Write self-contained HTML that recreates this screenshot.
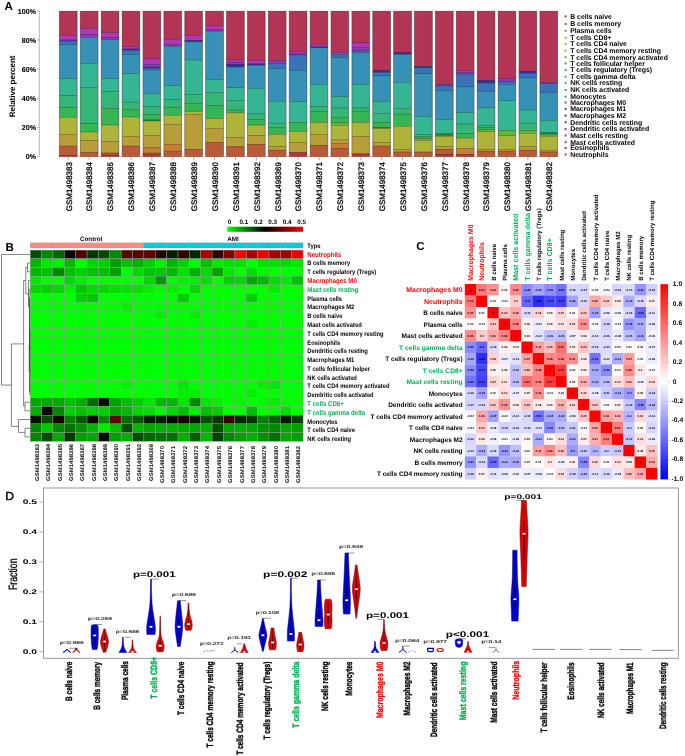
<!DOCTYPE html>
<html><head><meta charset="utf-8"><title>Figure</title><style>html,body{margin:0;padding:0;background:#fff}svg{display:block;will-change:transform}text{font-family:"Liberation Sans",sans-serif;text-rendering:geometricPrecision}</style></head><body>
<svg width="685" height="756" viewBox="0 0 685 756">
<rect width="685" height="756" fill="#fff"/>
<g id="panelA">
<text transform="translate(4.50,9.80)" font-size="11.6" font-weight="bold" fill="#000" text-anchor="start" >A</text>
<path d="M39.3 10.9V156.4" stroke="#777" stroke-width="0.55" fill="none"/>
<path d="M37 156.40H39.3" stroke="#777" stroke-width="0.55"/>
<text transform="translate(36.00,159.10)" font-size="7.1" font-weight="bold" fill="#000" text-anchor="end" stroke="#000" stroke-width="0.12">0%</text>
<path d="M37 127.30H39.3" stroke="#777" stroke-width="0.55"/>
<text transform="translate(36.00,130.00)" font-size="7.1" font-weight="bold" fill="#000" text-anchor="end" stroke="#000" stroke-width="0.12">20%</text>
<path d="M37 98.20H39.3" stroke="#777" stroke-width="0.55"/>
<text transform="translate(36.00,100.90)" font-size="7.1" font-weight="bold" fill="#000" text-anchor="end" stroke="#000" stroke-width="0.12">40%</text>
<path d="M37 69.10H39.3" stroke="#777" stroke-width="0.55"/>
<text transform="translate(36.00,71.80)" font-size="7.1" font-weight="bold" fill="#000" text-anchor="end" stroke="#000" stroke-width="0.12">60%</text>
<path d="M37 40.00H39.3" stroke="#777" stroke-width="0.55"/>
<text transform="translate(36.00,42.70)" font-size="7.1" font-weight="bold" fill="#000" text-anchor="end" stroke="#000" stroke-width="0.12">80%</text>
<path d="M37 10.90H39.3" stroke="#777" stroke-width="0.55"/>
<text transform="translate(36.00,13.60)" font-size="7.1" font-weight="bold" fill="#000" text-anchor="end" stroke="#000" stroke-width="0.12">100%</text>
<text transform="translate(15.00,86.40) rotate(-90)" font-size="8.0" font-weight="bold" fill="#000" text-anchor="middle" >Relative percent</text>
<path d="M59.1 156.70H557.97" stroke="#9a9a9a" stroke-width="0.7"/>
<rect x="58.90" y="10.70" width="18.80" height="146.10" fill="#b9b9b9"/>
<rect x="59.60" y="11.30" width="17.40" height="24.09" fill="#B23556" stroke="#6A1F33" stroke-width="0.45"/>
<rect x="59.60" y="35.39" width="17.40" height="4.64" fill="#B038B5" stroke="#69216C" stroke-width="0.45"/>
<rect x="59.60" y="40.03" width="17.40" height="1.31" fill="#6038B5" stroke="#39216C" stroke-width="0.45"/>
<rect x="59.60" y="41.34" width="17.40" height="3.34" fill="#3873B8" stroke="#21456E" stroke-width="0.45"/>
<rect x="59.60" y="44.67" width="17.40" height="33.95" fill="#3790B5" stroke="#21566C" stroke-width="0.45"/>
<rect x="59.60" y="78.63" width="17.40" height="17.12" fill="#35B593" stroke="#1F6C58" stroke-width="0.45"/>
<rect x="59.60" y="95.75" width="17.40" height="11.61" fill="#35B577" stroke="#1F6C47" stroke-width="0.45"/>
<rect x="59.60" y="107.36" width="17.40" height="9.87" fill="#35B553" stroke="#1F6C31" stroke-width="0.45"/>
<rect x="59.60" y="117.22" width="17.40" height="17.12" fill="#AEB33A" stroke="#686B22" stroke-width="0.45"/>
<rect x="59.60" y="134.34" width="17.40" height="11.75" fill="#B89E38" stroke="#6E5E21" stroke-width="0.45"/>
<rect x="59.60" y="146.10" width="17.40" height="9.43" fill="#B95A38" stroke="#6F3621" stroke-width="0.45"/>
<rect x="59.60" y="155.53" width="17.40" height="0.87" fill="#B4363A" stroke="#6C2022" stroke-width="0.45"/>
<path d="M68.30 156.90V160.20" stroke="#8a8a8a" stroke-width="0.7"/>
<text transform="translate(71.60,162.20) rotate(-90)" font-size="7.95" font-weight="normal" fill="#000" text-anchor="end" stroke="#000" stroke-width="0.3">GSM1498383</text>
<rect x="79.79" y="10.70" width="18.80" height="146.10" fill="#b9b9b9"/>
<rect x="80.49" y="11.30" width="17.40" height="17.27" fill="#B23556" stroke="#6A1F33" stroke-width="0.45"/>
<rect x="80.49" y="28.57" width="17.40" height="5.95" fill="#B038B5" stroke="#69216C" stroke-width="0.45"/>
<rect x="80.49" y="34.52" width="17.40" height="2.76" fill="#8A38B5" stroke="#52216C" stroke-width="0.45"/>
<rect x="80.49" y="37.27" width="17.40" height="26.12" fill="#3790B5" stroke="#21566C" stroke-width="0.45"/>
<rect x="80.49" y="63.39" width="17.40" height="24.09" fill="#35B593" stroke="#1F6C58" stroke-width="0.45"/>
<rect x="80.49" y="87.48" width="17.40" height="36.13" fill="#35B577" stroke="#1F6C47" stroke-width="0.45"/>
<rect x="80.49" y="123.61" width="17.40" height="8.42" fill="#35B553" stroke="#1F6C31" stroke-width="0.45"/>
<rect x="80.49" y="132.02" width="17.40" height="8.56" fill="#AEB33A" stroke="#686B22" stroke-width="0.45"/>
<rect x="80.49" y="140.58" width="17.40" height="12.04" fill="#B89E38" stroke="#6E5E21" stroke-width="0.45"/>
<rect x="80.49" y="152.63" width="17.40" height="3.77" fill="#B95A38" stroke="#6F3621" stroke-width="0.45"/>
<path d="M89.19 156.90V160.20" stroke="#8a8a8a" stroke-width="0.7"/>
<text transform="translate(92.49,162.20) rotate(-90)" font-size="7.95" font-weight="normal" fill="#000" text-anchor="end" stroke="#000" stroke-width="0.3">GSM1498384</text>
<rect x="100.68" y="10.70" width="18.80" height="146.10" fill="#b9b9b9"/>
<rect x="101.38" y="11.30" width="17.40" height="21.33" fill="#B23556" stroke="#6A1F33" stroke-width="0.45"/>
<rect x="101.38" y="32.63" width="17.40" height="4.79" fill="#B038B5" stroke="#69216C" stroke-width="0.45"/>
<rect x="101.38" y="37.42" width="17.40" height="2.32" fill="#8A38B5" stroke="#52216C" stroke-width="0.45"/>
<rect x="101.38" y="39.74" width="17.40" height="38.89" fill="#3790B5" stroke="#21566C" stroke-width="0.45"/>
<rect x="101.38" y="78.63" width="17.40" height="12.91" fill="#35B593" stroke="#1F6C58" stroke-width="0.45"/>
<rect x="101.38" y="91.54" width="17.40" height="16.98" fill="#35B577" stroke="#1F6C47" stroke-width="0.45"/>
<rect x="101.38" y="108.52" width="17.40" height="16.54" fill="#35B553" stroke="#1F6C31" stroke-width="0.45"/>
<rect x="101.38" y="125.06" width="17.40" height="16.40" fill="#AEB33A" stroke="#686B22" stroke-width="0.45"/>
<rect x="101.38" y="141.45" width="17.40" height="11.61" fill="#B89E38" stroke="#6E5E21" stroke-width="0.45"/>
<rect x="101.38" y="153.06" width="17.40" height="2.03" fill="#B95A38" stroke="#6F3621" stroke-width="0.45"/>
<rect x="101.38" y="155.09" width="17.40" height="1.31" fill="#B4363A" stroke="#6C2022" stroke-width="0.45"/>
<path d="M110.08 156.90V160.20" stroke="#8a8a8a" stroke-width="0.7"/>
<text transform="translate(113.38,162.20) rotate(-90)" font-size="7.95" font-weight="normal" fill="#000" text-anchor="end" stroke="#000" stroke-width="0.3">GSM1498385</text>
<rect x="121.57" y="10.70" width="18.80" height="146.10" fill="#b9b9b9"/>
<rect x="122.27" y="11.30" width="17.40" height="35.26" fill="#B23556" stroke="#6A1F33" stroke-width="0.45"/>
<rect x="122.27" y="46.56" width="17.40" height="2.47" fill="#B038B5" stroke="#69216C" stroke-width="0.45"/>
<rect x="122.27" y="49.03" width="17.40" height="1.16" fill="#3B2F9E" stroke="#231C5E" stroke-width="0.45"/>
<rect x="122.27" y="50.19" width="17.40" height="4.35" fill="#3873B8" stroke="#21456E" stroke-width="0.45"/>
<rect x="122.27" y="54.54" width="17.40" height="19.15" fill="#3790B5" stroke="#21566C" stroke-width="0.45"/>
<rect x="122.27" y="73.69" width="17.40" height="28.44" fill="#35B593" stroke="#1F6C58" stroke-width="0.45"/>
<rect x="122.27" y="102.13" width="17.40" height="7.11" fill="#35B577" stroke="#1F6C47" stroke-width="0.45"/>
<rect x="122.27" y="109.24" width="17.40" height="7.84" fill="#35B553" stroke="#1F6C31" stroke-width="0.45"/>
<rect x="122.27" y="117.08" width="17.40" height="19.30" fill="#AEB33A" stroke="#686B22" stroke-width="0.45"/>
<rect x="122.27" y="136.38" width="17.40" height="9.72" fill="#B89E38" stroke="#6E5E21" stroke-width="0.45"/>
<rect x="122.27" y="146.10" width="17.40" height="10.30" fill="#B95A38" stroke="#6F3621" stroke-width="0.45"/>
<path d="M130.97 156.90V160.20" stroke="#8a8a8a" stroke-width="0.7"/>
<text transform="translate(134.27,162.20) rotate(-90)" font-size="7.95" font-weight="normal" fill="#000" text-anchor="end" stroke="#000" stroke-width="0.3">GSM1498386</text>
<rect x="142.46" y="10.70" width="18.80" height="146.10" fill="#b9b9b9"/>
<rect x="143.16" y="11.30" width="17.40" height="47.45" fill="#B23556" stroke="#6A1F33" stroke-width="0.45"/>
<rect x="143.16" y="58.75" width="17.40" height="5.51" fill="#B038B5" stroke="#69216C" stroke-width="0.45"/>
<rect x="143.16" y="64.26" width="17.40" height="2.90" fill="#8A38B5" stroke="#52216C" stroke-width="0.45"/>
<rect x="143.16" y="67.16" width="17.40" height="1.02" fill="#3B2F9E" stroke="#231C5E" stroke-width="0.45"/>
<rect x="143.16" y="68.18" width="17.40" height="1.74" fill="#3873B8" stroke="#21456E" stroke-width="0.45"/>
<rect x="143.16" y="69.92" width="17.40" height="23.51" fill="#3790B5" stroke="#21566C" stroke-width="0.45"/>
<rect x="143.16" y="93.43" width="17.40" height="13.06" fill="#35B593" stroke="#1F6C58" stroke-width="0.45"/>
<rect x="143.16" y="106.49" width="17.40" height="7.98" fill="#35B577" stroke="#1F6C47" stroke-width="0.45"/>
<rect x="143.16" y="114.47" width="17.40" height="5.51" fill="#35B553" stroke="#1F6C31" stroke-width="0.45"/>
<rect x="143.16" y="119.98" width="17.40" height="1.02" fill="#2E8A35" stroke="#1B521F" stroke-width="0.45"/>
<rect x="143.16" y="121.00" width="17.40" height="14.51" fill="#AEB33A" stroke="#686B22" stroke-width="0.45"/>
<rect x="143.16" y="135.51" width="17.40" height="12.33" fill="#B89E38" stroke="#6E5E21" stroke-width="0.45"/>
<rect x="143.16" y="147.84" width="17.40" height="5.22" fill="#C47F35" stroke="#754C1F" stroke-width="0.45"/>
<rect x="143.16" y="153.06" width="17.40" height="1.60" fill="#B95A38" stroke="#6F3621" stroke-width="0.45"/>
<rect x="143.16" y="154.66" width="17.40" height="1.74" fill="#B4363A" stroke="#6C2022" stroke-width="0.45"/>
<path d="M151.86 156.90V160.20" stroke="#8a8a8a" stroke-width="0.7"/>
<text transform="translate(155.16,162.20) rotate(-90)" font-size="7.95" font-weight="normal" fill="#000" text-anchor="end" stroke="#000" stroke-width="0.3">GSM1498387</text>
<rect x="163.35" y="10.70" width="18.80" height="146.10" fill="#b9b9b9"/>
<rect x="164.05" y="11.30" width="17.40" height="28.29" fill="#B23556" stroke="#6A1F33" stroke-width="0.45"/>
<rect x="164.05" y="39.59" width="17.40" height="4.79" fill="#B038B5" stroke="#69216C" stroke-width="0.45"/>
<rect x="164.05" y="44.38" width="17.40" height="2.18" fill="#8A38B5" stroke="#52216C" stroke-width="0.45"/>
<rect x="164.05" y="46.56" width="17.40" height="39.03" fill="#3790B5" stroke="#21566C" stroke-width="0.45"/>
<rect x="164.05" y="85.59" width="17.40" height="13.93" fill="#35B593" stroke="#1F6C58" stroke-width="0.45"/>
<rect x="164.05" y="99.52" width="17.40" height="7.84" fill="#35B577" stroke="#1F6C47" stroke-width="0.45"/>
<rect x="164.05" y="107.36" width="17.40" height="7.98" fill="#35B553" stroke="#1F6C31" stroke-width="0.45"/>
<rect x="164.05" y="115.34" width="17.40" height="9.14" fill="#AEB33A" stroke="#686B22" stroke-width="0.45"/>
<rect x="164.05" y="124.48" width="17.40" height="19.73" fill="#B89E38" stroke="#6E5E21" stroke-width="0.45"/>
<rect x="164.05" y="144.21" width="17.40" height="6.96" fill="#C47F35" stroke="#754C1F" stroke-width="0.45"/>
<rect x="164.05" y="151.18" width="17.40" height="5.22" fill="#B95A38" stroke="#6F3621" stroke-width="0.45"/>
<path d="M172.75 156.90V160.20" stroke="#8a8a8a" stroke-width="0.7"/>
<text transform="translate(176.05,162.20) rotate(-90)" font-size="7.95" font-weight="normal" fill="#000" text-anchor="end" stroke="#000" stroke-width="0.3">GSM1498388</text>
<rect x="184.24" y="10.70" width="18.80" height="146.10" fill="#b9b9b9"/>
<rect x="184.94" y="11.30" width="17.40" height="24.09" fill="#B23556" stroke="#6A1F33" stroke-width="0.45"/>
<rect x="184.94" y="35.39" width="17.40" height="5.08" fill="#B038B5" stroke="#69216C" stroke-width="0.45"/>
<rect x="184.94" y="40.47" width="17.40" height="1.45" fill="#3B2F9E" stroke="#231C5E" stroke-width="0.45"/>
<rect x="184.94" y="41.92" width="17.40" height="18.14" fill="#3790B5" stroke="#21566C" stroke-width="0.45"/>
<rect x="184.94" y="60.05" width="17.40" height="34.24" fill="#35B593" stroke="#1F6C58" stroke-width="0.45"/>
<rect x="184.94" y="94.30" width="17.40" height="9.00" fill="#35B577" stroke="#1F6C47" stroke-width="0.45"/>
<rect x="184.94" y="103.29" width="17.40" height="8.27" fill="#35B553" stroke="#1F6C31" stroke-width="0.45"/>
<rect x="184.94" y="111.56" width="17.40" height="2.90" fill="#AEB33A" stroke="#686B22" stroke-width="0.45"/>
<rect x="184.94" y="114.47" width="17.40" height="35.11" fill="#B89E38" stroke="#6E5E21" stroke-width="0.45"/>
<rect x="184.94" y="149.58" width="17.40" height="6.82" fill="#B95A38" stroke="#6F3621" stroke-width="0.45"/>
<path d="M193.64 156.90V160.20" stroke="#8a8a8a" stroke-width="0.7"/>
<text transform="translate(196.94,162.20) rotate(-90)" font-size="7.95" font-weight="normal" fill="#000" text-anchor="end" stroke="#000" stroke-width="0.3">GSM1498389</text>
<rect x="205.13" y="10.70" width="18.80" height="146.10" fill="#b9b9b9"/>
<rect x="205.83" y="11.30" width="17.40" height="14.51" fill="#B23556" stroke="#6A1F33" stroke-width="0.45"/>
<rect x="205.83" y="25.81" width="17.40" height="4.06" fill="#B038B5" stroke="#69216C" stroke-width="0.45"/>
<rect x="205.83" y="29.87" width="17.40" height="1.31" fill="#8A38B5" stroke="#52216C" stroke-width="0.45"/>
<rect x="205.83" y="31.18" width="17.40" height="48.46" fill="#3790B5" stroke="#21566C" stroke-width="0.45"/>
<rect x="205.83" y="79.64" width="17.40" height="12.77" fill="#35B593" stroke="#1F6C58" stroke-width="0.45"/>
<rect x="205.83" y="92.41" width="17.40" height="13.06" fill="#35B577" stroke="#1F6C47" stroke-width="0.45"/>
<rect x="205.83" y="105.47" width="17.40" height="13.06" fill="#35B553" stroke="#1F6C31" stroke-width="0.45"/>
<rect x="205.83" y="118.53" width="17.40" height="9.72" fill="#AEB33A" stroke="#686B22" stroke-width="0.45"/>
<rect x="205.83" y="128.25" width="17.40" height="14.51" fill="#B89E38" stroke="#6E5E21" stroke-width="0.45"/>
<rect x="205.83" y="142.76" width="17.40" height="13.64" fill="#B95A38" stroke="#6F3621" stroke-width="0.45"/>
<path d="M214.53 156.90V160.20" stroke="#8a8a8a" stroke-width="0.7"/>
<text transform="translate(217.83,162.20) rotate(-90)" font-size="7.95" font-weight="normal" fill="#000" text-anchor="end" stroke="#000" stroke-width="0.3">GSM1498390</text>
<rect x="226.02" y="10.70" width="18.80" height="146.10" fill="#b9b9b9"/>
<rect x="226.72" y="11.30" width="17.40" height="48.75" fill="#B23556" stroke="#6A1F33" stroke-width="0.45"/>
<rect x="226.72" y="60.05" width="17.40" height="2.47" fill="#B038B5" stroke="#69216C" stroke-width="0.45"/>
<rect x="226.72" y="62.52" width="17.40" height="1.74" fill="#8A38B5" stroke="#52216C" stroke-width="0.45"/>
<rect x="226.72" y="64.26" width="17.40" height="2.90" fill="#3B2F9E" stroke="#231C5E" stroke-width="0.45"/>
<rect x="226.72" y="67.16" width="17.40" height="20.60" fill="#3790B5" stroke="#21566C" stroke-width="0.45"/>
<rect x="226.72" y="87.77" width="17.40" height="12.48" fill="#35B593" stroke="#1F6C58" stroke-width="0.45"/>
<rect x="226.72" y="100.25" width="17.40" height="9.87" fill="#35B577" stroke="#1F6C47" stroke-width="0.45"/>
<rect x="226.72" y="110.11" width="17.40" height="2.76" fill="#35B553" stroke="#1F6C31" stroke-width="0.45"/>
<rect x="226.72" y="112.87" width="17.40" height="24.67" fill="#AEB33A" stroke="#686B22" stroke-width="0.45"/>
<rect x="226.72" y="137.54" width="17.40" height="9.29" fill="#B89E38" stroke="#6E5E21" stroke-width="0.45"/>
<rect x="226.72" y="146.82" width="17.40" height="9.58" fill="#B95A38" stroke="#6F3621" stroke-width="0.45"/>
<path d="M235.42 156.90V160.20" stroke="#8a8a8a" stroke-width="0.7"/>
<text transform="translate(238.72,162.20) rotate(-90)" font-size="7.95" font-weight="normal" fill="#000" text-anchor="end" stroke="#000" stroke-width="0.3">GSM1498391</text>
<rect x="246.91" y="10.70" width="18.80" height="146.10" fill="#b9b9b9"/>
<rect x="247.61" y="11.30" width="17.40" height="49.33" fill="#B23556" stroke="#6A1F33" stroke-width="0.45"/>
<rect x="247.61" y="60.63" width="17.40" height="3.34" fill="#B038B5" stroke="#69216C" stroke-width="0.45"/>
<rect x="247.61" y="63.97" width="17.40" height="1.31" fill="#3B2F9E" stroke="#231C5E" stroke-width="0.45"/>
<rect x="247.61" y="65.28" width="17.40" height="23.07" fill="#3790B5" stroke="#21566C" stroke-width="0.45"/>
<rect x="247.61" y="88.35" width="17.40" height="25.54" fill="#35B593" stroke="#1F6C58" stroke-width="0.45"/>
<rect x="247.61" y="113.89" width="17.40" height="5.66" fill="#35B577" stroke="#1F6C47" stroke-width="0.45"/>
<rect x="247.61" y="119.54" width="17.40" height="5.51" fill="#35B553" stroke="#1F6C31" stroke-width="0.45"/>
<rect x="247.61" y="125.06" width="17.40" height="10.59" fill="#AEB33A" stroke="#686B22" stroke-width="0.45"/>
<rect x="247.61" y="135.65" width="17.40" height="8.56" fill="#B89E38" stroke="#6E5E21" stroke-width="0.45"/>
<rect x="247.61" y="144.21" width="17.40" height="12.19" fill="#B95A38" stroke="#6F3621" stroke-width="0.45"/>
<path d="M256.31 156.90V160.20" stroke="#8a8a8a" stroke-width="0.7"/>
<text transform="translate(259.61,162.20) rotate(-90)" font-size="7.95" font-weight="normal" fill="#000" text-anchor="end" stroke="#000" stroke-width="0.3">GSM1498392</text>
<rect x="267.80" y="10.70" width="18.80" height="146.10" fill="#b9b9b9"/>
<rect x="268.50" y="11.30" width="17.40" height="49.33" fill="#B23556" stroke="#6A1F33" stroke-width="0.45"/>
<rect x="268.50" y="60.63" width="17.40" height="2.76" fill="#8A38B5" stroke="#52216C" stroke-width="0.45"/>
<rect x="268.50" y="63.39" width="17.40" height="5.22" fill="#3873B8" stroke="#21456E" stroke-width="0.45"/>
<rect x="268.50" y="68.61" width="17.40" height="32.65" fill="#3790B5" stroke="#21566C" stroke-width="0.45"/>
<rect x="268.50" y="101.26" width="17.40" height="21.91" fill="#35B593" stroke="#1F6C58" stroke-width="0.45"/>
<rect x="268.50" y="123.17" width="17.40" height="4.06" fill="#35B577" stroke="#1F6C47" stroke-width="0.45"/>
<rect x="268.50" y="127.23" width="17.40" height="7.11" fill="#35B553" stroke="#1F6C31" stroke-width="0.45"/>
<rect x="268.50" y="134.34" width="17.40" height="12.19" fill="#AEB33A" stroke="#686B22" stroke-width="0.45"/>
<rect x="268.50" y="146.53" width="17.40" height="3.63" fill="#B89E38" stroke="#6E5E21" stroke-width="0.45"/>
<rect x="268.50" y="150.16" width="17.40" height="6.24" fill="#B95A38" stroke="#6F3621" stroke-width="0.45"/>
<path d="M277.20 156.90V160.20" stroke="#8a8a8a" stroke-width="0.7"/>
<text transform="translate(280.50,162.20) rotate(-90)" font-size="7.95" font-weight="normal" fill="#000" text-anchor="end" stroke="#000" stroke-width="0.3">GSM1498369</text>
<rect x="288.69" y="10.70" width="18.80" height="146.10" fill="#b9b9b9"/>
<rect x="289.39" y="11.30" width="17.40" height="40.34" fill="#B23556" stroke="#6A1F33" stroke-width="0.45"/>
<rect x="289.39" y="51.64" width="17.40" height="1.74" fill="#B038B5" stroke="#69216C" stroke-width="0.45"/>
<rect x="289.39" y="53.38" width="17.40" height="1.60" fill="#8A38B5" stroke="#52216C" stroke-width="0.45"/>
<rect x="289.39" y="54.98" width="17.40" height="15.53" fill="#3873B8" stroke="#21456E" stroke-width="0.45"/>
<rect x="289.39" y="70.50" width="17.40" height="31.20" fill="#3790B5" stroke="#21566C" stroke-width="0.45"/>
<rect x="289.39" y="101.70" width="17.40" height="20.89" fill="#35B593" stroke="#1F6C58" stroke-width="0.45"/>
<rect x="289.39" y="122.59" width="17.40" height="9.00" fill="#35B553" stroke="#1F6C31" stroke-width="0.45"/>
<rect x="289.39" y="131.59" width="17.40" height="10.88" fill="#AEB33A" stroke="#686B22" stroke-width="0.45"/>
<rect x="289.39" y="142.47" width="17.40" height="10.01" fill="#B89E38" stroke="#6E5E21" stroke-width="0.45"/>
<rect x="289.39" y="152.48" width="17.40" height="3.92" fill="#B4363A" stroke="#6C2022" stroke-width="0.45"/>
<path d="M298.09 156.90V160.20" stroke="#8a8a8a" stroke-width="0.7"/>
<text transform="translate(301.39,162.20) rotate(-90)" font-size="7.95" font-weight="normal" fill="#000" text-anchor="end" stroke="#000" stroke-width="0.3">GSM1498370</text>
<rect x="309.58" y="10.70" width="18.80" height="146.10" fill="#b9b9b9"/>
<rect x="310.28" y="11.30" width="17.40" height="33.08" fill="#B23556" stroke="#6A1F33" stroke-width="0.45"/>
<rect x="310.28" y="44.38" width="17.40" height="2.61" fill="#B038B5" stroke="#69216C" stroke-width="0.45"/>
<rect x="310.28" y="46.99" width="17.40" height="0.87" fill="#3B2F9E" stroke="#231C5E" stroke-width="0.45"/>
<rect x="310.28" y="47.87" width="17.40" height="36.57" fill="#3790B5" stroke="#21566C" stroke-width="0.45"/>
<rect x="310.28" y="84.43" width="17.40" height="22.06" fill="#35B593" stroke="#1F6C58" stroke-width="0.45"/>
<rect x="310.28" y="106.49" width="17.40" height="4.93" fill="#35B577" stroke="#1F6C47" stroke-width="0.45"/>
<rect x="310.28" y="111.42" width="17.40" height="11.17" fill="#35B553" stroke="#1F6C31" stroke-width="0.45"/>
<rect x="310.28" y="122.59" width="17.40" height="11.75" fill="#AEB33A" stroke="#686B22" stroke-width="0.45"/>
<rect x="310.28" y="134.34" width="17.40" height="10.88" fill="#B89E38" stroke="#6E5E21" stroke-width="0.45"/>
<rect x="310.28" y="145.23" width="17.40" height="11.17" fill="#B95A38" stroke="#6F3621" stroke-width="0.45"/>
<path d="M318.98 156.90V160.20" stroke="#8a8a8a" stroke-width="0.7"/>
<text transform="translate(322.28,162.20) rotate(-90)" font-size="7.95" font-weight="normal" fill="#000" text-anchor="end" stroke="#000" stroke-width="0.3">GSM1498371</text>
<rect x="330.47" y="10.70" width="18.80" height="146.10" fill="#b9b9b9"/>
<rect x="331.17" y="11.30" width="17.40" height="41.21" fill="#B23556" stroke="#6A1F33" stroke-width="0.45"/>
<rect x="331.17" y="52.51" width="17.40" height="2.03" fill="#B038B5" stroke="#69216C" stroke-width="0.45"/>
<rect x="331.17" y="54.54" width="17.40" height="3.19" fill="#3873B8" stroke="#21456E" stroke-width="0.45"/>
<rect x="331.17" y="57.73" width="17.40" height="38.89" fill="#3790B5" stroke="#21566C" stroke-width="0.45"/>
<rect x="331.17" y="96.62" width="17.40" height="11.32" fill="#35B593" stroke="#1F6C58" stroke-width="0.45"/>
<rect x="331.17" y="107.94" width="17.40" height="9.29" fill="#35B577" stroke="#1F6C47" stroke-width="0.45"/>
<rect x="331.17" y="117.22" width="17.40" height="5.51" fill="#35B553" stroke="#1F6C31" stroke-width="0.45"/>
<rect x="331.17" y="122.74" width="17.40" height="2.61" fill="#5DB53A" stroke="#376C22" stroke-width="0.45"/>
<rect x="331.17" y="125.35" width="17.40" height="14.66" fill="#AEB33A" stroke="#686B22" stroke-width="0.45"/>
<rect x="331.17" y="140.00" width="17.40" height="3.34" fill="#B89E38" stroke="#6E5E21" stroke-width="0.45"/>
<rect x="331.17" y="143.34" width="17.40" height="4.93" fill="#C47F35" stroke="#754C1F" stroke-width="0.45"/>
<rect x="331.17" y="148.27" width="17.40" height="8.13" fill="#B95A38" stroke="#6F3621" stroke-width="0.45"/>
<path d="M339.87 156.90V160.20" stroke="#8a8a8a" stroke-width="0.7"/>
<text transform="translate(343.17,162.20) rotate(-90)" font-size="7.95" font-weight="normal" fill="#000" text-anchor="end" stroke="#000" stroke-width="0.3">GSM1498372</text>
<rect x="351.36" y="10.70" width="18.80" height="146.10" fill="#b9b9b9"/>
<rect x="352.06" y="11.30" width="17.40" height="31.63" fill="#B23556" stroke="#6A1F33" stroke-width="0.45"/>
<rect x="352.06" y="42.93" width="17.40" height="4.64" fill="#B038B5" stroke="#69216C" stroke-width="0.45"/>
<rect x="352.06" y="47.58" width="17.40" height="3.34" fill="#8A38B5" stroke="#52216C" stroke-width="0.45"/>
<rect x="352.06" y="50.91" width="17.40" height="1.89" fill="#3873B8" stroke="#21456E" stroke-width="0.45"/>
<rect x="352.06" y="52.80" width="17.40" height="31.78" fill="#3790B5" stroke="#21566C" stroke-width="0.45"/>
<rect x="352.06" y="84.58" width="17.40" height="23.36" fill="#35B593" stroke="#1F6C58" stroke-width="0.45"/>
<rect x="352.06" y="107.94" width="17.40" height="3.19" fill="#35B577" stroke="#1F6C47" stroke-width="0.45"/>
<rect x="352.06" y="111.13" width="17.40" height="11.46" fill="#35B553" stroke="#1F6C31" stroke-width="0.45"/>
<rect x="352.06" y="122.59" width="17.40" height="13.93" fill="#AEB33A" stroke="#686B22" stroke-width="0.45"/>
<rect x="352.06" y="136.52" width="17.40" height="17.41" fill="#B89E38" stroke="#6E5E21" stroke-width="0.45"/>
<rect x="352.06" y="153.93" width="17.40" height="2.47" fill="#B4363A" stroke="#6C2022" stroke-width="0.45"/>
<path d="M360.76 156.90V160.20" stroke="#8a8a8a" stroke-width="0.7"/>
<text transform="translate(364.06,162.20) rotate(-90)" font-size="7.95" font-weight="normal" fill="#000" text-anchor="end" stroke="#000" stroke-width="0.3">GSM1498373</text>
<rect x="372.25" y="10.70" width="18.80" height="146.10" fill="#b9b9b9"/>
<rect x="372.95" y="11.30" width="17.40" height="59.49" fill="#B23556" stroke="#6A1F33" stroke-width="0.45"/>
<rect x="372.95" y="70.79" width="17.40" height="1.60" fill="#3B2F9E" stroke="#231C5E" stroke-width="0.45"/>
<rect x="372.95" y="72.39" width="17.40" height="3.48" fill="#3873B8" stroke="#21456E" stroke-width="0.45"/>
<rect x="372.95" y="75.87" width="17.40" height="25.54" fill="#3790B5" stroke="#21566C" stroke-width="0.45"/>
<rect x="372.95" y="101.41" width="17.40" height="11.90" fill="#35B593" stroke="#1F6C58" stroke-width="0.45"/>
<rect x="372.95" y="113.31" width="17.40" height="9.00" fill="#35B577" stroke="#1F6C47" stroke-width="0.45"/>
<rect x="372.95" y="122.30" width="17.40" height="5.22" fill="#35B553" stroke="#1F6C31" stroke-width="0.45"/>
<rect x="372.95" y="127.53" width="17.40" height="1.02" fill="#2E8A35" stroke="#1B521F" stroke-width="0.45"/>
<rect x="372.95" y="128.54" width="17.40" height="13.93" fill="#AEB33A" stroke="#686B22" stroke-width="0.45"/>
<rect x="372.95" y="142.47" width="17.40" height="3.63" fill="#B89E38" stroke="#6E5E21" stroke-width="0.45"/>
<rect x="372.95" y="146.10" width="17.40" height="10.30" fill="#B95A38" stroke="#6F3621" stroke-width="0.45"/>
<path d="M381.65 156.90V160.20" stroke="#8a8a8a" stroke-width="0.7"/>
<text transform="translate(384.95,162.20) rotate(-90)" font-size="7.95" font-weight="normal" fill="#000" text-anchor="end" stroke="#000" stroke-width="0.3">GSM1498374</text>
<rect x="393.14" y="10.70" width="18.80" height="146.10" fill="#b9b9b9"/>
<rect x="393.84" y="11.30" width="17.40" height="41.50" fill="#B23556" stroke="#6A1F33" stroke-width="0.45"/>
<rect x="393.84" y="52.80" width="17.40" height="1.74" fill="#3B2F9E" stroke="#231C5E" stroke-width="0.45"/>
<rect x="393.84" y="54.54" width="17.40" height="27.71" fill="#3790B5" stroke="#21566C" stroke-width="0.45"/>
<rect x="393.84" y="82.25" width="17.40" height="26.12" fill="#35B593" stroke="#1F6C58" stroke-width="0.45"/>
<rect x="393.84" y="108.37" width="17.40" height="5.80" fill="#35B577" stroke="#1F6C47" stroke-width="0.45"/>
<rect x="393.84" y="114.18" width="17.40" height="12.19" fill="#35B553" stroke="#1F6C31" stroke-width="0.45"/>
<rect x="393.84" y="126.36" width="17.40" height="23.22" fill="#AEB33A" stroke="#686B22" stroke-width="0.45"/>
<rect x="393.84" y="149.58" width="17.40" height="2.47" fill="#B89E38" stroke="#6E5E21" stroke-width="0.45"/>
<rect x="393.84" y="152.05" width="17.40" height="4.35" fill="#B95A38" stroke="#6F3621" stroke-width="0.45"/>
<path d="M402.54 156.90V160.20" stroke="#8a8a8a" stroke-width="0.7"/>
<text transform="translate(405.84,162.20) rotate(-90)" font-size="7.95" font-weight="normal" fill="#000" text-anchor="end" stroke="#000" stroke-width="0.3">GSM1498375</text>
<rect x="414.03" y="10.70" width="18.80" height="146.10" fill="#b9b9b9"/>
<rect x="414.73" y="11.30" width="17.40" height="55.28" fill="#B23556" stroke="#6A1F33" stroke-width="0.45"/>
<rect x="414.73" y="66.58" width="17.40" height="1.31" fill="#3B2F9E" stroke="#231C5E" stroke-width="0.45"/>
<rect x="414.73" y="67.89" width="17.40" height="5.80" fill="#3873B8" stroke="#21456E" stroke-width="0.45"/>
<rect x="414.73" y="73.69" width="17.40" height="42.66" fill="#3790B5" stroke="#21566C" stroke-width="0.45"/>
<rect x="414.73" y="116.35" width="17.40" height="17.99" fill="#35B593" stroke="#1F6C58" stroke-width="0.45"/>
<rect x="414.73" y="134.34" width="17.40" height="1.89" fill="#35B577" stroke="#1F6C47" stroke-width="0.45"/>
<rect x="414.73" y="136.23" width="17.40" height="2.47" fill="#35B553" stroke="#1F6C31" stroke-width="0.45"/>
<rect x="414.73" y="138.70" width="17.40" height="1.60" fill="#5DB53A" stroke="#376C22" stroke-width="0.45"/>
<rect x="414.73" y="140.29" width="17.40" height="11.75" fill="#AEB33A" stroke="#686B22" stroke-width="0.45"/>
<rect x="414.73" y="152.05" width="17.40" height="4.35" fill="#B95A38" stroke="#6F3621" stroke-width="0.45"/>
<path d="M423.43 156.90V160.20" stroke="#8a8a8a" stroke-width="0.7"/>
<text transform="translate(426.73,162.20) rotate(-90)" font-size="7.95" font-weight="normal" fill="#000" text-anchor="end" stroke="#000" stroke-width="0.3">GSM1498376</text>
<rect x="434.92" y="10.70" width="18.80" height="146.10" fill="#b9b9b9"/>
<rect x="435.62" y="11.30" width="17.40" height="73.13" fill="#B23556" stroke="#6A1F33" stroke-width="0.45"/>
<rect x="435.62" y="84.43" width="17.40" height="1.45" fill="#8A38B5" stroke="#52216C" stroke-width="0.45"/>
<rect x="435.62" y="85.88" width="17.40" height="4.64" fill="#3873B8" stroke="#21456E" stroke-width="0.45"/>
<rect x="435.62" y="90.52" width="17.40" height="29.02" fill="#3790B5" stroke="#21566C" stroke-width="0.45"/>
<rect x="435.62" y="119.54" width="17.40" height="14.36" fill="#35B593" stroke="#1F6C58" stroke-width="0.45"/>
<rect x="435.62" y="133.91" width="17.40" height="2.32" fill="#2E8A35" stroke="#1B521F" stroke-width="0.45"/>
<rect x="435.62" y="136.23" width="17.40" height="10.30" fill="#AEB33A" stroke="#686B22" stroke-width="0.45"/>
<rect x="435.62" y="146.53" width="17.40" height="2.76" fill="#B89E38" stroke="#6E5E21" stroke-width="0.45"/>
<rect x="435.62" y="149.29" width="17.40" height="5.22" fill="#B95A38" stroke="#6F3621" stroke-width="0.45"/>
<rect x="435.62" y="154.51" width="17.40" height="1.89" fill="#B4363A" stroke="#6C2022" stroke-width="0.45"/>
<path d="M444.32 156.90V160.20" stroke="#8a8a8a" stroke-width="0.7"/>
<text transform="translate(447.62,162.20) rotate(-90)" font-size="7.95" font-weight="normal" fill="#000" text-anchor="end" stroke="#000" stroke-width="0.3">GSM1498377</text>
<rect x="455.81" y="10.70" width="18.80" height="146.10" fill="#b9b9b9"/>
<rect x="456.51" y="11.30" width="17.40" height="59.20" fill="#B23556" stroke="#6A1F33" stroke-width="0.45"/>
<rect x="456.51" y="70.50" width="17.40" height="2.03" fill="#B038B5" stroke="#69216C" stroke-width="0.45"/>
<rect x="456.51" y="72.53" width="17.40" height="2.03" fill="#8A38B5" stroke="#52216C" stroke-width="0.45"/>
<rect x="456.51" y="74.56" width="17.40" height="12.33" fill="#3873B8" stroke="#21456E" stroke-width="0.45"/>
<rect x="456.51" y="86.90" width="17.40" height="25.68" fill="#3790B5" stroke="#21566C" stroke-width="0.45"/>
<rect x="456.51" y="112.58" width="17.40" height="11.46" fill="#35B593" stroke="#1F6C58" stroke-width="0.45"/>
<rect x="456.51" y="124.04" width="17.40" height="9.43" fill="#35B577" stroke="#1F6C47" stroke-width="0.45"/>
<rect x="456.51" y="133.47" width="17.40" height="4.64" fill="#35B553" stroke="#1F6C31" stroke-width="0.45"/>
<rect x="456.51" y="138.12" width="17.40" height="10.16" fill="#AEB33A" stroke="#686B22" stroke-width="0.45"/>
<rect x="456.51" y="148.27" width="17.40" height="6.24" fill="#C47F35" stroke="#754C1F" stroke-width="0.45"/>
<rect x="456.51" y="154.51" width="17.40" height="1.89" fill="#B4363A" stroke="#6C2022" stroke-width="0.45"/>
<path d="M465.21 156.90V160.20" stroke="#8a8a8a" stroke-width="0.7"/>
<text transform="translate(468.51,162.20) rotate(-90)" font-size="7.95" font-weight="normal" fill="#000" text-anchor="end" stroke="#000" stroke-width="0.3">GSM1498378</text>
<rect x="476.70" y="10.70" width="18.80" height="146.10" fill="#b9b9b9"/>
<rect x="477.40" y="11.30" width="17.40" height="69.36" fill="#B23556" stroke="#6A1F33" stroke-width="0.45"/>
<rect x="477.40" y="80.66" width="17.40" height="2.32" fill="#3B2F9E" stroke="#231C5E" stroke-width="0.45"/>
<rect x="477.40" y="82.98" width="17.40" height="8.56" fill="#3873B8" stroke="#21456E" stroke-width="0.45"/>
<rect x="477.40" y="91.54" width="17.40" height="16.40" fill="#3790B5" stroke="#21566C" stroke-width="0.45"/>
<rect x="477.40" y="107.94" width="17.40" height="17.41" fill="#35B593" stroke="#1F6C58" stroke-width="0.45"/>
<rect x="477.40" y="125.35" width="17.40" height="2.32" fill="#35B577" stroke="#1F6C47" stroke-width="0.45"/>
<rect x="477.40" y="127.67" width="17.40" height="2.03" fill="#35B553" stroke="#1F6C31" stroke-width="0.45"/>
<rect x="477.40" y="129.70" width="17.40" height="1.89" fill="#5DB53A" stroke="#376C22" stroke-width="0.45"/>
<rect x="477.40" y="131.59" width="17.40" height="17.70" fill="#AEB33A" stroke="#686B22" stroke-width="0.45"/>
<rect x="477.40" y="149.29" width="17.40" height="1.89" fill="#B89E38" stroke="#6E5E21" stroke-width="0.45"/>
<rect x="477.40" y="151.18" width="17.40" height="5.22" fill="#B95A38" stroke="#6F3621" stroke-width="0.45"/>
<path d="M486.10 156.90V160.20" stroke="#8a8a8a" stroke-width="0.7"/>
<text transform="translate(489.40,162.20) rotate(-90)" font-size="7.95" font-weight="normal" fill="#000" text-anchor="end" stroke="#000" stroke-width="0.3">GSM1498379</text>
<rect x="497.59" y="10.70" width="18.80" height="146.10" fill="#b9b9b9"/>
<rect x="498.29" y="11.30" width="17.40" height="67.33" fill="#B23556" stroke="#6A1F33" stroke-width="0.45"/>
<rect x="498.29" y="78.63" width="17.40" height="3.34" fill="#8A38B5" stroke="#52216C" stroke-width="0.45"/>
<rect x="498.29" y="81.96" width="17.40" height="2.47" fill="#3873B8" stroke="#21456E" stroke-width="0.45"/>
<rect x="498.29" y="84.43" width="17.40" height="16.40" fill="#3790B5" stroke="#21566C" stroke-width="0.45"/>
<rect x="498.29" y="100.83" width="17.40" height="29.46" fill="#35B593" stroke="#1F6C58" stroke-width="0.45"/>
<rect x="498.29" y="130.28" width="17.40" height="5.51" fill="#5DB53A" stroke="#376C22" stroke-width="0.45"/>
<rect x="498.29" y="135.80" width="17.40" height="13.49" fill="#AEB33A" stroke="#686B22" stroke-width="0.45"/>
<rect x="498.29" y="149.29" width="17.40" height="1.89" fill="#B89E38" stroke="#6E5E21" stroke-width="0.45"/>
<rect x="498.29" y="151.18" width="17.40" height="5.22" fill="#B95A38" stroke="#6F3621" stroke-width="0.45"/>
<path d="M506.99 156.90V160.20" stroke="#8a8a8a" stroke-width="0.7"/>
<text transform="translate(510.29,162.20) rotate(-90)" font-size="7.95" font-weight="normal" fill="#000" text-anchor="end" stroke="#000" stroke-width="0.3">GSM1498380</text>
<rect x="518.48" y="10.70" width="18.80" height="146.10" fill="#b9b9b9"/>
<rect x="519.18" y="11.30" width="17.40" height="59.93" fill="#B23556" stroke="#6A1F33" stroke-width="0.45"/>
<rect x="519.18" y="71.23" width="17.40" height="2.03" fill="#3B2F9E" stroke="#231C5E" stroke-width="0.45"/>
<rect x="519.18" y="73.26" width="17.40" height="4.50" fill="#3873B8" stroke="#21456E" stroke-width="0.45"/>
<rect x="519.18" y="77.76" width="17.40" height="32.36" fill="#3790B5" stroke="#21566C" stroke-width="0.45"/>
<rect x="519.18" y="110.11" width="17.40" height="13.06" fill="#35B593" stroke="#1F6C58" stroke-width="0.45"/>
<rect x="519.18" y="123.17" width="17.40" height="7.11" fill="#35B577" stroke="#1F6C47" stroke-width="0.45"/>
<rect x="519.18" y="130.28" width="17.40" height="3.19" fill="#5DB53A" stroke="#376C22" stroke-width="0.45"/>
<rect x="519.18" y="133.47" width="17.40" height="13.06" fill="#AEB33A" stroke="#686B22" stroke-width="0.45"/>
<rect x="519.18" y="146.53" width="17.40" height="3.63" fill="#B89E38" stroke="#6E5E21" stroke-width="0.45"/>
<rect x="519.18" y="150.16" width="17.40" height="6.24" fill="#B95A38" stroke="#6F3621" stroke-width="0.45"/>
<path d="M527.88 156.90V160.20" stroke="#8a8a8a" stroke-width="0.7"/>
<text transform="translate(531.18,162.20) rotate(-90)" font-size="7.95" font-weight="normal" fill="#000" text-anchor="end" stroke="#000" stroke-width="0.3">GSM1498381</text>
<rect x="539.37" y="10.70" width="18.80" height="146.10" fill="#b9b9b9"/>
<rect x="540.07" y="11.30" width="17.40" height="71.24" fill="#B23556" stroke="#6A1F33" stroke-width="0.45"/>
<rect x="540.07" y="82.54" width="17.40" height="1.16" fill="#8A38B5" stroke="#52216C" stroke-width="0.45"/>
<rect x="540.07" y="83.70" width="17.40" height="8.71" fill="#3873B8" stroke="#21456E" stroke-width="0.45"/>
<rect x="540.07" y="92.41" width="17.40" height="28.00" fill="#3790B5" stroke="#21566C" stroke-width="0.45"/>
<rect x="540.07" y="120.42" width="17.40" height="12.48" fill="#35B593" stroke="#1F6C58" stroke-width="0.45"/>
<rect x="540.07" y="132.89" width="17.40" height="1.16" fill="#2E8A35" stroke="#1B521F" stroke-width="0.45"/>
<rect x="540.07" y="134.05" width="17.40" height="2.18" fill="#35B553" stroke="#1F6C31" stroke-width="0.45"/>
<rect x="540.07" y="136.23" width="17.40" height="13.93" fill="#AEB33A" stroke="#686B22" stroke-width="0.45"/>
<rect x="540.07" y="150.16" width="17.40" height="1.89" fill="#B89E38" stroke="#6E5E21" stroke-width="0.45"/>
<rect x="540.07" y="152.05" width="17.40" height="4.35" fill="#B95A38" stroke="#6F3621" stroke-width="0.45"/>
<path d="M548.77 156.90V160.20" stroke="#8a8a8a" stroke-width="0.7"/>
<text transform="translate(552.07,162.20) rotate(-90)" font-size="7.95" font-weight="normal" fill="#000" text-anchor="end" stroke="#000" stroke-width="0.3">GSM1498382</text>
<rect x="564.6" y="15.40" width="2.0" height="2.0" fill="#B4363A"/>
<text transform="translate(570.20,18.70)" font-size="6.9" font-weight="bold" fill="#000" text-anchor="start" >B cells naive</text>
<rect x="564.6" y="23.00" width="2.0" height="2.0" fill="#B95A38"/>
<text transform="translate(570.20,26.30)" font-size="6.9" font-weight="bold" fill="#000" text-anchor="start" >B cells memory</text>
<rect x="564.6" y="29.80" width="2.0" height="2.0" fill="#C47F35"/>
<text transform="translate(570.20,33.10)" font-size="6.9" font-weight="bold" fill="#000" text-anchor="start" >Plasma cells</text>
<rect x="564.6" y="36.80" width="2.0" height="2.0" fill="#B89E38"/>
<text transform="translate(570.20,40.10)" font-size="6.9" font-weight="bold" fill="#000" text-anchor="start" >T cells CD8+</text>
<rect x="564.6" y="43.10" width="2.0" height="2.0" fill="#AEB33A"/>
<text transform="translate(570.20,46.40)" font-size="6.9" font-weight="bold" fill="#000" text-anchor="start" >T cells CD4 naive</text>
<rect x="564.6" y="49.70" width="2.0" height="2.0" fill="#85B53A"/>
<text transform="translate(570.20,53.00)" font-size="6.9" font-weight="bold" fill="#000" text-anchor="start" >T cells CD4 memory resting</text>
<rect x="564.6" y="56.20" width="2.0" height="2.0" fill="#5DB53A"/>
<text transform="translate(570.20,59.50)" font-size="6.9" font-weight="bold" fill="#000" text-anchor="start" >T cells CD4 memory activated</text>
<rect x="564.6" y="62.40" width="2.0" height="2.0" fill="#3CB535"/>
<text transform="translate(570.20,65.70)" font-size="6.9" font-weight="bold" fill="#000" text-anchor="start" >T cells follicular helper</text>
<rect x="564.6" y="69.10" width="2.0" height="2.0" fill="#35B553"/>
<text transform="translate(570.20,72.40)" font-size="6.9" font-weight="bold" fill="#000" text-anchor="start" >T cells regulatory (Tregs)</text>
<rect x="564.6" y="75.70" width="2.0" height="2.0" fill="#35B577"/>
<text transform="translate(570.20,79.00)" font-size="6.9" font-weight="bold" fill="#000" text-anchor="start" >T cells gamma delta</text>
<rect x="564.6" y="81.90" width="2.0" height="2.0" fill="#35B593"/>
<text transform="translate(570.20,85.20)" font-size="6.9" font-weight="bold" fill="#000" text-anchor="start" >NK cells resting</text>
<rect x="564.6" y="89.00" width="2.0" height="2.0" fill="#35ADB5"/>
<text transform="translate(570.20,92.30)" font-size="6.9" font-weight="bold" fill="#000" text-anchor="start" >NK cells activated</text>
<rect x="564.6" y="95.60" width="2.0" height="2.0" fill="#3790B5"/>
<text transform="translate(570.20,98.90)" font-size="6.9" font-weight="bold" fill="#000" text-anchor="start" >Monocytes</text>
<rect x="564.6" y="101.50" width="2.0" height="2.0" fill="#3873B8"/>
<text transform="translate(570.20,104.80)" font-size="6.9" font-weight="bold" fill="#000" text-anchor="start" >Macrophages M0</text>
<rect x="564.6" y="107.90" width="2.0" height="2.0" fill="#3855B5"/>
<text transform="translate(570.20,111.20)" font-size="6.9" font-weight="bold" fill="#000" text-anchor="start" >Macrophages M1</text>
<rect x="564.6" y="114.60" width="2.0" height="2.0" fill="#3B2F9E"/>
<text transform="translate(570.20,117.90)" font-size="6.9" font-weight="bold" fill="#000" text-anchor="start" >Macrophages M2</text>
<rect x="564.6" y="121.20" width="2.0" height="2.0" fill="#6038B5"/>
<text transform="translate(570.20,124.50)" font-size="6.9" font-weight="bold" fill="#000" text-anchor="start" >Dendritic cells resting</text>
<rect x="564.6" y="128.10" width="2.0" height="2.0" fill="#8A38B5"/>
<text transform="translate(570.20,131.40)" font-size="6.9" font-weight="bold" fill="#000" text-anchor="start" >Dendritic cells activated</text>
<rect x="564.6" y="134.50" width="2.0" height="2.0" fill="#B038B5"/>
<text transform="translate(570.20,137.80)" font-size="6.9" font-weight="bold" fill="#000" text-anchor="start" >Mast cells resting</text>
<rect x="564.6" y="141.20" width="2.0" height="2.0" fill="#B5389C"/>
<text transform="translate(570.20,144.50)" font-size="6.9" font-weight="bold" fill="#000" text-anchor="start" >Mast cells activated</text>
<rect x="564.6" y="147.00" width="2.0" height="2.0" fill="#B5387A"/>
<text transform="translate(570.20,150.30)" font-size="6.9" font-weight="bold" fill="#000" text-anchor="start" >Eosinophils</text>
<rect x="564.6" y="153.50" width="2.0" height="2.0" fill="#B23556"/>
<text transform="translate(570.20,156.80)" font-size="6.9" font-weight="bold" fill="#000" text-anchor="start" >Neutrophils</text>
</g>
<g id="panelB">
<text transform="translate(5.50,250.50)" font-size="11.6" font-weight="bold" fill="#000" text-anchor="start" >B</text>
<defs><linearGradient id="gk" x1="0" x2="1" y1="0" y2="0"><stop offset="0" stop-color="#00FF00"/><stop offset="0.5" stop-color="#000"/><stop offset="1" stop-color="#FF0000"/></linearGradient></defs>
<rect x="227.3" y="226.7" width="75.8" height="5.1" fill="url(#gk)"/>
<text transform="translate(229.50,223.90)" font-size="6.3" font-weight="bold" fill="#000" text-anchor="middle" >0</text>
<text transform="translate(243.90,223.90)" font-size="6.3" font-weight="bold" fill="#000" text-anchor="middle" >0.1</text>
<text transform="translate(258.30,223.90)" font-size="6.3" font-weight="bold" fill="#000" text-anchor="middle" >0.2</text>
<text transform="translate(272.70,223.90)" font-size="6.3" font-weight="bold" fill="#000" text-anchor="middle" >0.3</text>
<text transform="translate(287.10,223.90)" font-size="6.3" font-weight="bold" fill="#000" text-anchor="middle" >0.4</text>
<text transform="translate(301.50,223.90)" font-size="6.3" font-weight="bold" fill="#000" text-anchor="middle" >0.5</text>
<text transform="translate(79.90,240.70)" font-size="6.3" font-weight="bold" fill="#000" text-anchor="start" >Control</text>
<text transform="translate(227.30,240.70)" font-size="6.3" font-weight="bold" fill="#000" text-anchor="start" >AMI</text>
<rect x="30.20" y="242.8" width="11.37" height="5.2" fill="#FA8C84" stroke="#777" stroke-opacity="0.45" stroke-width="0.4"/>
<rect x="41.57" y="242.8" width="11.37" height="5.2" fill="#FA8C84" stroke="#777" stroke-opacity="0.45" stroke-width="0.4"/>
<rect x="52.94" y="242.8" width="11.37" height="5.2" fill="#FA8C84" stroke="#777" stroke-opacity="0.45" stroke-width="0.4"/>
<rect x="64.31" y="242.8" width="11.37" height="5.2" fill="#FA8C84" stroke="#777" stroke-opacity="0.45" stroke-width="0.4"/>
<rect x="75.68" y="242.8" width="11.37" height="5.2" fill="#FA8C84" stroke="#777" stroke-opacity="0.45" stroke-width="0.4"/>
<rect x="87.05" y="242.8" width="11.37" height="5.2" fill="#FA8C84" stroke="#777" stroke-opacity="0.45" stroke-width="0.4"/>
<rect x="98.43" y="242.8" width="11.37" height="5.2" fill="#FA8C84" stroke="#777" stroke-opacity="0.45" stroke-width="0.4"/>
<rect x="109.80" y="242.8" width="11.37" height="5.2" fill="#FA8C84" stroke="#777" stroke-opacity="0.45" stroke-width="0.4"/>
<rect x="121.17" y="242.8" width="11.37" height="5.2" fill="#FA8C84" stroke="#777" stroke-opacity="0.45" stroke-width="0.4"/>
<rect x="132.54" y="242.8" width="11.37" height="5.2" fill="#FA8C84" stroke="#777" stroke-opacity="0.45" stroke-width="0.4"/>
<rect x="143.91" y="242.8" width="11.37" height="5.2" fill="#00CED8" stroke="#777" stroke-opacity="0.45" stroke-width="0.4"/>
<rect x="155.28" y="242.8" width="11.37" height="5.2" fill="#00CED8" stroke="#777" stroke-opacity="0.45" stroke-width="0.4"/>
<rect x="166.65" y="242.8" width="11.37" height="5.2" fill="#00CED8" stroke="#777" stroke-opacity="0.45" stroke-width="0.4"/>
<rect x="178.02" y="242.8" width="11.37" height="5.2" fill="#00CED8" stroke="#777" stroke-opacity="0.45" stroke-width="0.4"/>
<rect x="189.39" y="242.8" width="11.37" height="5.2" fill="#00CED8" stroke="#777" stroke-opacity="0.45" stroke-width="0.4"/>
<rect x="200.76" y="242.8" width="11.37" height="5.2" fill="#00CED8" stroke="#777" stroke-opacity="0.45" stroke-width="0.4"/>
<rect x="212.13" y="242.8" width="11.37" height="5.2" fill="#00CED8" stroke="#777" stroke-opacity="0.45" stroke-width="0.4"/>
<rect x="223.50" y="242.8" width="11.37" height="5.2" fill="#00CED8" stroke="#777" stroke-opacity="0.45" stroke-width="0.4"/>
<rect x="234.88" y="242.8" width="11.37" height="5.2" fill="#00CED8" stroke="#777" stroke-opacity="0.45" stroke-width="0.4"/>
<rect x="246.25" y="242.8" width="11.37" height="5.2" fill="#00CED8" stroke="#777" stroke-opacity="0.45" stroke-width="0.4"/>
<rect x="257.62" y="242.8" width="11.37" height="5.2" fill="#00CED8" stroke="#777" stroke-opacity="0.45" stroke-width="0.4"/>
<rect x="268.99" y="242.8" width="11.37" height="5.2" fill="#00CED8" stroke="#777" stroke-opacity="0.45" stroke-width="0.4"/>
<rect x="280.36" y="242.8" width="11.37" height="5.2" fill="#00CED8" stroke="#777" stroke-opacity="0.45" stroke-width="0.4"/>
<rect x="291.73" y="242.8" width="11.37" height="5.2" fill="#00CED8" stroke="#777" stroke-opacity="0.45" stroke-width="0.4"/>
<text transform="translate(307.30,247.70) scale(0.885,1.000)" font-size="6.55" font-weight="bold" fill="#000" text-anchor="start" >Type</text>
<rect x="30.20" y="250.10" width="11.37" height="8.69" fill="#005000" stroke="#8c988c" stroke-width="0.42"/>
<rect x="41.57" y="250.10" width="11.37" height="8.69" fill="#008800" stroke="#8c988c" stroke-width="0.42"/>
<rect x="52.94" y="250.10" width="11.37" height="8.69" fill="#006800" stroke="#8c988c" stroke-width="0.42"/>
<rect x="64.31" y="250.10" width="11.37" height="8.69" fill="#000800" stroke="#8c988c" stroke-width="0.42"/>
<rect x="75.68" y="250.10" width="11.37" height="8.69" fill="#500000" stroke="#8c988c" stroke-width="0.42"/>
<rect x="87.05" y="250.10" width="11.37" height="8.69" fill="#003800" stroke="#8c988c" stroke-width="0.42"/>
<rect x="98.43" y="250.10" width="11.37" height="8.69" fill="#004800" stroke="#8c988c" stroke-width="0.42"/>
<rect x="109.80" y="250.10" width="11.37" height="8.69" fill="#008800" stroke="#8c988c" stroke-width="0.42"/>
<rect x="121.17" y="250.10" width="11.37" height="8.69" fill="#580000" stroke="#8c988c" stroke-width="0.42"/>
<rect x="132.54" y="250.10" width="11.37" height="8.69" fill="#580000" stroke="#8c988c" stroke-width="0.42"/>
<rect x="143.91" y="250.10" width="11.37" height="8.69" fill="#600000" stroke="#8c988c" stroke-width="0.42"/>
<rect x="155.28" y="250.10" width="11.37" height="8.69" fill="#200000" stroke="#8c988c" stroke-width="0.42"/>
<rect x="166.65" y="250.10" width="11.37" height="8.69" fill="#002000" stroke="#8c988c" stroke-width="0.42"/>
<rect x="178.02" y="250.10" width="11.37" height="8.69" fill="#300000" stroke="#8c988c" stroke-width="0.42"/>
<rect x="189.39" y="250.10" width="11.37" height="8.69" fill="#002800" stroke="#8c988c" stroke-width="0.42"/>
<rect x="200.76" y="250.10" width="11.37" height="8.69" fill="#A80000" stroke="#8c988c" stroke-width="0.42"/>
<rect x="212.13" y="250.10" width="11.37" height="8.69" fill="#300000" stroke="#8c988c" stroke-width="0.42"/>
<rect x="223.50" y="250.10" width="11.37" height="8.69" fill="#800000" stroke="#8c988c" stroke-width="0.42"/>
<rect x="234.88" y="250.10" width="11.37" height="8.69" fill="#FF0000" stroke="#8c988c" stroke-width="0.42"/>
<rect x="246.25" y="250.10" width="11.37" height="8.69" fill="#A80000" stroke="#8c988c" stroke-width="0.42"/>
<rect x="257.62" y="250.10" width="11.37" height="8.69" fill="#F00000" stroke="#8c988c" stroke-width="0.42"/>
<rect x="268.99" y="250.10" width="11.37" height="8.69" fill="#A80000" stroke="#8c988c" stroke-width="0.42"/>
<rect x="280.36" y="250.10" width="11.37" height="8.69" fill="#A00000" stroke="#8c988c" stroke-width="0.42"/>
<rect x="291.73" y="250.10" width="11.37" height="8.69" fill="#F00000" stroke="#8c988c" stroke-width="0.42"/>
<rect x="30.20" y="258.79" width="11.37" height="8.69" fill="#00B800" stroke="#8c988c" stroke-width="0.42"/>
<rect x="41.57" y="258.79" width="11.37" height="8.69" fill="#00E800" stroke="#8c988c" stroke-width="0.42"/>
<rect x="52.94" y="258.79" width="11.37" height="8.69" fill="#00F000" stroke="#8c988c" stroke-width="0.42"/>
<rect x="64.31" y="258.79" width="11.37" height="8.69" fill="#00B800" stroke="#8c988c" stroke-width="0.42"/>
<rect x="75.68" y="258.79" width="11.37" height="8.69" fill="#00FF00" stroke="#8c988c" stroke-width="0.42"/>
<rect x="87.05" y="258.79" width="11.37" height="8.69" fill="#00D800" stroke="#8c988c" stroke-width="0.42"/>
<rect x="98.43" y="258.79" width="11.37" height="8.69" fill="#00D000" stroke="#8c988c" stroke-width="0.42"/>
<rect x="109.80" y="258.79" width="11.37" height="8.69" fill="#00A000" stroke="#8c988c" stroke-width="0.42"/>
<rect x="121.17" y="258.79" width="11.37" height="8.69" fill="#00C000" stroke="#8c988c" stroke-width="0.42"/>
<rect x="132.54" y="258.79" width="11.37" height="8.69" fill="#00B000" stroke="#8c988c" stroke-width="0.42"/>
<rect x="143.91" y="258.79" width="11.37" height="8.69" fill="#00D000" stroke="#8c988c" stroke-width="0.42"/>
<rect x="155.28" y="258.79" width="11.37" height="8.69" fill="#00F000" stroke="#8c988c" stroke-width="0.42"/>
<rect x="166.65" y="258.79" width="11.37" height="8.69" fill="#00B800" stroke="#8c988c" stroke-width="0.42"/>
<rect x="178.02" y="258.79" width="11.37" height="8.69" fill="#00D000" stroke="#8c988c" stroke-width="0.42"/>
<rect x="189.39" y="258.79" width="11.37" height="8.69" fill="#00FF00" stroke="#8c988c" stroke-width="0.42"/>
<rect x="200.76" y="258.79" width="11.37" height="8.69" fill="#00C000" stroke="#8c988c" stroke-width="0.42"/>
<rect x="212.13" y="258.79" width="11.37" height="8.69" fill="#00E800" stroke="#8c988c" stroke-width="0.42"/>
<rect x="223.50" y="258.79" width="11.37" height="8.69" fill="#00E000" stroke="#8c988c" stroke-width="0.42"/>
<rect x="234.88" y="258.79" width="11.37" height="8.69" fill="#00E000" stroke="#8c988c" stroke-width="0.42"/>
<rect x="246.25" y="258.79" width="11.37" height="8.69" fill="#00FF00" stroke="#8c988c" stroke-width="0.42"/>
<rect x="257.62" y="258.79" width="11.37" height="8.69" fill="#00E000" stroke="#8c988c" stroke-width="0.42"/>
<rect x="268.99" y="258.79" width="11.37" height="8.69" fill="#00E000" stroke="#8c988c" stroke-width="0.42"/>
<rect x="280.36" y="258.79" width="11.37" height="8.69" fill="#00D800" stroke="#8c988c" stroke-width="0.42"/>
<rect x="291.73" y="258.79" width="11.37" height="8.69" fill="#00E800" stroke="#8c988c" stroke-width="0.42"/>
<rect x="30.20" y="267.48" width="11.37" height="8.69" fill="#00B800" stroke="#8c988c" stroke-width="0.42"/>
<rect x="41.57" y="267.48" width="11.37" height="8.69" fill="#00C000" stroke="#8c988c" stroke-width="0.42"/>
<rect x="52.94" y="267.48" width="11.37" height="8.69" fill="#008800" stroke="#8c988c" stroke-width="0.42"/>
<rect x="64.31" y="267.48" width="11.37" height="8.69" fill="#00C000" stroke="#8c988c" stroke-width="0.42"/>
<rect x="75.68" y="267.48" width="11.37" height="8.69" fill="#00D000" stroke="#8c988c" stroke-width="0.42"/>
<rect x="87.05" y="267.48" width="11.37" height="8.69" fill="#00C000" stroke="#8c988c" stroke-width="0.42"/>
<rect x="98.43" y="267.48" width="11.37" height="8.69" fill="#00C000" stroke="#8c988c" stroke-width="0.42"/>
<rect x="109.80" y="267.48" width="11.37" height="8.69" fill="#00A000" stroke="#8c988c" stroke-width="0.42"/>
<rect x="121.17" y="267.48" width="11.37" height="8.69" fill="#00FF00" stroke="#8c988c" stroke-width="0.42"/>
<rect x="132.54" y="267.48" width="11.37" height="8.69" fill="#00D800" stroke="#8c988c" stroke-width="0.42"/>
<rect x="143.91" y="267.48" width="11.37" height="8.69" fill="#00C800" stroke="#8c988c" stroke-width="0.42"/>
<rect x="155.28" y="267.48" width="11.37" height="8.69" fill="#00C800" stroke="#8c988c" stroke-width="0.42"/>
<rect x="166.65" y="267.48" width="11.37" height="8.69" fill="#00B800" stroke="#8c988c" stroke-width="0.42"/>
<rect x="178.02" y="267.48" width="11.37" height="8.69" fill="#00E000" stroke="#8c988c" stroke-width="0.42"/>
<rect x="189.39" y="267.48" width="11.37" height="8.69" fill="#00B000" stroke="#8c988c" stroke-width="0.42"/>
<rect x="200.76" y="267.48" width="11.37" height="8.69" fill="#00D800" stroke="#8c988c" stroke-width="0.42"/>
<rect x="212.13" y="267.48" width="11.37" height="8.69" fill="#00A000" stroke="#8c988c" stroke-width="0.42"/>
<rect x="223.50" y="267.48" width="11.37" height="8.69" fill="#00E800" stroke="#8c988c" stroke-width="0.42"/>
<rect x="234.88" y="267.48" width="11.37" height="8.69" fill="#00FF00" stroke="#8c988c" stroke-width="0.42"/>
<rect x="246.25" y="267.48" width="11.37" height="8.69" fill="#00E000" stroke="#8c988c" stroke-width="0.42"/>
<rect x="257.62" y="267.48" width="11.37" height="8.69" fill="#00F800" stroke="#8c988c" stroke-width="0.42"/>
<rect x="268.99" y="267.48" width="11.37" height="8.69" fill="#00FF00" stroke="#8c988c" stroke-width="0.42"/>
<rect x="280.36" y="267.48" width="11.37" height="8.69" fill="#00FF00" stroke="#8c988c" stroke-width="0.42"/>
<rect x="291.73" y="267.48" width="11.37" height="8.69" fill="#00FF00" stroke="#8c988c" stroke-width="0.42"/>
<rect x="30.20" y="276.17" width="11.37" height="8.69" fill="#00E800" stroke="#8c988c" stroke-width="0.42"/>
<rect x="41.57" y="276.17" width="11.37" height="8.69" fill="#00FF00" stroke="#8c988c" stroke-width="0.42"/>
<rect x="52.94" y="276.17" width="11.37" height="8.69" fill="#00FF00" stroke="#8c988c" stroke-width="0.42"/>
<rect x="64.31" y="276.17" width="11.37" height="8.69" fill="#00D800" stroke="#8c988c" stroke-width="0.42"/>
<rect x="75.68" y="276.17" width="11.37" height="8.69" fill="#00F000" stroke="#8c988c" stroke-width="0.42"/>
<rect x="87.05" y="276.17" width="11.37" height="8.69" fill="#00FF00" stroke="#8c988c" stroke-width="0.42"/>
<rect x="98.43" y="276.17" width="11.37" height="8.69" fill="#00FF00" stroke="#8c988c" stroke-width="0.42"/>
<rect x="109.80" y="276.17" width="11.37" height="8.69" fill="#00FF00" stroke="#8c988c" stroke-width="0.42"/>
<rect x="121.17" y="276.17" width="11.37" height="8.69" fill="#00FF00" stroke="#8c988c" stroke-width="0.42"/>
<rect x="132.54" y="276.17" width="11.37" height="8.69" fill="#00FF00" stroke="#8c988c" stroke-width="0.42"/>
<rect x="143.91" y="276.17" width="11.37" height="8.69" fill="#00D800" stroke="#8c988c" stroke-width="0.42"/>
<rect x="155.28" y="276.17" width="11.37" height="8.69" fill="#009800" stroke="#8c988c" stroke-width="0.42"/>
<rect x="166.65" y="276.17" width="11.37" height="8.69" fill="#00FF00" stroke="#8c988c" stroke-width="0.42"/>
<rect x="178.02" y="276.17" width="11.37" height="8.69" fill="#00F000" stroke="#8c988c" stroke-width="0.42"/>
<rect x="189.39" y="276.17" width="11.37" height="8.69" fill="#00F000" stroke="#8c988c" stroke-width="0.42"/>
<rect x="200.76" y="276.17" width="11.37" height="8.69" fill="#00E000" stroke="#8c988c" stroke-width="0.42"/>
<rect x="212.13" y="276.17" width="11.37" height="8.69" fill="#00FF00" stroke="#8c988c" stroke-width="0.42"/>
<rect x="223.50" y="276.17" width="11.37" height="8.69" fill="#00D000" stroke="#8c988c" stroke-width="0.42"/>
<rect x="234.88" y="276.17" width="11.37" height="8.69" fill="#00D800" stroke="#8c988c" stroke-width="0.42"/>
<rect x="246.25" y="276.17" width="11.37" height="8.69" fill="#00A800" stroke="#8c988c" stroke-width="0.42"/>
<rect x="257.62" y="276.17" width="11.37" height="8.69" fill="#00B800" stroke="#8c988c" stroke-width="0.42"/>
<rect x="268.99" y="276.17" width="11.37" height="8.69" fill="#00E000" stroke="#8c988c" stroke-width="0.42"/>
<rect x="280.36" y="276.17" width="11.37" height="8.69" fill="#00E800" stroke="#8c988c" stroke-width="0.42"/>
<rect x="291.73" y="276.17" width="11.37" height="8.69" fill="#00C000" stroke="#8c988c" stroke-width="0.42"/>
<rect x="30.20" y="284.86" width="11.37" height="8.69" fill="#00D800" stroke="#8c988c" stroke-width="0.42"/>
<rect x="41.57" y="284.86" width="11.37" height="8.69" fill="#00D000" stroke="#8c988c" stroke-width="0.42"/>
<rect x="52.94" y="284.86" width="11.37" height="8.69" fill="#00D800" stroke="#8c988c" stroke-width="0.42"/>
<rect x="64.31" y="284.86" width="11.37" height="8.69" fill="#00F000" stroke="#8c988c" stroke-width="0.42"/>
<rect x="75.68" y="284.86" width="11.37" height="8.69" fill="#00C800" stroke="#8c988c" stroke-width="0.42"/>
<rect x="87.05" y="284.86" width="11.37" height="8.69" fill="#00D800" stroke="#8c988c" stroke-width="0.42"/>
<rect x="98.43" y="284.86" width="11.37" height="8.69" fill="#00D800" stroke="#8c988c" stroke-width="0.42"/>
<rect x="109.80" y="284.86" width="11.37" height="8.69" fill="#00E000" stroke="#8c988c" stroke-width="0.42"/>
<rect x="121.17" y="284.86" width="11.37" height="8.69" fill="#00E000" stroke="#8c988c" stroke-width="0.42"/>
<rect x="132.54" y="284.86" width="11.37" height="8.69" fill="#00E000" stroke="#8c988c" stroke-width="0.42"/>
<rect x="143.91" y="284.86" width="11.37" height="8.69" fill="#00F000" stroke="#8c988c" stroke-width="0.42"/>
<rect x="155.28" y="284.86" width="11.37" height="8.69" fill="#00F800" stroke="#8c988c" stroke-width="0.42"/>
<rect x="166.65" y="284.86" width="11.37" height="8.69" fill="#00F000" stroke="#8c988c" stroke-width="0.42"/>
<rect x="178.02" y="284.86" width="11.37" height="8.69" fill="#00FF00" stroke="#8c988c" stroke-width="0.42"/>
<rect x="189.39" y="284.86" width="11.37" height="8.69" fill="#00D800" stroke="#8c988c" stroke-width="0.42"/>
<rect x="200.76" y="284.86" width="11.37" height="8.69" fill="#00FF00" stroke="#8c988c" stroke-width="0.42"/>
<rect x="212.13" y="284.86" width="11.37" height="8.69" fill="#00FF00" stroke="#8c988c" stroke-width="0.42"/>
<rect x="223.50" y="284.86" width="11.37" height="8.69" fill="#00FF00" stroke="#8c988c" stroke-width="0.42"/>
<rect x="234.88" y="284.86" width="11.37" height="8.69" fill="#00FF00" stroke="#8c988c" stroke-width="0.42"/>
<rect x="246.25" y="284.86" width="11.37" height="8.69" fill="#00FF00" stroke="#8c988c" stroke-width="0.42"/>
<rect x="257.62" y="284.86" width="11.37" height="8.69" fill="#00FF00" stroke="#8c988c" stroke-width="0.42"/>
<rect x="268.99" y="284.86" width="11.37" height="8.69" fill="#00F000" stroke="#8c988c" stroke-width="0.42"/>
<rect x="280.36" y="284.86" width="11.37" height="8.69" fill="#00FF00" stroke="#8c988c" stroke-width="0.42"/>
<rect x="291.73" y="284.86" width="11.37" height="8.69" fill="#00FF00" stroke="#8c988c" stroke-width="0.42"/>
<rect x="30.20" y="293.55" width="11.37" height="8.69" fill="#00FF00" stroke="#8c988c" stroke-width="0.42"/>
<rect x="41.57" y="293.55" width="11.37" height="8.69" fill="#00FF00" stroke="#8c988c" stroke-width="0.42"/>
<rect x="52.94" y="293.55" width="11.37" height="8.69" fill="#00FF00" stroke="#8c988c" stroke-width="0.42"/>
<rect x="64.31" y="293.55" width="11.37" height="8.69" fill="#00FF00" stroke="#8c988c" stroke-width="0.42"/>
<rect x="75.68" y="293.55" width="11.37" height="8.69" fill="#00D000" stroke="#8c988c" stroke-width="0.42"/>
<rect x="87.05" y="293.55" width="11.37" height="8.69" fill="#00C800" stroke="#8c988c" stroke-width="0.42"/>
<rect x="98.43" y="293.55" width="11.37" height="8.69" fill="#00FF00" stroke="#8c988c" stroke-width="0.42"/>
<rect x="109.80" y="293.55" width="11.37" height="8.69" fill="#00FF00" stroke="#8c988c" stroke-width="0.42"/>
<rect x="121.17" y="293.55" width="11.37" height="8.69" fill="#00FF00" stroke="#8c988c" stroke-width="0.42"/>
<rect x="132.54" y="293.55" width="11.37" height="8.69" fill="#00FF00" stroke="#8c988c" stroke-width="0.42"/>
<rect x="143.91" y="293.55" width="11.37" height="8.69" fill="#00FF00" stroke="#8c988c" stroke-width="0.42"/>
<rect x="155.28" y="293.55" width="11.37" height="8.69" fill="#00FF00" stroke="#8c988c" stroke-width="0.42"/>
<rect x="166.65" y="293.55" width="11.37" height="8.69" fill="#00FF00" stroke="#8c988c" stroke-width="0.42"/>
<rect x="178.02" y="293.55" width="11.37" height="8.69" fill="#00D000" stroke="#8c988c" stroke-width="0.42"/>
<rect x="189.39" y="293.55" width="11.37" height="8.69" fill="#00FF00" stroke="#8c988c" stroke-width="0.42"/>
<rect x="200.76" y="293.55" width="11.37" height="8.69" fill="#00FF00" stroke="#8c988c" stroke-width="0.42"/>
<rect x="212.13" y="293.55" width="11.37" height="8.69" fill="#00FF00" stroke="#8c988c" stroke-width="0.42"/>
<rect x="223.50" y="293.55" width="11.37" height="8.69" fill="#00FF00" stroke="#8c988c" stroke-width="0.42"/>
<rect x="234.88" y="293.55" width="11.37" height="8.69" fill="#00FF00" stroke="#8c988c" stroke-width="0.42"/>
<rect x="246.25" y="293.55" width="11.37" height="8.69" fill="#00D000" stroke="#8c988c" stroke-width="0.42"/>
<rect x="257.62" y="293.55" width="11.37" height="8.69" fill="#00FF00" stroke="#8c988c" stroke-width="0.42"/>
<rect x="268.99" y="293.55" width="11.37" height="8.69" fill="#00FF00" stroke="#8c988c" stroke-width="0.42"/>
<rect x="280.36" y="293.55" width="11.37" height="8.69" fill="#00FF00" stroke="#8c988c" stroke-width="0.42"/>
<rect x="291.73" y="293.55" width="11.37" height="8.69" fill="#00FF00" stroke="#8c988c" stroke-width="0.42"/>
<rect x="30.20" y="302.24" width="11.37" height="8.69" fill="#00FF00" stroke="#8c988c" stroke-width="0.42"/>
<rect x="41.57" y="302.24" width="11.37" height="8.69" fill="#00FF00" stroke="#8c988c" stroke-width="0.42"/>
<rect x="52.94" y="302.24" width="11.37" height="8.69" fill="#00FF00" stroke="#8c988c" stroke-width="0.42"/>
<rect x="64.31" y="302.24" width="11.37" height="8.69" fill="#00FF00" stroke="#8c988c" stroke-width="0.42"/>
<rect x="75.68" y="302.24" width="11.37" height="8.69" fill="#00FF00" stroke="#8c988c" stroke-width="0.42"/>
<rect x="87.05" y="302.24" width="11.37" height="8.69" fill="#00FF00" stroke="#8c988c" stroke-width="0.42"/>
<rect x="98.43" y="302.24" width="11.37" height="8.69" fill="#00FF00" stroke="#8c988c" stroke-width="0.42"/>
<rect x="109.80" y="302.24" width="11.37" height="8.69" fill="#00FF00" stroke="#8c988c" stroke-width="0.42"/>
<rect x="121.17" y="302.24" width="11.37" height="8.69" fill="#00F000" stroke="#8c988c" stroke-width="0.42"/>
<rect x="132.54" y="302.24" width="11.37" height="8.69" fill="#00FF00" stroke="#8c988c" stroke-width="0.42"/>
<rect x="143.91" y="302.24" width="11.37" height="8.69" fill="#00FF00" stroke="#8c988c" stroke-width="0.42"/>
<rect x="155.28" y="302.24" width="11.37" height="8.69" fill="#00FF00" stroke="#8c988c" stroke-width="0.42"/>
<rect x="166.65" y="302.24" width="11.37" height="8.69" fill="#00FF00" stroke="#8c988c" stroke-width="0.42"/>
<rect x="178.02" y="302.24" width="11.37" height="8.69" fill="#00FF00" stroke="#8c988c" stroke-width="0.42"/>
<rect x="189.39" y="302.24" width="11.37" height="8.69" fill="#00FF00" stroke="#8c988c" stroke-width="0.42"/>
<rect x="200.76" y="302.24" width="11.37" height="8.69" fill="#00FF00" stroke="#8c988c" stroke-width="0.42"/>
<rect x="212.13" y="302.24" width="11.37" height="8.69" fill="#00FF00" stroke="#8c988c" stroke-width="0.42"/>
<rect x="223.50" y="302.24" width="11.37" height="8.69" fill="#00FF00" stroke="#8c988c" stroke-width="0.42"/>
<rect x="234.88" y="302.24" width="11.37" height="8.69" fill="#00FF00" stroke="#8c988c" stroke-width="0.42"/>
<rect x="246.25" y="302.24" width="11.37" height="8.69" fill="#00FF00" stroke="#8c988c" stroke-width="0.42"/>
<rect x="257.62" y="302.24" width="11.37" height="8.69" fill="#00FF00" stroke="#8c988c" stroke-width="0.42"/>
<rect x="268.99" y="302.24" width="11.37" height="8.69" fill="#00FF00" stroke="#8c988c" stroke-width="0.42"/>
<rect x="280.36" y="302.24" width="11.37" height="8.69" fill="#00FF00" stroke="#8c988c" stroke-width="0.42"/>
<rect x="291.73" y="302.24" width="11.37" height="8.69" fill="#00FF00" stroke="#8c988c" stroke-width="0.42"/>
<rect x="30.20" y="310.93" width="11.37" height="8.69" fill="#00FF00" stroke="#8c988c" stroke-width="0.42"/>
<rect x="41.57" y="310.93" width="11.37" height="8.69" fill="#00FF00" stroke="#8c988c" stroke-width="0.42"/>
<rect x="52.94" y="310.93" width="11.37" height="8.69" fill="#00FF00" stroke="#8c988c" stroke-width="0.42"/>
<rect x="64.31" y="310.93" width="11.37" height="8.69" fill="#00FF00" stroke="#8c988c" stroke-width="0.42"/>
<rect x="75.68" y="310.93" width="11.37" height="8.69" fill="#00FF00" stroke="#8c988c" stroke-width="0.42"/>
<rect x="87.05" y="310.93" width="11.37" height="8.69" fill="#00FF00" stroke="#8c988c" stroke-width="0.42"/>
<rect x="98.43" y="310.93" width="11.37" height="8.69" fill="#00FF00" stroke="#8c988c" stroke-width="0.42"/>
<rect x="109.80" y="310.93" width="11.37" height="8.69" fill="#00FF00" stroke="#8c988c" stroke-width="0.42"/>
<rect x="121.17" y="310.93" width="11.37" height="8.69" fill="#00FF00" stroke="#8c988c" stroke-width="0.42"/>
<rect x="132.54" y="310.93" width="11.37" height="8.69" fill="#00FF00" stroke="#8c988c" stroke-width="0.42"/>
<rect x="143.91" y="310.93" width="11.37" height="8.69" fill="#00FF00" stroke="#8c988c" stroke-width="0.42"/>
<rect x="155.28" y="310.93" width="11.37" height="8.69" fill="#00F000" stroke="#8c988c" stroke-width="0.42"/>
<rect x="166.65" y="310.93" width="11.37" height="8.69" fill="#00FF00" stroke="#8c988c" stroke-width="0.42"/>
<rect x="178.02" y="310.93" width="11.37" height="8.69" fill="#00FF00" stroke="#8c988c" stroke-width="0.42"/>
<rect x="189.39" y="310.93" width="11.37" height="8.69" fill="#00F000" stroke="#8c988c" stroke-width="0.42"/>
<rect x="200.76" y="310.93" width="11.37" height="8.69" fill="#00FF00" stroke="#8c988c" stroke-width="0.42"/>
<rect x="212.13" y="310.93" width="11.37" height="8.69" fill="#00FF00" stroke="#8c988c" stroke-width="0.42"/>
<rect x="223.50" y="310.93" width="11.37" height="8.69" fill="#00FF00" stroke="#8c988c" stroke-width="0.42"/>
<rect x="234.88" y="310.93" width="11.37" height="8.69" fill="#00FF00" stroke="#8c988c" stroke-width="0.42"/>
<rect x="246.25" y="310.93" width="11.37" height="8.69" fill="#00FF00" stroke="#8c988c" stroke-width="0.42"/>
<rect x="257.62" y="310.93" width="11.37" height="8.69" fill="#00FF00" stroke="#8c988c" stroke-width="0.42"/>
<rect x="268.99" y="310.93" width="11.37" height="8.69" fill="#00FF00" stroke="#8c988c" stroke-width="0.42"/>
<rect x="280.36" y="310.93" width="11.37" height="8.69" fill="#00FF00" stroke="#8c988c" stroke-width="0.42"/>
<rect x="291.73" y="310.93" width="11.37" height="8.69" fill="#00FF00" stroke="#8c988c" stroke-width="0.42"/>
<rect x="30.20" y="319.62" width="11.37" height="8.69" fill="#00FF00" stroke="#8c988c" stroke-width="0.42"/>
<rect x="41.57" y="319.62" width="11.37" height="8.69" fill="#00FF00" stroke="#8c988c" stroke-width="0.42"/>
<rect x="52.94" y="319.62" width="11.37" height="8.69" fill="#00FF00" stroke="#8c988c" stroke-width="0.42"/>
<rect x="64.31" y="319.62" width="11.37" height="8.69" fill="#00FF00" stroke="#8c988c" stroke-width="0.42"/>
<rect x="75.68" y="319.62" width="11.37" height="8.69" fill="#00FF00" stroke="#8c988c" stroke-width="0.42"/>
<rect x="87.05" y="319.62" width="11.37" height="8.69" fill="#00FF00" stroke="#8c988c" stroke-width="0.42"/>
<rect x="98.43" y="319.62" width="11.37" height="8.69" fill="#00FF00" stroke="#8c988c" stroke-width="0.42"/>
<rect x="109.80" y="319.62" width="11.37" height="8.69" fill="#00FF00" stroke="#8c988c" stroke-width="0.42"/>
<rect x="121.17" y="319.62" width="11.37" height="8.69" fill="#00FF00" stroke="#8c988c" stroke-width="0.42"/>
<rect x="132.54" y="319.62" width="11.37" height="8.69" fill="#00FF00" stroke="#8c988c" stroke-width="0.42"/>
<rect x="143.91" y="319.62" width="11.37" height="8.69" fill="#00FF00" stroke="#8c988c" stroke-width="0.42"/>
<rect x="155.28" y="319.62" width="11.37" height="8.69" fill="#00FF00" stroke="#8c988c" stroke-width="0.42"/>
<rect x="166.65" y="319.62" width="11.37" height="8.69" fill="#00FF00" stroke="#8c988c" stroke-width="0.42"/>
<rect x="178.02" y="319.62" width="11.37" height="8.69" fill="#00FF00" stroke="#8c988c" stroke-width="0.42"/>
<rect x="189.39" y="319.62" width="11.37" height="8.69" fill="#00FF00" stroke="#8c988c" stroke-width="0.42"/>
<rect x="200.76" y="319.62" width="11.37" height="8.69" fill="#00FF00" stroke="#8c988c" stroke-width="0.42"/>
<rect x="212.13" y="319.62" width="11.37" height="8.69" fill="#00FF00" stroke="#8c988c" stroke-width="0.42"/>
<rect x="223.50" y="319.62" width="11.37" height="8.69" fill="#00FF00" stroke="#8c988c" stroke-width="0.42"/>
<rect x="234.88" y="319.62" width="11.37" height="8.69" fill="#00FF00" stroke="#8c988c" stroke-width="0.42"/>
<rect x="246.25" y="319.62" width="11.37" height="8.69" fill="#00F000" stroke="#8c988c" stroke-width="0.42"/>
<rect x="257.62" y="319.62" width="11.37" height="8.69" fill="#00FF00" stroke="#8c988c" stroke-width="0.42"/>
<rect x="268.99" y="319.62" width="11.37" height="8.69" fill="#00FF00" stroke="#8c988c" stroke-width="0.42"/>
<rect x="280.36" y="319.62" width="11.37" height="8.69" fill="#00FF00" stroke="#8c988c" stroke-width="0.42"/>
<rect x="291.73" y="319.62" width="11.37" height="8.69" fill="#00FF00" stroke="#8c988c" stroke-width="0.42"/>
<rect x="30.20" y="328.31" width="11.37" height="8.69" fill="#00FF00" stroke="#8c988c" stroke-width="0.42"/>
<rect x="41.57" y="328.31" width="11.37" height="8.69" fill="#00FF00" stroke="#8c988c" stroke-width="0.42"/>
<rect x="52.94" y="328.31" width="11.37" height="8.69" fill="#00FF00" stroke="#8c988c" stroke-width="0.42"/>
<rect x="64.31" y="328.31" width="11.37" height="8.69" fill="#00FF00" stroke="#8c988c" stroke-width="0.42"/>
<rect x="75.68" y="328.31" width="11.37" height="8.69" fill="#00FF00" stroke="#8c988c" stroke-width="0.42"/>
<rect x="87.05" y="328.31" width="11.37" height="8.69" fill="#00FF00" stroke="#8c988c" stroke-width="0.42"/>
<rect x="98.43" y="328.31" width="11.37" height="8.69" fill="#00FF00" stroke="#8c988c" stroke-width="0.42"/>
<rect x="109.80" y="328.31" width="11.37" height="8.69" fill="#00FF00" stroke="#8c988c" stroke-width="0.42"/>
<rect x="121.17" y="328.31" width="11.37" height="8.69" fill="#00FF00" stroke="#8c988c" stroke-width="0.42"/>
<rect x="132.54" y="328.31" width="11.37" height="8.69" fill="#00FF00" stroke="#8c988c" stroke-width="0.42"/>
<rect x="143.91" y="328.31" width="11.37" height="8.69" fill="#00FF00" stroke="#8c988c" stroke-width="0.42"/>
<rect x="155.28" y="328.31" width="11.37" height="8.69" fill="#00FF00" stroke="#8c988c" stroke-width="0.42"/>
<rect x="166.65" y="328.31" width="11.37" height="8.69" fill="#00FF00" stroke="#8c988c" stroke-width="0.42"/>
<rect x="178.02" y="328.31" width="11.37" height="8.69" fill="#00FF00" stroke="#8c988c" stroke-width="0.42"/>
<rect x="189.39" y="328.31" width="11.37" height="8.69" fill="#00FF00" stroke="#8c988c" stroke-width="0.42"/>
<rect x="200.76" y="328.31" width="11.37" height="8.69" fill="#00FF00" stroke="#8c988c" stroke-width="0.42"/>
<rect x="212.13" y="328.31" width="11.37" height="8.69" fill="#00FF00" stroke="#8c988c" stroke-width="0.42"/>
<rect x="223.50" y="328.31" width="11.37" height="8.69" fill="#00FF00" stroke="#8c988c" stroke-width="0.42"/>
<rect x="234.88" y="328.31" width="11.37" height="8.69" fill="#00FF00" stroke="#8c988c" stroke-width="0.42"/>
<rect x="246.25" y="328.31" width="11.37" height="8.69" fill="#00FF00" stroke="#8c988c" stroke-width="0.42"/>
<rect x="257.62" y="328.31" width="11.37" height="8.69" fill="#00FF00" stroke="#8c988c" stroke-width="0.42"/>
<rect x="268.99" y="328.31" width="11.37" height="8.69" fill="#00FF00" stroke="#8c988c" stroke-width="0.42"/>
<rect x="280.36" y="328.31" width="11.37" height="8.69" fill="#00FF00" stroke="#8c988c" stroke-width="0.42"/>
<rect x="291.73" y="328.31" width="11.37" height="8.69" fill="#00FF00" stroke="#8c988c" stroke-width="0.42"/>
<rect x="30.20" y="337.00" width="11.37" height="8.69" fill="#00FF00" stroke="#8c988c" stroke-width="0.42"/>
<rect x="41.57" y="337.00" width="11.37" height="8.69" fill="#00FF00" stroke="#8c988c" stroke-width="0.42"/>
<rect x="52.94" y="337.00" width="11.37" height="8.69" fill="#00FF00" stroke="#8c988c" stroke-width="0.42"/>
<rect x="64.31" y="337.00" width="11.37" height="8.69" fill="#00FF00" stroke="#8c988c" stroke-width="0.42"/>
<rect x="75.68" y="337.00" width="11.37" height="8.69" fill="#00FF00" stroke="#8c988c" stroke-width="0.42"/>
<rect x="87.05" y="337.00" width="11.37" height="8.69" fill="#00FF00" stroke="#8c988c" stroke-width="0.42"/>
<rect x="98.43" y="337.00" width="11.37" height="8.69" fill="#00FF00" stroke="#8c988c" stroke-width="0.42"/>
<rect x="109.80" y="337.00" width="11.37" height="8.69" fill="#00FF00" stroke="#8c988c" stroke-width="0.42"/>
<rect x="121.17" y="337.00" width="11.37" height="8.69" fill="#00FF00" stroke="#8c988c" stroke-width="0.42"/>
<rect x="132.54" y="337.00" width="11.37" height="8.69" fill="#00FF00" stroke="#8c988c" stroke-width="0.42"/>
<rect x="143.91" y="337.00" width="11.37" height="8.69" fill="#00FF00" stroke="#8c988c" stroke-width="0.42"/>
<rect x="155.28" y="337.00" width="11.37" height="8.69" fill="#00FF00" stroke="#8c988c" stroke-width="0.42"/>
<rect x="166.65" y="337.00" width="11.37" height="8.69" fill="#00FF00" stroke="#8c988c" stroke-width="0.42"/>
<rect x="178.02" y="337.00" width="11.37" height="8.69" fill="#00FF00" stroke="#8c988c" stroke-width="0.42"/>
<rect x="189.39" y="337.00" width="11.37" height="8.69" fill="#00FF00" stroke="#8c988c" stroke-width="0.42"/>
<rect x="200.76" y="337.00" width="11.37" height="8.69" fill="#00FF00" stroke="#8c988c" stroke-width="0.42"/>
<rect x="212.13" y="337.00" width="11.37" height="8.69" fill="#00FF00" stroke="#8c988c" stroke-width="0.42"/>
<rect x="223.50" y="337.00" width="11.37" height="8.69" fill="#00FF00" stroke="#8c988c" stroke-width="0.42"/>
<rect x="234.88" y="337.00" width="11.37" height="8.69" fill="#00FF00" stroke="#8c988c" stroke-width="0.42"/>
<rect x="246.25" y="337.00" width="11.37" height="8.69" fill="#00FF00" stroke="#8c988c" stroke-width="0.42"/>
<rect x="257.62" y="337.00" width="11.37" height="8.69" fill="#00FF00" stroke="#8c988c" stroke-width="0.42"/>
<rect x="268.99" y="337.00" width="11.37" height="8.69" fill="#00FF00" stroke="#8c988c" stroke-width="0.42"/>
<rect x="280.36" y="337.00" width="11.37" height="8.69" fill="#00FF00" stroke="#8c988c" stroke-width="0.42"/>
<rect x="291.73" y="337.00" width="11.37" height="8.69" fill="#00FF00" stroke="#8c988c" stroke-width="0.42"/>
<rect x="30.20" y="345.69" width="11.37" height="8.69" fill="#00FF00" stroke="#8c988c" stroke-width="0.42"/>
<rect x="41.57" y="345.69" width="11.37" height="8.69" fill="#00FF00" stroke="#8c988c" stroke-width="0.42"/>
<rect x="52.94" y="345.69" width="11.37" height="8.69" fill="#00FF00" stroke="#8c988c" stroke-width="0.42"/>
<rect x="64.31" y="345.69" width="11.37" height="8.69" fill="#00FF00" stroke="#8c988c" stroke-width="0.42"/>
<rect x="75.68" y="345.69" width="11.37" height="8.69" fill="#00FF00" stroke="#8c988c" stroke-width="0.42"/>
<rect x="87.05" y="345.69" width="11.37" height="8.69" fill="#00FF00" stroke="#8c988c" stroke-width="0.42"/>
<rect x="98.43" y="345.69" width="11.37" height="8.69" fill="#00FF00" stroke="#8c988c" stroke-width="0.42"/>
<rect x="109.80" y="345.69" width="11.37" height="8.69" fill="#00FF00" stroke="#8c988c" stroke-width="0.42"/>
<rect x="121.17" y="345.69" width="11.37" height="8.69" fill="#00FF00" stroke="#8c988c" stroke-width="0.42"/>
<rect x="132.54" y="345.69" width="11.37" height="8.69" fill="#00FF00" stroke="#8c988c" stroke-width="0.42"/>
<rect x="143.91" y="345.69" width="11.37" height="8.69" fill="#00FF00" stroke="#8c988c" stroke-width="0.42"/>
<rect x="155.28" y="345.69" width="11.37" height="8.69" fill="#00FF00" stroke="#8c988c" stroke-width="0.42"/>
<rect x="166.65" y="345.69" width="11.37" height="8.69" fill="#00FF00" stroke="#8c988c" stroke-width="0.42"/>
<rect x="178.02" y="345.69" width="11.37" height="8.69" fill="#00FF00" stroke="#8c988c" stroke-width="0.42"/>
<rect x="189.39" y="345.69" width="11.37" height="8.69" fill="#00FF00" stroke="#8c988c" stroke-width="0.42"/>
<rect x="200.76" y="345.69" width="11.37" height="8.69" fill="#00FF00" stroke="#8c988c" stroke-width="0.42"/>
<rect x="212.13" y="345.69" width="11.37" height="8.69" fill="#00FF00" stroke="#8c988c" stroke-width="0.42"/>
<rect x="223.50" y="345.69" width="11.37" height="8.69" fill="#00FF00" stroke="#8c988c" stroke-width="0.42"/>
<rect x="234.88" y="345.69" width="11.37" height="8.69" fill="#00FF00" stroke="#8c988c" stroke-width="0.42"/>
<rect x="246.25" y="345.69" width="11.37" height="8.69" fill="#00FF00" stroke="#8c988c" stroke-width="0.42"/>
<rect x="257.62" y="345.69" width="11.37" height="8.69" fill="#00FF00" stroke="#8c988c" stroke-width="0.42"/>
<rect x="268.99" y="345.69" width="11.37" height="8.69" fill="#00FF00" stroke="#8c988c" stroke-width="0.42"/>
<rect x="280.36" y="345.69" width="11.37" height="8.69" fill="#00FF00" stroke="#8c988c" stroke-width="0.42"/>
<rect x="291.73" y="345.69" width="11.37" height="8.69" fill="#00FF00" stroke="#8c988c" stroke-width="0.42"/>
<rect x="30.20" y="354.38" width="11.37" height="8.69" fill="#00FF00" stroke="#8c988c" stroke-width="0.42"/>
<rect x="41.57" y="354.38" width="11.37" height="8.69" fill="#00FF00" stroke="#8c988c" stroke-width="0.42"/>
<rect x="52.94" y="354.38" width="11.37" height="8.69" fill="#00FF00" stroke="#8c988c" stroke-width="0.42"/>
<rect x="64.31" y="354.38" width="11.37" height="8.69" fill="#00FF00" stroke="#8c988c" stroke-width="0.42"/>
<rect x="75.68" y="354.38" width="11.37" height="8.69" fill="#00FF00" stroke="#8c988c" stroke-width="0.42"/>
<rect x="87.05" y="354.38" width="11.37" height="8.69" fill="#00FF00" stroke="#8c988c" stroke-width="0.42"/>
<rect x="98.43" y="354.38" width="11.37" height="8.69" fill="#00FF00" stroke="#8c988c" stroke-width="0.42"/>
<rect x="109.80" y="354.38" width="11.37" height="8.69" fill="#00FF00" stroke="#8c988c" stroke-width="0.42"/>
<rect x="121.17" y="354.38" width="11.37" height="8.69" fill="#00FF00" stroke="#8c988c" stroke-width="0.42"/>
<rect x="132.54" y="354.38" width="11.37" height="8.69" fill="#00FF00" stroke="#8c988c" stroke-width="0.42"/>
<rect x="143.91" y="354.38" width="11.37" height="8.69" fill="#00FF00" stroke="#8c988c" stroke-width="0.42"/>
<rect x="155.28" y="354.38" width="11.37" height="8.69" fill="#00FF00" stroke="#8c988c" stroke-width="0.42"/>
<rect x="166.65" y="354.38" width="11.37" height="8.69" fill="#00FF00" stroke="#8c988c" stroke-width="0.42"/>
<rect x="178.02" y="354.38" width="11.37" height="8.69" fill="#00FF00" stroke="#8c988c" stroke-width="0.42"/>
<rect x="189.39" y="354.38" width="11.37" height="8.69" fill="#00FF00" stroke="#8c988c" stroke-width="0.42"/>
<rect x="200.76" y="354.38" width="11.37" height="8.69" fill="#00FF00" stroke="#8c988c" stroke-width="0.42"/>
<rect x="212.13" y="354.38" width="11.37" height="8.69" fill="#00FF00" stroke="#8c988c" stroke-width="0.42"/>
<rect x="223.50" y="354.38" width="11.37" height="8.69" fill="#00FF00" stroke="#8c988c" stroke-width="0.42"/>
<rect x="234.88" y="354.38" width="11.37" height="8.69" fill="#00FF00" stroke="#8c988c" stroke-width="0.42"/>
<rect x="246.25" y="354.38" width="11.37" height="8.69" fill="#00FF00" stroke="#8c988c" stroke-width="0.42"/>
<rect x="257.62" y="354.38" width="11.37" height="8.69" fill="#00FF00" stroke="#8c988c" stroke-width="0.42"/>
<rect x="268.99" y="354.38" width="11.37" height="8.69" fill="#00FF00" stroke="#8c988c" stroke-width="0.42"/>
<rect x="280.36" y="354.38" width="11.37" height="8.69" fill="#00FF00" stroke="#8c988c" stroke-width="0.42"/>
<rect x="291.73" y="354.38" width="11.37" height="8.69" fill="#00FF00" stroke="#8c988c" stroke-width="0.42"/>
<rect x="30.20" y="363.07" width="11.37" height="8.69" fill="#00FF00" stroke="#8c988c" stroke-width="0.42"/>
<rect x="41.57" y="363.07" width="11.37" height="8.69" fill="#00FF00" stroke="#8c988c" stroke-width="0.42"/>
<rect x="52.94" y="363.07" width="11.37" height="8.69" fill="#00FF00" stroke="#8c988c" stroke-width="0.42"/>
<rect x="64.31" y="363.07" width="11.37" height="8.69" fill="#00FF00" stroke="#8c988c" stroke-width="0.42"/>
<rect x="75.68" y="363.07" width="11.37" height="8.69" fill="#00FF00" stroke="#8c988c" stroke-width="0.42"/>
<rect x="87.05" y="363.07" width="11.37" height="8.69" fill="#00FF00" stroke="#8c988c" stroke-width="0.42"/>
<rect x="98.43" y="363.07" width="11.37" height="8.69" fill="#00FF00" stroke="#8c988c" stroke-width="0.42"/>
<rect x="109.80" y="363.07" width="11.37" height="8.69" fill="#00FF00" stroke="#8c988c" stroke-width="0.42"/>
<rect x="121.17" y="363.07" width="11.37" height="8.69" fill="#00FF00" stroke="#8c988c" stroke-width="0.42"/>
<rect x="132.54" y="363.07" width="11.37" height="8.69" fill="#00FF00" stroke="#8c988c" stroke-width="0.42"/>
<rect x="143.91" y="363.07" width="11.37" height="8.69" fill="#00FF00" stroke="#8c988c" stroke-width="0.42"/>
<rect x="155.28" y="363.07" width="11.37" height="8.69" fill="#00FF00" stroke="#8c988c" stroke-width="0.42"/>
<rect x="166.65" y="363.07" width="11.37" height="8.69" fill="#00FF00" stroke="#8c988c" stroke-width="0.42"/>
<rect x="178.02" y="363.07" width="11.37" height="8.69" fill="#00FF00" stroke="#8c988c" stroke-width="0.42"/>
<rect x="189.39" y="363.07" width="11.37" height="8.69" fill="#00FF00" stroke="#8c988c" stroke-width="0.42"/>
<rect x="200.76" y="363.07" width="11.37" height="8.69" fill="#00FF00" stroke="#8c988c" stroke-width="0.42"/>
<rect x="212.13" y="363.07" width="11.37" height="8.69" fill="#00FF00" stroke="#8c988c" stroke-width="0.42"/>
<rect x="223.50" y="363.07" width="11.37" height="8.69" fill="#00FF00" stroke="#8c988c" stroke-width="0.42"/>
<rect x="234.88" y="363.07" width="11.37" height="8.69" fill="#00FF00" stroke="#8c988c" stroke-width="0.42"/>
<rect x="246.25" y="363.07" width="11.37" height="8.69" fill="#00FF00" stroke="#8c988c" stroke-width="0.42"/>
<rect x="257.62" y="363.07" width="11.37" height="8.69" fill="#00FF00" stroke="#8c988c" stroke-width="0.42"/>
<rect x="268.99" y="363.07" width="11.37" height="8.69" fill="#00FF00" stroke="#8c988c" stroke-width="0.42"/>
<rect x="280.36" y="363.07" width="11.37" height="8.69" fill="#00FF00" stroke="#8c988c" stroke-width="0.42"/>
<rect x="291.73" y="363.07" width="11.37" height="8.69" fill="#00FF00" stroke="#8c988c" stroke-width="0.42"/>
<rect x="30.20" y="371.76" width="11.37" height="8.69" fill="#00FF00" stroke="#8c988c" stroke-width="0.42"/>
<rect x="41.57" y="371.76" width="11.37" height="8.69" fill="#00FF00" stroke="#8c988c" stroke-width="0.42"/>
<rect x="52.94" y="371.76" width="11.37" height="8.69" fill="#00FF00" stroke="#8c988c" stroke-width="0.42"/>
<rect x="64.31" y="371.76" width="11.37" height="8.69" fill="#00FF00" stroke="#8c988c" stroke-width="0.42"/>
<rect x="75.68" y="371.76" width="11.37" height="8.69" fill="#00FF00" stroke="#8c988c" stroke-width="0.42"/>
<rect x="87.05" y="371.76" width="11.37" height="8.69" fill="#00FF00" stroke="#8c988c" stroke-width="0.42"/>
<rect x="98.43" y="371.76" width="11.37" height="8.69" fill="#00FF00" stroke="#8c988c" stroke-width="0.42"/>
<rect x="109.80" y="371.76" width="11.37" height="8.69" fill="#00FF00" stroke="#8c988c" stroke-width="0.42"/>
<rect x="121.17" y="371.76" width="11.37" height="8.69" fill="#00FF00" stroke="#8c988c" stroke-width="0.42"/>
<rect x="132.54" y="371.76" width="11.37" height="8.69" fill="#00FF00" stroke="#8c988c" stroke-width="0.42"/>
<rect x="143.91" y="371.76" width="11.37" height="8.69" fill="#00FF00" stroke="#8c988c" stroke-width="0.42"/>
<rect x="155.28" y="371.76" width="11.37" height="8.69" fill="#00FF00" stroke="#8c988c" stroke-width="0.42"/>
<rect x="166.65" y="371.76" width="11.37" height="8.69" fill="#00FF00" stroke="#8c988c" stroke-width="0.42"/>
<rect x="178.02" y="371.76" width="11.37" height="8.69" fill="#00FF00" stroke="#8c988c" stroke-width="0.42"/>
<rect x="189.39" y="371.76" width="11.37" height="8.69" fill="#00FF00" stroke="#8c988c" stroke-width="0.42"/>
<rect x="200.76" y="371.76" width="11.37" height="8.69" fill="#00FF00" stroke="#8c988c" stroke-width="0.42"/>
<rect x="212.13" y="371.76" width="11.37" height="8.69" fill="#00FF00" stroke="#8c988c" stroke-width="0.42"/>
<rect x="223.50" y="371.76" width="11.37" height="8.69" fill="#00FF00" stroke="#8c988c" stroke-width="0.42"/>
<rect x="234.88" y="371.76" width="11.37" height="8.69" fill="#00FF00" stroke="#8c988c" stroke-width="0.42"/>
<rect x="246.25" y="371.76" width="11.37" height="8.69" fill="#00FF00" stroke="#8c988c" stroke-width="0.42"/>
<rect x="257.62" y="371.76" width="11.37" height="8.69" fill="#00FF00" stroke="#8c988c" stroke-width="0.42"/>
<rect x="268.99" y="371.76" width="11.37" height="8.69" fill="#00FF00" stroke="#8c988c" stroke-width="0.42"/>
<rect x="280.36" y="371.76" width="11.37" height="8.69" fill="#00FF00" stroke="#8c988c" stroke-width="0.42"/>
<rect x="291.73" y="371.76" width="11.37" height="8.69" fill="#00FF00" stroke="#8c988c" stroke-width="0.42"/>
<rect x="30.20" y="380.45" width="11.37" height="8.69" fill="#00FF00" stroke="#8c988c" stroke-width="0.42"/>
<rect x="41.57" y="380.45" width="11.37" height="8.69" fill="#00FF00" stroke="#8c988c" stroke-width="0.42"/>
<rect x="52.94" y="380.45" width="11.37" height="8.69" fill="#00FF00" stroke="#8c988c" stroke-width="0.42"/>
<rect x="64.31" y="380.45" width="11.37" height="8.69" fill="#00FF00" stroke="#8c988c" stroke-width="0.42"/>
<rect x="75.68" y="380.45" width="11.37" height="8.69" fill="#00FF00" stroke="#8c988c" stroke-width="0.42"/>
<rect x="87.05" y="380.45" width="11.37" height="8.69" fill="#00FF00" stroke="#8c988c" stroke-width="0.42"/>
<rect x="98.43" y="380.45" width="11.37" height="8.69" fill="#00FF00" stroke="#8c988c" stroke-width="0.42"/>
<rect x="109.80" y="380.45" width="11.37" height="8.69" fill="#00FF00" stroke="#8c988c" stroke-width="0.42"/>
<rect x="121.17" y="380.45" width="11.37" height="8.69" fill="#00F400" stroke="#8c988c" stroke-width="0.42"/>
<rect x="132.54" y="380.45" width="11.37" height="8.69" fill="#00FF00" stroke="#8c988c" stroke-width="0.42"/>
<rect x="143.91" y="380.45" width="11.37" height="8.69" fill="#00FF00" stroke="#8c988c" stroke-width="0.42"/>
<rect x="155.28" y="380.45" width="11.37" height="8.69" fill="#00FF00" stroke="#8c988c" stroke-width="0.42"/>
<rect x="166.65" y="380.45" width="11.37" height="8.69" fill="#00FF00" stroke="#8c988c" stroke-width="0.42"/>
<rect x="178.02" y="380.45" width="11.37" height="8.69" fill="#00E800" stroke="#8c988c" stroke-width="0.42"/>
<rect x="189.39" y="380.45" width="11.37" height="8.69" fill="#00FF00" stroke="#8c988c" stroke-width="0.42"/>
<rect x="200.76" y="380.45" width="11.37" height="8.69" fill="#00FF00" stroke="#8c988c" stroke-width="0.42"/>
<rect x="212.13" y="380.45" width="11.37" height="8.69" fill="#00FF00" stroke="#8c988c" stroke-width="0.42"/>
<rect x="223.50" y="380.45" width="11.37" height="8.69" fill="#00FF00" stroke="#8c988c" stroke-width="0.42"/>
<rect x="234.88" y="380.45" width="11.37" height="8.69" fill="#00FF00" stroke="#8c988c" stroke-width="0.42"/>
<rect x="246.25" y="380.45" width="11.37" height="8.69" fill="#00FF00" stroke="#8c988c" stroke-width="0.42"/>
<rect x="257.62" y="380.45" width="11.37" height="8.69" fill="#00F000" stroke="#8c988c" stroke-width="0.42"/>
<rect x="268.99" y="380.45" width="11.37" height="8.69" fill="#00E800" stroke="#8c988c" stroke-width="0.42"/>
<rect x="280.36" y="380.45" width="11.37" height="8.69" fill="#00FF00" stroke="#8c988c" stroke-width="0.42"/>
<rect x="291.73" y="380.45" width="11.37" height="8.69" fill="#00FF00" stroke="#8c988c" stroke-width="0.42"/>
<rect x="30.20" y="389.14" width="11.37" height="8.69" fill="#00FF00" stroke="#8c988c" stroke-width="0.42"/>
<rect x="41.57" y="389.14" width="11.37" height="8.69" fill="#00FF00" stroke="#8c988c" stroke-width="0.42"/>
<rect x="52.94" y="389.14" width="11.37" height="8.69" fill="#00FF00" stroke="#8c988c" stroke-width="0.42"/>
<rect x="64.31" y="389.14" width="11.37" height="8.69" fill="#00FF00" stroke="#8c988c" stroke-width="0.42"/>
<rect x="75.68" y="389.14" width="11.37" height="8.69" fill="#00FF00" stroke="#8c988c" stroke-width="0.42"/>
<rect x="87.05" y="389.14" width="11.37" height="8.69" fill="#00FF00" stroke="#8c988c" stroke-width="0.42"/>
<rect x="98.43" y="389.14" width="11.37" height="8.69" fill="#00FF00" stroke="#8c988c" stroke-width="0.42"/>
<rect x="109.80" y="389.14" width="11.37" height="8.69" fill="#00FF00" stroke="#8c988c" stroke-width="0.42"/>
<rect x="121.17" y="389.14" width="11.37" height="8.69" fill="#00FF00" stroke="#8c988c" stroke-width="0.42"/>
<rect x="132.54" y="389.14" width="11.37" height="8.69" fill="#00FF00" stroke="#8c988c" stroke-width="0.42"/>
<rect x="143.91" y="389.14" width="11.37" height="8.69" fill="#00FF00" stroke="#8c988c" stroke-width="0.42"/>
<rect x="155.28" y="389.14" width="11.37" height="8.69" fill="#00FF00" stroke="#8c988c" stroke-width="0.42"/>
<rect x="166.65" y="389.14" width="11.37" height="8.69" fill="#00FF00" stroke="#8c988c" stroke-width="0.42"/>
<rect x="178.02" y="389.14" width="11.37" height="8.69" fill="#00F000" stroke="#8c988c" stroke-width="0.42"/>
<rect x="189.39" y="389.14" width="11.37" height="8.69" fill="#00F000" stroke="#8c988c" stroke-width="0.42"/>
<rect x="200.76" y="389.14" width="11.37" height="8.69" fill="#00FF00" stroke="#8c988c" stroke-width="0.42"/>
<rect x="212.13" y="389.14" width="11.37" height="8.69" fill="#00FF00" stroke="#8c988c" stroke-width="0.42"/>
<rect x="223.50" y="389.14" width="11.37" height="8.69" fill="#00FF00" stroke="#8c988c" stroke-width="0.42"/>
<rect x="234.88" y="389.14" width="11.37" height="8.69" fill="#00FF00" stroke="#8c988c" stroke-width="0.42"/>
<rect x="246.25" y="389.14" width="11.37" height="8.69" fill="#00F000" stroke="#8c988c" stroke-width="0.42"/>
<rect x="257.62" y="389.14" width="11.37" height="8.69" fill="#00FF00" stroke="#8c988c" stroke-width="0.42"/>
<rect x="268.99" y="389.14" width="11.37" height="8.69" fill="#00FF00" stroke="#8c988c" stroke-width="0.42"/>
<rect x="280.36" y="389.14" width="11.37" height="8.69" fill="#00FF00" stroke="#8c988c" stroke-width="0.42"/>
<rect x="291.73" y="389.14" width="11.37" height="8.69" fill="#00FF00" stroke="#8c988c" stroke-width="0.42"/>
<rect x="30.20" y="397.83" width="11.37" height="8.69" fill="#00A800" stroke="#8c988c" stroke-width="0.42"/>
<rect x="41.57" y="397.83" width="11.37" height="8.69" fill="#00A800" stroke="#8c988c" stroke-width="0.42"/>
<rect x="52.94" y="397.83" width="11.37" height="8.69" fill="#00A800" stroke="#8c988c" stroke-width="0.42"/>
<rect x="64.31" y="397.83" width="11.37" height="8.69" fill="#00C000" stroke="#8c988c" stroke-width="0.42"/>
<rect x="75.68" y="397.83" width="11.37" height="8.69" fill="#00B000" stroke="#8c988c" stroke-width="0.42"/>
<rect x="87.05" y="397.83" width="11.37" height="8.69" fill="#006800" stroke="#8c988c" stroke-width="0.42"/>
<rect x="98.43" y="397.83" width="11.37" height="8.69" fill="#001000" stroke="#8c988c" stroke-width="0.42"/>
<rect x="109.80" y="397.83" width="11.37" height="8.69" fill="#00A000" stroke="#8c988c" stroke-width="0.42"/>
<rect x="121.17" y="397.83" width="11.37" height="8.69" fill="#00C000" stroke="#8c988c" stroke-width="0.42"/>
<rect x="132.54" y="397.83" width="11.37" height="8.69" fill="#00D000" stroke="#8c988c" stroke-width="0.42"/>
<rect x="143.91" y="397.83" width="11.37" height="8.69" fill="#00E800" stroke="#8c988c" stroke-width="0.42"/>
<rect x="155.28" y="397.83" width="11.37" height="8.69" fill="#00B800" stroke="#8c988c" stroke-width="0.42"/>
<rect x="166.65" y="397.83" width="11.37" height="8.69" fill="#00B800" stroke="#8c988c" stroke-width="0.42"/>
<rect x="178.02" y="397.83" width="11.37" height="8.69" fill="#00E800" stroke="#8c988c" stroke-width="0.42"/>
<rect x="189.39" y="397.83" width="11.37" height="8.69" fill="#008800" stroke="#8c988c" stroke-width="0.42"/>
<rect x="200.76" y="397.83" width="11.37" height="8.69" fill="#00E800" stroke="#8c988c" stroke-width="0.42"/>
<rect x="212.13" y="397.83" width="11.37" height="8.69" fill="#00F000" stroke="#8c988c" stroke-width="0.42"/>
<rect x="223.50" y="397.83" width="11.37" height="8.69" fill="#00FF00" stroke="#8c988c" stroke-width="0.42"/>
<rect x="234.88" y="397.83" width="11.37" height="8.69" fill="#00F800" stroke="#8c988c" stroke-width="0.42"/>
<rect x="246.25" y="397.83" width="11.37" height="8.69" fill="#00FF00" stroke="#8c988c" stroke-width="0.42"/>
<rect x="257.62" y="397.83" width="11.37" height="8.69" fill="#00F800" stroke="#8c988c" stroke-width="0.42"/>
<rect x="268.99" y="397.83" width="11.37" height="8.69" fill="#00F000" stroke="#8c988c" stroke-width="0.42"/>
<rect x="280.36" y="397.83" width="11.37" height="8.69" fill="#00F800" stroke="#8c988c" stroke-width="0.42"/>
<rect x="291.73" y="397.83" width="11.37" height="8.69" fill="#00FF00" stroke="#8c988c" stroke-width="0.42"/>
<rect x="30.20" y="406.52" width="11.37" height="8.69" fill="#00B000" stroke="#8c988c" stroke-width="0.42"/>
<rect x="41.57" y="406.52" width="11.37" height="8.69" fill="#000800" stroke="#8c988c" stroke-width="0.42"/>
<rect x="52.94" y="406.52" width="11.37" height="8.69" fill="#008800" stroke="#8c988c" stroke-width="0.42"/>
<rect x="64.31" y="406.52" width="11.37" height="8.69" fill="#00D000" stroke="#8c988c" stroke-width="0.42"/>
<rect x="75.68" y="406.52" width="11.37" height="8.69" fill="#00C000" stroke="#8c988c" stroke-width="0.42"/>
<rect x="87.05" y="406.52" width="11.37" height="8.69" fill="#00D000" stroke="#8c988c" stroke-width="0.42"/>
<rect x="98.43" y="406.52" width="11.37" height="8.69" fill="#00D000" stroke="#8c988c" stroke-width="0.42"/>
<rect x="109.80" y="406.52" width="11.37" height="8.69" fill="#00A800" stroke="#8c988c" stroke-width="0.42"/>
<rect x="121.17" y="406.52" width="11.37" height="8.69" fill="#00B800" stroke="#8c988c" stroke-width="0.42"/>
<rect x="132.54" y="406.52" width="11.37" height="8.69" fill="#00D800" stroke="#8c988c" stroke-width="0.42"/>
<rect x="143.91" y="406.52" width="11.37" height="8.69" fill="#00E000" stroke="#8c988c" stroke-width="0.42"/>
<rect x="155.28" y="406.52" width="11.37" height="8.69" fill="#00F800" stroke="#8c988c" stroke-width="0.42"/>
<rect x="166.65" y="406.52" width="11.37" height="8.69" fill="#00D800" stroke="#8c988c" stroke-width="0.42"/>
<rect x="178.02" y="406.52" width="11.37" height="8.69" fill="#00C000" stroke="#8c988c" stroke-width="0.42"/>
<rect x="189.39" y="406.52" width="11.37" height="8.69" fill="#00F000" stroke="#8c988c" stroke-width="0.42"/>
<rect x="200.76" y="406.52" width="11.37" height="8.69" fill="#00C000" stroke="#8c988c" stroke-width="0.42"/>
<rect x="212.13" y="406.52" width="11.37" height="8.69" fill="#00D000" stroke="#8c988c" stroke-width="0.42"/>
<rect x="223.50" y="406.52" width="11.37" height="8.69" fill="#00FF00" stroke="#8c988c" stroke-width="0.42"/>
<rect x="234.88" y="406.52" width="11.37" height="8.69" fill="#00FF00" stroke="#8c988c" stroke-width="0.42"/>
<rect x="246.25" y="406.52" width="11.37" height="8.69" fill="#00C000" stroke="#8c988c" stroke-width="0.42"/>
<rect x="257.62" y="406.52" width="11.37" height="8.69" fill="#00FF00" stroke="#8c988c" stroke-width="0.42"/>
<rect x="268.99" y="406.52" width="11.37" height="8.69" fill="#00F800" stroke="#8c988c" stroke-width="0.42"/>
<rect x="280.36" y="406.52" width="11.37" height="8.69" fill="#00E000" stroke="#8c988c" stroke-width="0.42"/>
<rect x="291.73" y="406.52" width="11.37" height="8.69" fill="#00FF00" stroke="#8c988c" stroke-width="0.42"/>
<rect x="30.20" y="415.21" width="11.37" height="8.69" fill="#001000" stroke="#8c988c" stroke-width="0.42"/>
<rect x="41.57" y="415.21" width="11.37" height="8.69" fill="#005000" stroke="#8c988c" stroke-width="0.42"/>
<rect x="52.94" y="415.21" width="11.37" height="8.69" fill="#180000" stroke="#8c988c" stroke-width="0.42"/>
<rect x="64.31" y="415.21" width="11.37" height="8.69" fill="#008000" stroke="#8c988c" stroke-width="0.42"/>
<rect x="75.68" y="415.21" width="11.37" height="8.69" fill="#005800" stroke="#8c988c" stroke-width="0.42"/>
<rect x="87.05" y="415.21" width="11.37" height="8.69" fill="#180000" stroke="#8c988c" stroke-width="0.42"/>
<rect x="98.43" y="415.21" width="11.37" height="8.69" fill="#008800" stroke="#8c988c" stroke-width="0.42"/>
<rect x="109.80" y="415.21" width="11.37" height="8.69" fill="#600000" stroke="#8c988c" stroke-width="0.42"/>
<rect x="121.17" y="415.21" width="11.37" height="8.69" fill="#007000" stroke="#8c988c" stroke-width="0.42"/>
<rect x="132.54" y="415.21" width="11.37" height="8.69" fill="#005800" stroke="#8c988c" stroke-width="0.42"/>
<rect x="143.91" y="415.21" width="11.37" height="8.69" fill="#002000" stroke="#8c988c" stroke-width="0.42"/>
<rect x="155.28" y="415.21" width="11.37" height="8.69" fill="#002000" stroke="#8c988c" stroke-width="0.42"/>
<rect x="166.65" y="415.21" width="11.37" height="8.69" fill="#000800" stroke="#8c988c" stroke-width="0.42"/>
<rect x="178.02" y="415.21" width="11.37" height="8.69" fill="#180000" stroke="#8c988c" stroke-width="0.42"/>
<rect x="189.39" y="415.21" width="11.37" height="8.69" fill="#001800" stroke="#8c988c" stroke-width="0.42"/>
<rect x="200.76" y="415.21" width="11.37" height="8.69" fill="#005000" stroke="#8c988c" stroke-width="0.42"/>
<rect x="212.13" y="415.21" width="11.37" height="8.69" fill="#003800" stroke="#8c988c" stroke-width="0.42"/>
<rect x="223.50" y="415.21" width="11.37" height="8.69" fill="#380000" stroke="#8c988c" stroke-width="0.42"/>
<rect x="234.88" y="415.21" width="11.37" height="8.69" fill="#002800" stroke="#8c988c" stroke-width="0.42"/>
<rect x="246.25" y="415.21" width="11.37" height="8.69" fill="#003800" stroke="#8c988c" stroke-width="0.42"/>
<rect x="257.62" y="415.21" width="11.37" height="8.69" fill="#008000" stroke="#8c988c" stroke-width="0.42"/>
<rect x="268.99" y="415.21" width="11.37" height="8.69" fill="#006000" stroke="#8c988c" stroke-width="0.42"/>
<rect x="280.36" y="415.21" width="11.37" height="8.69" fill="#001800" stroke="#8c988c" stroke-width="0.42"/>
<rect x="291.73" y="415.21" width="11.37" height="8.69" fill="#004000" stroke="#8c988c" stroke-width="0.42"/>
<rect x="30.20" y="423.90" width="11.37" height="8.69" fill="#008800" stroke="#8c988c" stroke-width="0.42"/>
<rect x="41.57" y="423.90" width="11.37" height="8.69" fill="#00C800" stroke="#8c988c" stroke-width="0.42"/>
<rect x="52.94" y="423.90" width="11.37" height="8.69" fill="#008800" stroke="#8c988c" stroke-width="0.42"/>
<rect x="64.31" y="423.90" width="11.37" height="8.69" fill="#007000" stroke="#8c988c" stroke-width="0.42"/>
<rect x="75.68" y="423.90" width="11.37" height="8.69" fill="#009000" stroke="#8c988c" stroke-width="0.42"/>
<rect x="87.05" y="423.90" width="11.37" height="8.69" fill="#00B800" stroke="#8c988c" stroke-width="0.42"/>
<rect x="98.43" y="423.90" width="11.37" height="8.69" fill="#00F000" stroke="#8c988c" stroke-width="0.42"/>
<rect x="109.80" y="423.90" width="11.37" height="8.69" fill="#00C000" stroke="#8c988c" stroke-width="0.42"/>
<rect x="121.17" y="423.90" width="11.37" height="8.69" fill="#005000" stroke="#8c988c" stroke-width="0.42"/>
<rect x="132.54" y="423.90" width="11.37" height="8.69" fill="#00B800" stroke="#8c988c" stroke-width="0.42"/>
<rect x="143.91" y="423.90" width="11.37" height="8.69" fill="#00A800" stroke="#8c988c" stroke-width="0.42"/>
<rect x="155.28" y="423.90" width="11.37" height="8.69" fill="#00B000" stroke="#8c988c" stroke-width="0.42"/>
<rect x="166.65" y="423.90" width="11.37" height="8.69" fill="#00B000" stroke="#8c988c" stroke-width="0.42"/>
<rect x="178.02" y="423.90" width="11.37" height="8.69" fill="#00A800" stroke="#8c988c" stroke-width="0.42"/>
<rect x="189.39" y="423.90" width="11.37" height="8.69" fill="#00A800" stroke="#8c988c" stroke-width="0.42"/>
<rect x="200.76" y="423.90" width="11.37" height="8.69" fill="#00B000" stroke="#8c988c" stroke-width="0.42"/>
<rect x="212.13" y="423.90" width="11.37" height="8.69" fill="#005000" stroke="#8c988c" stroke-width="0.42"/>
<rect x="223.50" y="423.90" width="11.37" height="8.69" fill="#00A800" stroke="#8c988c" stroke-width="0.42"/>
<rect x="234.88" y="423.90" width="11.37" height="8.69" fill="#00B000" stroke="#8c988c" stroke-width="0.42"/>
<rect x="246.25" y="423.90" width="11.37" height="8.69" fill="#00A800" stroke="#8c988c" stroke-width="0.42"/>
<rect x="257.62" y="423.90" width="11.37" height="8.69" fill="#009000" stroke="#8c988c" stroke-width="0.42"/>
<rect x="268.99" y="423.90" width="11.37" height="8.69" fill="#008800" stroke="#8c988c" stroke-width="0.42"/>
<rect x="280.36" y="423.90" width="11.37" height="8.69" fill="#00A800" stroke="#8c988c" stroke-width="0.42"/>
<rect x="291.73" y="423.90" width="11.37" height="8.69" fill="#00A000" stroke="#8c988c" stroke-width="0.42"/>
<rect x="30.20" y="432.59" width="11.37" height="8.69" fill="#008800" stroke="#8c988c" stroke-width="0.42"/>
<rect x="41.57" y="432.59" width="11.37" height="8.69" fill="#005000" stroke="#8c988c" stroke-width="0.42"/>
<rect x="52.94" y="432.59" width="11.37" height="8.69" fill="#00A800" stroke="#8c988c" stroke-width="0.42"/>
<rect x="64.31" y="432.59" width="11.37" height="8.69" fill="#003800" stroke="#8c988c" stroke-width="0.42"/>
<rect x="75.68" y="432.59" width="11.37" height="8.69" fill="#00A000" stroke="#8c988c" stroke-width="0.42"/>
<rect x="87.05" y="432.59" width="11.37" height="8.69" fill="#00A800" stroke="#8c988c" stroke-width="0.42"/>
<rect x="98.43" y="432.59" width="11.37" height="8.69" fill="#001000" stroke="#8c988c" stroke-width="0.42"/>
<rect x="109.80" y="432.59" width="11.37" height="8.69" fill="#00A000" stroke="#8c988c" stroke-width="0.42"/>
<rect x="121.17" y="432.59" width="11.37" height="8.69" fill="#00B000" stroke="#8c988c" stroke-width="0.42"/>
<rect x="132.54" y="432.59" width="11.37" height="8.69" fill="#005000" stroke="#8c988c" stroke-width="0.42"/>
<rect x="143.91" y="432.59" width="11.37" height="8.69" fill="#006800" stroke="#8c988c" stroke-width="0.42"/>
<rect x="155.28" y="432.59" width="11.37" height="8.69" fill="#007000" stroke="#8c988c" stroke-width="0.42"/>
<rect x="166.65" y="432.59" width="11.37" height="8.69" fill="#007000" stroke="#8c988c" stroke-width="0.42"/>
<rect x="178.02" y="432.59" width="11.37" height="8.69" fill="#00B000" stroke="#8c988c" stroke-width="0.42"/>
<rect x="189.39" y="432.59" width="11.37" height="8.69" fill="#006000" stroke="#8c988c" stroke-width="0.42"/>
<rect x="200.76" y="432.59" width="11.37" height="8.69" fill="#00B800" stroke="#8c988c" stroke-width="0.42"/>
<rect x="212.13" y="432.59" width="11.37" height="8.69" fill="#004000" stroke="#8c988c" stroke-width="0.42"/>
<rect x="223.50" y="432.59" width="11.37" height="8.69" fill="#008800" stroke="#8c988c" stroke-width="0.42"/>
<rect x="234.88" y="432.59" width="11.37" height="8.69" fill="#00A000" stroke="#8c988c" stroke-width="0.42"/>
<rect x="246.25" y="432.59" width="11.37" height="8.69" fill="#00B000" stroke="#8c988c" stroke-width="0.42"/>
<rect x="257.62" y="432.59" width="11.37" height="8.69" fill="#009000" stroke="#8c988c" stroke-width="0.42"/>
<rect x="268.99" y="432.59" width="11.37" height="8.69" fill="#007000" stroke="#8c988c" stroke-width="0.42"/>
<rect x="280.36" y="432.59" width="11.37" height="8.69" fill="#00A800" stroke="#8c988c" stroke-width="0.42"/>
<rect x="291.73" y="432.59" width="11.37" height="8.69" fill="#00A000" stroke="#8c988c" stroke-width="0.42"/>
<text transform="translate(307.30,256.60) scale(0.885,1.000)" font-size="6.9" font-weight="bold" fill="#FF0000" text-anchor="start" >Neutrophils</text>
<text transform="translate(307.30,265.39) scale(0.885,1.000)" font-size="6.55" font-weight="bold" fill="#000" text-anchor="start" >B cells memory</text>
<text transform="translate(307.30,274.18) scale(0.885,1.000)" font-size="6.55" font-weight="bold" fill="#000" text-anchor="start" >T cells regulatory (Tregs)</text>
<text transform="translate(307.30,282.97) scale(0.885,1.000)" font-size="6.9" font-weight="bold" fill="#FF0000" text-anchor="start" >Macrophages M0</text>
<text transform="translate(307.30,291.76) scale(0.885,1.000)" font-size="6.9" font-weight="bold" fill="#00B050" text-anchor="start" >Mast cells resting</text>
<text transform="translate(307.30,300.55) scale(0.885,1.000)" font-size="6.55" font-weight="bold" fill="#000" text-anchor="start" >Plasma cells</text>
<text transform="translate(307.30,309.34) scale(0.885,1.000)" font-size="6.55" font-weight="bold" fill="#000" text-anchor="start" >Macrophages M2</text>
<text transform="translate(307.30,318.13) scale(0.885,1.000)" font-size="6.55" font-weight="bold" fill="#000" text-anchor="start" >B cells naive</text>
<text transform="translate(307.30,326.92) scale(0.885,1.000)" font-size="6.55" font-weight="bold" fill="#000" text-anchor="start" >Mast cells activated</text>
<text transform="translate(307.30,335.71) scale(0.885,1.000)" font-size="6.55" font-weight="bold" fill="#000" text-anchor="start" >T cells CD4 memory resting</text>
<text transform="translate(307.30,344.50) scale(0.885,1.000)" font-size="6.55" font-weight="bold" fill="#000" text-anchor="start" >Eosinophils</text>
<text transform="translate(307.30,353.29) scale(0.885,1.000)" font-size="6.55" font-weight="bold" fill="#000" text-anchor="start" >Dendritic cells resting</text>
<text transform="translate(307.30,362.08) scale(0.885,1.000)" font-size="6.55" font-weight="bold" fill="#000" text-anchor="start" >Macrophages M1</text>
<text transform="translate(307.30,370.87) scale(0.885,1.000)" font-size="6.55" font-weight="bold" fill="#000" text-anchor="start" >T cells follicular helper</text>
<text transform="translate(307.30,379.66) scale(0.885,1.000)" font-size="6.55" font-weight="bold" fill="#000" text-anchor="start" >NK cells activated</text>
<text transform="translate(307.30,388.45) scale(0.885,1.000)" font-size="6.55" font-weight="bold" fill="#000" text-anchor="start" >T cells CD4 memory activated</text>
<text transform="translate(307.30,397.24) scale(0.885,1.000)" font-size="6.55" font-weight="bold" fill="#000" text-anchor="start" >Dendritic cells activated</text>
<text transform="translate(307.30,406.03) scale(0.885,1.000)" font-size="6.9" font-weight="bold" fill="#00B050" text-anchor="start" >T cells CD8+</text>
<text transform="translate(307.30,414.82) scale(0.885,1.000)" font-size="6.9" font-weight="bold" fill="#00B050" text-anchor="start" >T cells gamma delta</text>
<text transform="translate(307.30,423.61) scale(0.885,1.000)" font-size="6.55" font-weight="bold" fill="#000" text-anchor="start" >Monocytes</text>
<text transform="translate(307.30,432.40) scale(0.885,1.000)" font-size="6.55" font-weight="bold" fill="#000" text-anchor="start" >T cells CD4 naive</text>
<text transform="translate(307.30,441.19) scale(0.885,1.000)" font-size="6.55" font-weight="bold" fill="#000" text-anchor="start" >NK cells resting</text>
<text transform="translate(38.89,443.90) rotate(-90)" font-size="5.4" font-weight="bold" fill="#000" text-anchor="end" textLength="37" lengthAdjust="spacingAndGlyphs">GSM1498383</text>
<text transform="translate(50.26,443.90) rotate(-90)" font-size="5.4" font-weight="bold" fill="#000" text-anchor="end" textLength="37" lengthAdjust="spacingAndGlyphs">GSM1498384</text>
<text transform="translate(61.63,443.90) rotate(-90)" font-size="5.4" font-weight="bold" fill="#000" text-anchor="end" textLength="37" lengthAdjust="spacingAndGlyphs">GSM1498385</text>
<text transform="translate(73.00,443.90) rotate(-90)" font-size="5.4" font-weight="bold" fill="#000" text-anchor="end" textLength="37" lengthAdjust="spacingAndGlyphs">GSM1498386</text>
<text transform="translate(84.37,443.90) rotate(-90)" font-size="5.4" font-weight="bold" fill="#000" text-anchor="end" textLength="37" lengthAdjust="spacingAndGlyphs">GSM1498387</text>
<text transform="translate(95.74,443.90) rotate(-90)" font-size="5.4" font-weight="bold" fill="#000" text-anchor="end" textLength="37" lengthAdjust="spacingAndGlyphs">GSM1498388</text>
<text transform="translate(107.11,443.90) rotate(-90)" font-size="5.4" font-weight="bold" fill="#000" text-anchor="end" textLength="37" lengthAdjust="spacingAndGlyphs">GSM1498389</text>
<text transform="translate(118.48,443.90) rotate(-90)" font-size="5.4" font-weight="bold" fill="#000" text-anchor="end" textLength="37" lengthAdjust="spacingAndGlyphs">GSM1498390</text>
<text transform="translate(129.85,443.90) rotate(-90)" font-size="5.4" font-weight="bold" fill="#000" text-anchor="end" textLength="37" lengthAdjust="spacingAndGlyphs">GSM1498391</text>
<text transform="translate(141.22,443.90) rotate(-90)" font-size="5.4" font-weight="bold" fill="#000" text-anchor="end" textLength="37" lengthAdjust="spacingAndGlyphs">GSM1498392</text>
<text transform="translate(152.59,443.90) rotate(-90)" font-size="5.4" font-weight="bold" fill="#000" text-anchor="end" textLength="37" lengthAdjust="spacingAndGlyphs">GSM1498369</text>
<text transform="translate(163.96,446.00) rotate(-90)" font-size="5.4" font-weight="bold" fill="#000" text-anchor="end" textLength="37" lengthAdjust="spacingAndGlyphs">GSM1498370</text>
<text transform="translate(175.34,446.00) rotate(-90)" font-size="5.4" font-weight="bold" fill="#000" text-anchor="end" textLength="37" lengthAdjust="spacingAndGlyphs">GSM1498371</text>
<text transform="translate(186.71,446.00) rotate(-90)" font-size="5.4" font-weight="bold" fill="#000" text-anchor="end" textLength="37" lengthAdjust="spacingAndGlyphs">GSM1498372</text>
<text transform="translate(198.08,446.00) rotate(-90)" font-size="5.4" font-weight="bold" fill="#000" text-anchor="end" textLength="37" lengthAdjust="spacingAndGlyphs">GSM1498373</text>
<text transform="translate(209.45,446.00) rotate(-90)" font-size="5.4" font-weight="bold" fill="#000" text-anchor="end" textLength="37" lengthAdjust="spacingAndGlyphs">GSM1498374</text>
<text transform="translate(220.82,446.00) rotate(-90)" font-size="5.4" font-weight="bold" fill="#000" text-anchor="end" textLength="37" lengthAdjust="spacingAndGlyphs">GSM1498375</text>
<text transform="translate(232.19,446.00) rotate(-90)" font-size="5.4" font-weight="bold" fill="#000" text-anchor="end" textLength="37" lengthAdjust="spacingAndGlyphs">GSM1498376</text>
<text transform="translate(243.56,446.00) rotate(-90)" font-size="5.4" font-weight="bold" fill="#000" text-anchor="end" textLength="37" lengthAdjust="spacingAndGlyphs">GSM1498377</text>
<text transform="translate(254.93,446.00) rotate(-90)" font-size="5.4" font-weight="bold" fill="#000" text-anchor="end" textLength="37" lengthAdjust="spacingAndGlyphs">GSM1498378</text>
<text transform="translate(266.30,446.00) rotate(-90)" font-size="5.4" font-weight="bold" fill="#000" text-anchor="end" textLength="37" lengthAdjust="spacingAndGlyphs">GSM1498379</text>
<text transform="translate(277.67,446.00) rotate(-90)" font-size="5.4" font-weight="bold" fill="#000" text-anchor="end" textLength="37" lengthAdjust="spacingAndGlyphs">GSM1498380</text>
<text transform="translate(289.04,446.00) rotate(-90)" font-size="5.4" font-weight="bold" fill="#000" text-anchor="end" textLength="37" lengthAdjust="spacingAndGlyphs">GSM1498381</text>
<text transform="translate(300.41,446.00) rotate(-90)" font-size="5.4" font-weight="bold" fill="#000" text-anchor="end" textLength="37" lengthAdjust="spacingAndGlyphs">GSM1498382</text>
<path d="M30 254.44H1.5V385.1H11.4 M23.6 343.9H11.4V426.4H18.5 M30 419.55H18.5V432.4H25 M30 428.25H25V436.93H30 M30 402.17H25V410.87H30 M25 406H23.6V280.5H25.8 M27.5 267.5H25.8V294H28.5 M30 263.13H27.5V271.82H30 M30 280.51H28.5V307H29.2 M30 289.20H29.2V305.89H29.6 M30 297.89H29.5V350 M29.8 330V395 M29.2 345V372 M30 306.58H29.6V392" stroke="#333" stroke-width="0.6" fill="none"/>
</g>
<g id="panelC">
<text transform="translate(416.30,250.00)" font-size="11.6" font-weight="bold" fill="#000" text-anchor="start" >C</text>
<rect x="464.80" y="284.00" width="11.47" height="11.64" fill="#FF0000"/>
<rect x="476.12" y="284.00" width="11.47" height="11.64" fill="#FF7878"/>
<rect x="487.45" y="284.00" width="11.47" height="11.64" fill="#FF9191"/>
<rect x="498.77" y="284.00" width="11.47" height="11.64" fill="#FFF7F7"/>
<rect x="510.09" y="284.00" width="11.47" height="11.64" fill="#FF8A8A"/>
<rect x="521.42" y="284.00" width="11.47" height="11.64" fill="#8C8CFF"/>
<rect x="532.74" y="284.00" width="11.47" height="11.64" fill="#A6A6FF"/>
<rect x="544.06" y="284.00" width="11.47" height="11.64" fill="#8C8CFF"/>
<rect x="555.39" y="284.00" width="11.47" height="11.64" fill="#7373FF"/>
<rect x="566.71" y="284.00" width="11.47" height="11.64" fill="#D6D6FF"/>
<rect x="578.04" y="284.00" width="11.47" height="11.64" fill="#D4D4FF"/>
<rect x="589.36" y="284.00" width="11.47" height="11.64" fill="#FAFAFF"/>
<rect x="600.68" y="284.00" width="11.47" height="11.64" fill="#F7F7FF"/>
<rect x="612.01" y="284.00" width="11.47" height="11.64" fill="#D6D6FF"/>
<rect x="623.33" y="284.00" width="11.47" height="11.64" fill="#DBDBFF"/>
<rect x="634.65" y="284.00" width="11.47" height="11.64" fill="#9494FF"/>
<rect x="645.98" y="284.00" width="11.47" height="11.64" fill="#D1D1FF"/>
<rect x="464.80" y="295.49" width="11.47" height="11.64" fill="#FF7878"/>
<rect x="476.12" y="295.49" width="11.47" height="11.64" fill="#FF0000"/>
<rect x="487.45" y="295.49" width="11.47" height="11.64" fill="#FFFCFC"/>
<rect x="498.77" y="295.49" width="11.47" height="11.64" fill="#FCFCFF"/>
<rect x="510.09" y="295.49" width="11.47" height="11.64" fill="#FFCCCC"/>
<rect x="521.42" y="295.49" width="11.47" height="11.64" fill="#6666FF"/>
<rect x="532.74" y="295.49" width="11.47" height="11.64" fill="#2E2EFF"/>
<rect x="544.06" y="295.49" width="11.47" height="11.64" fill="#4747FF"/>
<rect x="555.39" y="295.49" width="11.47" height="11.64" fill="#4040FF"/>
<rect x="566.71" y="295.49" width="11.47" height="11.64" fill="#A3A3FF"/>
<rect x="578.04" y="295.49" width="11.47" height="11.64" fill="#D6D6FF"/>
<rect x="589.36" y="295.49" width="11.47" height="11.64" fill="#FFA6A6"/>
<rect x="600.68" y="295.49" width="11.47" height="11.64" fill="#FFC7C7"/>
<rect x="612.01" y="295.49" width="11.47" height="11.64" fill="#FFE8E8"/>
<rect x="623.33" y="295.49" width="11.47" height="11.64" fill="#ABABFF"/>
<rect x="634.65" y="295.49" width="11.47" height="11.64" fill="#D6D6FF"/>
<rect x="645.98" y="295.49" width="11.47" height="11.64" fill="#FFEDED"/>
<rect x="464.80" y="306.99" width="11.47" height="11.64" fill="#FF9191"/>
<rect x="476.12" y="306.99" width="11.47" height="11.64" fill="#FFFCFC"/>
<rect x="487.45" y="306.99" width="11.47" height="11.64" fill="#FF0000"/>
<rect x="498.77" y="306.99" width="11.47" height="11.64" fill="#FFC4C4"/>
<rect x="510.09" y="306.99" width="11.47" height="11.64" fill="#FFA6A6"/>
<rect x="521.42" y="306.99" width="11.47" height="11.64" fill="#DBDBFF"/>
<rect x="532.74" y="306.99" width="11.47" height="11.64" fill="#FFD1D1"/>
<rect x="544.06" y="306.99" width="11.47" height="11.64" fill="#FFF2F2"/>
<rect x="555.39" y="306.99" width="11.47" height="11.64" fill="#FFD4D4"/>
<rect x="566.71" y="306.99" width="11.47" height="11.64" fill="#FFFAFA"/>
<rect x="578.04" y="306.99" width="11.47" height="11.64" fill="#FFC7C7"/>
<rect x="589.36" y="306.99" width="11.47" height="11.64" fill="#A1A1FF"/>
<rect x="600.68" y="306.99" width="11.47" height="11.64" fill="#EBEBFF"/>
<rect x="612.01" y="306.99" width="11.47" height="11.64" fill="#F2F2FF"/>
<rect x="623.33" y="306.99" width="11.47" height="11.64" fill="#D9D9FF"/>
<rect x="634.65" y="306.99" width="11.47" height="11.64" fill="#6969FF"/>
<rect x="645.98" y="306.99" width="11.47" height="11.64" fill="#E3E3FF"/>
<rect x="464.80" y="318.48" width="11.47" height="11.64" fill="#FFF7F7"/>
<rect x="476.12" y="318.48" width="11.47" height="11.64" fill="#FCFCFF"/>
<rect x="487.45" y="318.48" width="11.47" height="11.64" fill="#FFC4C4"/>
<rect x="498.77" y="318.48" width="11.47" height="11.64" fill="#FF0000"/>
<rect x="510.09" y="318.48" width="11.47" height="11.64" fill="#FF8585"/>
<rect x="521.42" y="318.48" width="11.47" height="11.64" fill="#FFF0F0"/>
<rect x="532.74" y="318.48" width="11.47" height="11.64" fill="#EDEDFF"/>
<rect x="544.06" y="318.48" width="11.47" height="11.64" fill="#FFF0F0"/>
<rect x="555.39" y="318.48" width="11.47" height="11.64" fill="#FFE3E3"/>
<rect x="566.71" y="318.48" width="11.47" height="11.64" fill="#FFDBDB"/>
<rect x="578.04" y="318.48" width="11.47" height="11.64" fill="#FF9191"/>
<rect x="589.36" y="318.48" width="11.47" height="11.64" fill="#FAFAFF"/>
<rect x="600.68" y="318.48" width="11.47" height="11.64" fill="#D1D1FF"/>
<rect x="612.01" y="318.48" width="11.47" height="11.64" fill="#FCFCFF"/>
<rect x="623.33" y="318.48" width="11.47" height="11.64" fill="#9696FF"/>
<rect x="634.65" y="318.48" width="11.47" height="11.64" fill="#ADADFF"/>
<rect x="645.98" y="318.48" width="11.47" height="11.64" fill="#E8E8FF"/>
<rect x="464.80" y="329.98" width="11.47" height="11.64" fill="#FF8A8A"/>
<rect x="476.12" y="329.98" width="11.47" height="11.64" fill="#FFCCCC"/>
<rect x="487.45" y="329.98" width="11.47" height="11.64" fill="#FFA6A6"/>
<rect x="498.77" y="329.98" width="11.47" height="11.64" fill="#FF8585"/>
<rect x="510.09" y="329.98" width="11.47" height="11.64" fill="#FF0000"/>
<rect x="521.42" y="329.98" width="11.47" height="11.64" fill="#FFF5F5"/>
<rect x="532.74" y="329.98" width="11.47" height="11.64" fill="#E0E0FF"/>
<rect x="544.06" y="329.98" width="11.47" height="11.64" fill="#BFBFFF"/>
<rect x="555.39" y="329.98" width="11.47" height="11.64" fill="#BDBDFF"/>
<rect x="566.71" y="329.98" width="11.47" height="11.64" fill="#EDEDFF"/>
<rect x="578.04" y="329.98" width="11.47" height="11.64" fill="#FFEBEB"/>
<rect x="589.36" y="329.98" width="11.47" height="11.64" fill="#E0E0FF"/>
<rect x="600.68" y="329.98" width="11.47" height="11.64" fill="#D9D9FF"/>
<rect x="612.01" y="329.98" width="11.47" height="11.64" fill="#EBEBFF"/>
<rect x="623.33" y="329.98" width="11.47" height="11.64" fill="#BFBFFF"/>
<rect x="634.65" y="329.98" width="11.47" height="11.64" fill="#A6A6FF"/>
<rect x="645.98" y="329.98" width="11.47" height="11.64" fill="#F2F2FF"/>
<rect x="464.80" y="341.47" width="11.47" height="11.64" fill="#8C8CFF"/>
<rect x="476.12" y="341.47" width="11.47" height="11.64" fill="#6666FF"/>
<rect x="487.45" y="341.47" width="11.47" height="11.64" fill="#DBDBFF"/>
<rect x="498.77" y="341.47" width="11.47" height="11.64" fill="#FFF0F0"/>
<rect x="510.09" y="341.47" width="11.47" height="11.64" fill="#FFF5F5"/>
<rect x="521.42" y="341.47" width="11.47" height="11.64" fill="#FF0000"/>
<rect x="532.74" y="341.47" width="11.47" height="11.64" fill="#FFA1A1"/>
<rect x="544.06" y="341.47" width="11.47" height="11.64" fill="#FFBDBD"/>
<rect x="555.39" y="341.47" width="11.47" height="11.64" fill="#FF6E6E"/>
<rect x="566.71" y="341.47" width="11.47" height="11.64" fill="#FFEDED"/>
<rect x="578.04" y="341.47" width="11.47" height="11.64" fill="#FFC2C2"/>
<rect x="589.36" y="341.47" width="11.47" height="11.64" fill="#D9D9FF"/>
<rect x="600.68" y="341.47" width="11.47" height="11.64" fill="#DBDBFF"/>
<rect x="612.01" y="341.47" width="11.47" height="11.64" fill="#FFF5F5"/>
<rect x="623.33" y="341.47" width="11.47" height="11.64" fill="#FFFAFA"/>
<rect x="634.65" y="341.47" width="11.47" height="11.64" fill="#FFF7F7"/>
<rect x="645.98" y="341.47" width="11.47" height="11.64" fill="#EDEDFF"/>
<rect x="464.80" y="352.96" width="11.47" height="11.64" fill="#A6A6FF"/>
<rect x="476.12" y="352.96" width="11.47" height="11.64" fill="#2E2EFF"/>
<rect x="487.45" y="352.96" width="11.47" height="11.64" fill="#FFD1D1"/>
<rect x="498.77" y="352.96" width="11.47" height="11.64" fill="#EDEDFF"/>
<rect x="510.09" y="352.96" width="11.47" height="11.64" fill="#E0E0FF"/>
<rect x="521.42" y="352.96" width="11.47" height="11.64" fill="#FFA1A1"/>
<rect x="532.74" y="352.96" width="11.47" height="11.64" fill="#FF0000"/>
<rect x="544.06" y="352.96" width="11.47" height="11.64" fill="#FF8585"/>
<rect x="555.39" y="352.96" width="11.47" height="11.64" fill="#FF8282"/>
<rect x="566.71" y="352.96" width="11.47" height="11.64" fill="#FF8F8F"/>
<rect x="578.04" y="352.96" width="11.47" height="11.64" fill="#FFEBEB"/>
<rect x="589.36" y="352.96" width="11.47" height="11.64" fill="#7373FF"/>
<rect x="600.68" y="352.96" width="11.47" height="11.64" fill="#E0E0FF"/>
<rect x="612.01" y="352.96" width="11.47" height="11.64" fill="#ABABFF"/>
<rect x="623.33" y="352.96" width="11.47" height="11.64" fill="#FFA1A1"/>
<rect x="634.65" y="352.96" width="11.47" height="11.64" fill="#FFFCFC"/>
<rect x="645.98" y="352.96" width="11.47" height="11.64" fill="#EBEBFF"/>
<rect x="464.80" y="364.46" width="11.47" height="11.64" fill="#8C8CFF"/>
<rect x="476.12" y="364.46" width="11.47" height="11.64" fill="#4747FF"/>
<rect x="487.45" y="364.46" width="11.47" height="11.64" fill="#FFF2F2"/>
<rect x="498.77" y="364.46" width="11.47" height="11.64" fill="#FFF0F0"/>
<rect x="510.09" y="364.46" width="11.47" height="11.64" fill="#BFBFFF"/>
<rect x="521.42" y="364.46" width="11.47" height="11.64" fill="#FFBDBD"/>
<rect x="532.74" y="364.46" width="11.47" height="11.64" fill="#FF8585"/>
<rect x="544.06" y="364.46" width="11.47" height="11.64" fill="#FF0000"/>
<rect x="555.39" y="364.46" width="11.47" height="11.64" fill="#FF3B3B"/>
<rect x="566.71" y="364.46" width="11.47" height="11.64" fill="#FCFCFF"/>
<rect x="578.04" y="364.46" width="11.47" height="11.64" fill="#FFF0F0"/>
<rect x="589.36" y="364.46" width="11.47" height="11.64" fill="#A8A8FF"/>
<rect x="600.68" y="364.46" width="11.47" height="11.64" fill="#8A8AFF"/>
<rect x="612.01" y="364.46" width="11.47" height="11.64" fill="#FFF7F7"/>
<rect x="623.33" y="364.46" width="11.47" height="11.64" fill="#FF8A8A"/>
<rect x="634.65" y="364.46" width="11.47" height="11.64" fill="#FFE6E6"/>
<rect x="645.98" y="364.46" width="11.47" height="11.64" fill="#FCFCFF"/>
<rect x="464.80" y="375.95" width="11.47" height="11.64" fill="#7373FF"/>
<rect x="476.12" y="375.95" width="11.47" height="11.64" fill="#4040FF"/>
<rect x="487.45" y="375.95" width="11.47" height="11.64" fill="#FFD4D4"/>
<rect x="498.77" y="375.95" width="11.47" height="11.64" fill="#FFE3E3"/>
<rect x="510.09" y="375.95" width="11.47" height="11.64" fill="#BDBDFF"/>
<rect x="521.42" y="375.95" width="11.47" height="11.64" fill="#FF6E6E"/>
<rect x="532.74" y="375.95" width="11.47" height="11.64" fill="#FF8282"/>
<rect x="544.06" y="375.95" width="11.47" height="11.64" fill="#FF3B3B"/>
<rect x="555.39" y="375.95" width="11.47" height="11.64" fill="#FF0000"/>
<rect x="566.71" y="375.95" width="11.47" height="11.64" fill="#FFF5F5"/>
<rect x="578.04" y="375.95" width="11.47" height="11.64" fill="#FFADAD"/>
<rect x="589.36" y="375.95" width="11.47" height="11.64" fill="#ADADFF"/>
<rect x="600.68" y="375.95" width="11.47" height="11.64" fill="#BFBFFF"/>
<rect x="612.01" y="375.95" width="11.47" height="11.64" fill="#FFDEDE"/>
<rect x="623.33" y="375.95" width="11.47" height="11.64" fill="#FFBDBD"/>
<rect x="634.65" y="375.95" width="11.47" height="11.64" fill="#F2F2FF"/>
<rect x="645.98" y="375.95" width="11.47" height="11.64" fill="#FFDBDB"/>
<rect x="464.80" y="387.45" width="11.47" height="11.64" fill="#D6D6FF"/>
<rect x="476.12" y="387.45" width="11.47" height="11.64" fill="#A3A3FF"/>
<rect x="487.45" y="387.45" width="11.47" height="11.64" fill="#FFFAFA"/>
<rect x="498.77" y="387.45" width="11.47" height="11.64" fill="#FFDBDB"/>
<rect x="510.09" y="387.45" width="11.47" height="11.64" fill="#EDEDFF"/>
<rect x="521.42" y="387.45" width="11.47" height="11.64" fill="#FFEDED"/>
<rect x="532.74" y="387.45" width="11.47" height="11.64" fill="#FF8F8F"/>
<rect x="544.06" y="387.45" width="11.47" height="11.64" fill="#FCFCFF"/>
<rect x="555.39" y="387.45" width="11.47" height="11.64" fill="#FFF5F5"/>
<rect x="566.71" y="387.45" width="11.47" height="11.64" fill="#FF0000"/>
<rect x="578.04" y="387.45" width="11.47" height="11.64" fill="#FFD9D9"/>
<rect x="589.36" y="387.45" width="11.47" height="11.64" fill="#EBEBFF"/>
<rect x="600.68" y="387.45" width="11.47" height="11.64" fill="#C9C9FF"/>
<rect x="612.01" y="387.45" width="11.47" height="11.64" fill="#ABABFF"/>
<rect x="623.33" y="387.45" width="11.47" height="11.64" fill="#9999FF"/>
<rect x="634.65" y="387.45" width="11.47" height="11.64" fill="#FFF0F0"/>
<rect x="645.98" y="387.45" width="11.47" height="11.64" fill="#D1D1FF"/>
<rect x="464.80" y="398.94" width="11.47" height="11.64" fill="#D4D4FF"/>
<rect x="476.12" y="398.94" width="11.47" height="11.64" fill="#D6D6FF"/>
<rect x="487.45" y="398.94" width="11.47" height="11.64" fill="#FFC7C7"/>
<rect x="498.77" y="398.94" width="11.47" height="11.64" fill="#FF9191"/>
<rect x="510.09" y="398.94" width="11.47" height="11.64" fill="#FFEBEB"/>
<rect x="521.42" y="398.94" width="11.47" height="11.64" fill="#FFC2C2"/>
<rect x="532.74" y="398.94" width="11.47" height="11.64" fill="#FFEBEB"/>
<rect x="544.06" y="398.94" width="11.47" height="11.64" fill="#FFF0F0"/>
<rect x="555.39" y="398.94" width="11.47" height="11.64" fill="#FFADAD"/>
<rect x="566.71" y="398.94" width="11.47" height="11.64" fill="#FFD9D9"/>
<rect x="578.04" y="398.94" width="11.47" height="11.64" fill="#FF0000"/>
<rect x="589.36" y="398.94" width="11.47" height="11.64" fill="#FFC7C7"/>
<rect x="600.68" y="398.94" width="11.47" height="11.64" fill="#FCFCFF"/>
<rect x="612.01" y="398.94" width="11.47" height="11.64" fill="#FFEDED"/>
<rect x="623.33" y="398.94" width="11.47" height="11.64" fill="#C7C7FF"/>
<rect x="634.65" y="398.94" width="11.47" height="11.64" fill="#8585FF"/>
<rect x="645.98" y="398.94" width="11.47" height="11.64" fill="#B8B8FF"/>
<rect x="464.80" y="410.44" width="11.47" height="11.64" fill="#FAFAFF"/>
<rect x="476.12" y="410.44" width="11.47" height="11.64" fill="#FFA6A6"/>
<rect x="487.45" y="410.44" width="11.47" height="11.64" fill="#A1A1FF"/>
<rect x="498.77" y="410.44" width="11.47" height="11.64" fill="#FAFAFF"/>
<rect x="510.09" y="410.44" width="11.47" height="11.64" fill="#E0E0FF"/>
<rect x="521.42" y="410.44" width="11.47" height="11.64" fill="#D9D9FF"/>
<rect x="532.74" y="410.44" width="11.47" height="11.64" fill="#7373FF"/>
<rect x="544.06" y="410.44" width="11.47" height="11.64" fill="#A8A8FF"/>
<rect x="555.39" y="410.44" width="11.47" height="11.64" fill="#ADADFF"/>
<rect x="566.71" y="410.44" width="11.47" height="11.64" fill="#EBEBFF"/>
<rect x="578.04" y="410.44" width="11.47" height="11.64" fill="#FFC7C7"/>
<rect x="589.36" y="410.44" width="11.47" height="11.64" fill="#FF0000"/>
<rect x="600.68" y="410.44" width="11.47" height="11.64" fill="#FFA3A3"/>
<rect x="612.01" y="410.44" width="11.47" height="11.64" fill="#FFB0B0"/>
<rect x="623.33" y="410.44" width="11.47" height="11.64" fill="#B2B2FF"/>
<rect x="634.65" y="410.44" width="11.47" height="11.64" fill="#FFD9D9"/>
<rect x="645.98" y="410.44" width="11.47" height="11.64" fill="#DEDEFF"/>
<rect x="464.80" y="421.93" width="11.47" height="11.64" fill="#F7F7FF"/>
<rect x="476.12" y="421.93" width="11.47" height="11.64" fill="#FFC7C7"/>
<rect x="487.45" y="421.93" width="11.47" height="11.64" fill="#EBEBFF"/>
<rect x="498.77" y="421.93" width="11.47" height="11.64" fill="#D1D1FF"/>
<rect x="510.09" y="421.93" width="11.47" height="11.64" fill="#D9D9FF"/>
<rect x="521.42" y="421.93" width="11.47" height="11.64" fill="#DBDBFF"/>
<rect x="532.74" y="421.93" width="11.47" height="11.64" fill="#E0E0FF"/>
<rect x="544.06" y="421.93" width="11.47" height="11.64" fill="#8A8AFF"/>
<rect x="555.39" y="421.93" width="11.47" height="11.64" fill="#BFBFFF"/>
<rect x="566.71" y="421.93" width="11.47" height="11.64" fill="#C9C9FF"/>
<rect x="578.04" y="421.93" width="11.47" height="11.64" fill="#FCFCFF"/>
<rect x="589.36" y="421.93" width="11.47" height="11.64" fill="#FFA3A3"/>
<rect x="600.68" y="421.93" width="11.47" height="11.64" fill="#FF0000"/>
<rect x="612.01" y="421.93" width="11.47" height="11.64" fill="#FF7D7D"/>
<rect x="623.33" y="421.93" width="11.47" height="11.64" fill="#CCCCFF"/>
<rect x="634.65" y="421.93" width="11.47" height="11.64" fill="#FFFAFA"/>
<rect x="645.98" y="421.93" width="11.47" height="11.64" fill="#D6D6FF"/>
<rect x="464.80" y="433.42" width="11.47" height="11.64" fill="#D6D6FF"/>
<rect x="476.12" y="433.42" width="11.47" height="11.64" fill="#FFE8E8"/>
<rect x="487.45" y="433.42" width="11.47" height="11.64" fill="#F2F2FF"/>
<rect x="498.77" y="433.42" width="11.47" height="11.64" fill="#FCFCFF"/>
<rect x="510.09" y="433.42" width="11.47" height="11.64" fill="#EBEBFF"/>
<rect x="521.42" y="433.42" width="11.47" height="11.64" fill="#FFF5F5"/>
<rect x="532.74" y="433.42" width="11.47" height="11.64" fill="#ABABFF"/>
<rect x="544.06" y="433.42" width="11.47" height="11.64" fill="#FFF7F7"/>
<rect x="555.39" y="433.42" width="11.47" height="11.64" fill="#FFDEDE"/>
<rect x="566.71" y="433.42" width="11.47" height="11.64" fill="#ABABFF"/>
<rect x="578.04" y="433.42" width="11.47" height="11.64" fill="#FFEDED"/>
<rect x="589.36" y="433.42" width="11.47" height="11.64" fill="#FFB0B0"/>
<rect x="600.68" y="433.42" width="11.47" height="11.64" fill="#FF7D7D"/>
<rect x="612.01" y="433.42" width="11.47" height="11.64" fill="#FF0000"/>
<rect x="623.33" y="433.42" width="11.47" height="11.64" fill="#C7C7FF"/>
<rect x="634.65" y="433.42" width="11.47" height="11.64" fill="#FFDEDE"/>
<rect x="645.98" y="433.42" width="11.47" height="11.64" fill="#EBEBFF"/>
<rect x="464.80" y="444.92" width="11.47" height="11.64" fill="#DBDBFF"/>
<rect x="476.12" y="444.92" width="11.47" height="11.64" fill="#ABABFF"/>
<rect x="487.45" y="444.92" width="11.47" height="11.64" fill="#D9D9FF"/>
<rect x="498.77" y="444.92" width="11.47" height="11.64" fill="#9696FF"/>
<rect x="510.09" y="444.92" width="11.47" height="11.64" fill="#BFBFFF"/>
<rect x="521.42" y="444.92" width="11.47" height="11.64" fill="#FFFAFA"/>
<rect x="532.74" y="444.92" width="11.47" height="11.64" fill="#FFA1A1"/>
<rect x="544.06" y="444.92" width="11.47" height="11.64" fill="#FF8A8A"/>
<rect x="555.39" y="444.92" width="11.47" height="11.64" fill="#FFBDBD"/>
<rect x="566.71" y="444.92" width="11.47" height="11.64" fill="#9999FF"/>
<rect x="578.04" y="444.92" width="11.47" height="11.64" fill="#C7C7FF"/>
<rect x="589.36" y="444.92" width="11.47" height="11.64" fill="#B2B2FF"/>
<rect x="600.68" y="444.92" width="11.47" height="11.64" fill="#CCCCFF"/>
<rect x="612.01" y="444.92" width="11.47" height="11.64" fill="#C7C7FF"/>
<rect x="623.33" y="444.92" width="11.47" height="11.64" fill="#FF0000"/>
<rect x="634.65" y="444.92" width="11.47" height="11.64" fill="#FFE8E8"/>
<rect x="645.98" y="444.92" width="11.47" height="11.64" fill="#FFBFBF"/>
<rect x="464.80" y="456.41" width="11.47" height="11.64" fill="#9494FF"/>
<rect x="476.12" y="456.41" width="11.47" height="11.64" fill="#D6D6FF"/>
<rect x="487.45" y="456.41" width="11.47" height="11.64" fill="#6969FF"/>
<rect x="498.77" y="456.41" width="11.47" height="11.64" fill="#ADADFF"/>
<rect x="510.09" y="456.41" width="11.47" height="11.64" fill="#A6A6FF"/>
<rect x="521.42" y="456.41" width="11.47" height="11.64" fill="#FFF7F7"/>
<rect x="532.74" y="456.41" width="11.47" height="11.64" fill="#FFFCFC"/>
<rect x="544.06" y="456.41" width="11.47" height="11.64" fill="#FFE6E6"/>
<rect x="555.39" y="456.41" width="11.47" height="11.64" fill="#F2F2FF"/>
<rect x="566.71" y="456.41" width="11.47" height="11.64" fill="#FFF0F0"/>
<rect x="578.04" y="456.41" width="11.47" height="11.64" fill="#8585FF"/>
<rect x="589.36" y="456.41" width="11.47" height="11.64" fill="#FFD9D9"/>
<rect x="600.68" y="456.41" width="11.47" height="11.64" fill="#FFFAFA"/>
<rect x="612.01" y="456.41" width="11.47" height="11.64" fill="#FFDEDE"/>
<rect x="623.33" y="456.41" width="11.47" height="11.64" fill="#FFE8E8"/>
<rect x="634.65" y="456.41" width="11.47" height="11.64" fill="#FF0000"/>
<rect x="645.98" y="456.41" width="11.47" height="11.64" fill="#FFA8A8"/>
<rect x="464.80" y="467.91" width="11.47" height="11.64" fill="#D1D1FF"/>
<rect x="476.12" y="467.91" width="11.47" height="11.64" fill="#FFEDED"/>
<rect x="487.45" y="467.91" width="11.47" height="11.64" fill="#E3E3FF"/>
<rect x="498.77" y="467.91" width="11.47" height="11.64" fill="#E8E8FF"/>
<rect x="510.09" y="467.91" width="11.47" height="11.64" fill="#F2F2FF"/>
<rect x="521.42" y="467.91" width="11.47" height="11.64" fill="#EDEDFF"/>
<rect x="532.74" y="467.91" width="11.47" height="11.64" fill="#EBEBFF"/>
<rect x="544.06" y="467.91" width="11.47" height="11.64" fill="#FCFCFF"/>
<rect x="555.39" y="467.91" width="11.47" height="11.64" fill="#FFDBDB"/>
<rect x="566.71" y="467.91" width="11.47" height="11.64" fill="#D1D1FF"/>
<rect x="578.04" y="467.91" width="11.47" height="11.64" fill="#B8B8FF"/>
<rect x="589.36" y="467.91" width="11.47" height="11.64" fill="#DEDEFF"/>
<rect x="600.68" y="467.91" width="11.47" height="11.64" fill="#D6D6FF"/>
<rect x="612.01" y="467.91" width="11.47" height="11.64" fill="#EBEBFF"/>
<rect x="623.33" y="467.91" width="11.47" height="11.64" fill="#FFBFBF"/>
<rect x="634.65" y="467.91" width="11.47" height="11.64" fill="#FFA8A8"/>
<rect x="645.98" y="467.91" width="11.47" height="11.64" fill="#FF0000"/>
<text transform="translate(470.46,290.75) scale(0.300,0.280)" font-size="10" font-weight="bold" fill="#000" text-anchor="middle" >1</text>
<text transform="translate(481.79,290.75) scale(0.300,0.280)" font-size="10" font-weight="bold" fill="#000" text-anchor="middle" >0.53</text>
<text transform="translate(493.11,290.75) scale(0.300,0.280)" font-size="10" font-weight="bold" fill="#000" text-anchor="middle" >0.43</text>
<text transform="translate(504.43,290.75) scale(0.300,0.280)" font-size="10" font-weight="bold" fill="#000" text-anchor="middle" >0.03</text>
<text transform="translate(515.76,290.75) scale(0.300,0.280)" font-size="10" font-weight="bold" fill="#000" text-anchor="middle" >0.46</text>
<text transform="translate(527.08,290.75) scale(0.300,0.280)" font-size="10" font-weight="bold" fill="#000" text-anchor="middle" >-0.45</text>
<text transform="translate(538.40,290.75) scale(0.300,0.280)" font-size="10" font-weight="bold" fill="#000" text-anchor="middle" >-0.35</text>
<text transform="translate(549.73,290.75) scale(0.300,0.280)" font-size="10" font-weight="bold" fill="#000" text-anchor="middle" >-0.45</text>
<text transform="translate(561.05,290.75) scale(0.300,0.280)" font-size="10" font-weight="bold" fill="#000" text-anchor="middle" >-0.55</text>
<text transform="translate(572.37,290.75) scale(0.300,0.280)" font-size="10" font-weight="bold" fill="#000" text-anchor="middle" >-0.16</text>
<text transform="translate(583.70,290.75) scale(0.300,0.280)" font-size="10" font-weight="bold" fill="#000" text-anchor="middle" >-0.17</text>
<text transform="translate(595.02,290.75) scale(0.300,0.280)" font-size="10" font-weight="bold" fill="#000" text-anchor="middle" >-0.02</text>
<text transform="translate(606.34,290.75) scale(0.300,0.280)" font-size="10" font-weight="bold" fill="#000" text-anchor="middle" >-0.03</text>
<text transform="translate(617.67,290.75) scale(0.300,0.280)" font-size="10" font-weight="bold" fill="#000" text-anchor="middle" >-0.16</text>
<text transform="translate(628.99,290.75) scale(0.300,0.280)" font-size="10" font-weight="bold" fill="#000" text-anchor="middle" >-0.14</text>
<text transform="translate(640.31,290.75) scale(0.300,0.280)" font-size="10" font-weight="bold" fill="#000" text-anchor="middle" >-0.42</text>
<text transform="translate(651.64,290.75) scale(0.300,0.280)" font-size="10" font-weight="bold" fill="#000" text-anchor="middle" >-0.18</text>
<text transform="translate(470.46,302.24) scale(0.300,0.280)" font-size="10" font-weight="bold" fill="#000" text-anchor="middle" >0.53</text>
<text transform="translate(481.79,302.24) scale(0.300,0.280)" font-size="10" font-weight="bold" fill="#000" text-anchor="middle" >1</text>
<text transform="translate(493.11,302.24) scale(0.300,0.280)" font-size="10" font-weight="bold" fill="#000" text-anchor="middle" >0.01</text>
<text transform="translate(504.43,302.24) scale(0.300,0.280)" font-size="10" font-weight="bold" fill="#000" text-anchor="middle" >-0.01</text>
<text transform="translate(515.76,302.24) scale(0.300,0.280)" font-size="10" font-weight="bold" fill="#000" text-anchor="middle" >0.2</text>
<text transform="translate(527.08,302.24) scale(0.300,0.280)" font-size="10" font-weight="bold" fill="#000" text-anchor="middle" >-0.6</text>
<text transform="translate(538.40,302.24) scale(0.300,0.280)" font-size="10" font-weight="bold" fill="#000" text-anchor="middle" >-0.82</text>
<text transform="translate(549.73,302.24) scale(0.300,0.280)" font-size="10" font-weight="bold" fill="#000" text-anchor="middle" >-0.72</text>
<text transform="translate(561.05,302.24) scale(0.300,0.280)" font-size="10" font-weight="bold" fill="#000" text-anchor="middle" >-0.75</text>
<text transform="translate(572.37,302.24) scale(0.300,0.280)" font-size="10" font-weight="bold" fill="#000" text-anchor="middle" >-0.36</text>
<text transform="translate(583.70,302.24) scale(0.300,0.280)" font-size="10" font-weight="bold" fill="#000" text-anchor="middle" >-0.16</text>
<text transform="translate(595.02,302.24) scale(0.300,0.280)" font-size="10" font-weight="bold" fill="#000" text-anchor="middle" >0.35</text>
<text transform="translate(606.34,302.24) scale(0.300,0.280)" font-size="10" font-weight="bold" fill="#000" text-anchor="middle" >0.22</text>
<text transform="translate(617.67,302.24) scale(0.300,0.280)" font-size="10" font-weight="bold" fill="#000" text-anchor="middle" >0.09</text>
<text transform="translate(628.99,302.24) scale(0.300,0.280)" font-size="10" font-weight="bold" fill="#000" text-anchor="middle" >-0.33</text>
<text transform="translate(640.31,302.24) scale(0.300,0.280)" font-size="10" font-weight="bold" fill="#000" text-anchor="middle" >-0.16</text>
<text transform="translate(651.64,302.24) scale(0.300,0.280)" font-size="10" font-weight="bold" fill="#000" text-anchor="middle" >0.07</text>
<text transform="translate(470.46,313.74) scale(0.300,0.280)" font-size="10" font-weight="bold" fill="#000" text-anchor="middle" >0.43</text>
<text transform="translate(481.79,313.74) scale(0.300,0.280)" font-size="10" font-weight="bold" fill="#000" text-anchor="middle" >0.01</text>
<text transform="translate(493.11,313.74) scale(0.300,0.280)" font-size="10" font-weight="bold" fill="#000" text-anchor="middle" >1</text>
<text transform="translate(504.43,313.74) scale(0.300,0.280)" font-size="10" font-weight="bold" fill="#000" text-anchor="middle" >0.23</text>
<text transform="translate(515.76,313.74) scale(0.300,0.280)" font-size="10" font-weight="bold" fill="#000" text-anchor="middle" >0.35</text>
<text transform="translate(527.08,313.74) scale(0.300,0.280)" font-size="10" font-weight="bold" fill="#000" text-anchor="middle" >-0.14</text>
<text transform="translate(538.40,313.74) scale(0.300,0.280)" font-size="10" font-weight="bold" fill="#000" text-anchor="middle" >0.18</text>
<text transform="translate(549.73,313.74) scale(0.300,0.280)" font-size="10" font-weight="bold" fill="#000" text-anchor="middle" >0.05</text>
<text transform="translate(561.05,313.74) scale(0.300,0.280)" font-size="10" font-weight="bold" fill="#000" text-anchor="middle" >0.17</text>
<text transform="translate(572.37,313.74) scale(0.300,0.280)" font-size="10" font-weight="bold" fill="#000" text-anchor="middle" >0.02</text>
<text transform="translate(583.70,313.74) scale(0.300,0.280)" font-size="10" font-weight="bold" fill="#000" text-anchor="middle" >0.22</text>
<text transform="translate(595.02,313.74) scale(0.300,0.280)" font-size="10" font-weight="bold" fill="#000" text-anchor="middle" >-0.37</text>
<text transform="translate(606.34,313.74) scale(0.300,0.280)" font-size="10" font-weight="bold" fill="#000" text-anchor="middle" >-0.08</text>
<text transform="translate(617.67,313.74) scale(0.300,0.280)" font-size="10" font-weight="bold" fill="#000" text-anchor="middle" >-0.05</text>
<text transform="translate(628.99,313.74) scale(0.300,0.280)" font-size="10" font-weight="bold" fill="#000" text-anchor="middle" >-0.15</text>
<text transform="translate(640.31,313.74) scale(0.300,0.280)" font-size="10" font-weight="bold" fill="#000" text-anchor="middle" >-0.59</text>
<text transform="translate(651.64,313.74) scale(0.300,0.280)" font-size="10" font-weight="bold" fill="#000" text-anchor="middle" >-0.11</text>
<text transform="translate(470.46,325.23) scale(0.300,0.280)" font-size="10" font-weight="bold" fill="#000" text-anchor="middle" >0.03</text>
<text transform="translate(481.79,325.23) scale(0.300,0.280)" font-size="10" font-weight="bold" fill="#000" text-anchor="middle" >-0.01</text>
<text transform="translate(493.11,325.23) scale(0.300,0.280)" font-size="10" font-weight="bold" fill="#000" text-anchor="middle" >0.23</text>
<text transform="translate(504.43,325.23) scale(0.300,0.280)" font-size="10" font-weight="bold" fill="#000" text-anchor="middle" >1</text>
<text transform="translate(515.76,325.23) scale(0.300,0.280)" font-size="10" font-weight="bold" fill="#000" text-anchor="middle" >0.48</text>
<text transform="translate(527.08,325.23) scale(0.300,0.280)" font-size="10" font-weight="bold" fill="#000" text-anchor="middle" >0.06</text>
<text transform="translate(538.40,325.23) scale(0.300,0.280)" font-size="10" font-weight="bold" fill="#000" text-anchor="middle" >-0.07</text>
<text transform="translate(549.73,325.23) scale(0.300,0.280)" font-size="10" font-weight="bold" fill="#000" text-anchor="middle" >0.06</text>
<text transform="translate(561.05,325.23) scale(0.300,0.280)" font-size="10" font-weight="bold" fill="#000" text-anchor="middle" >0.11</text>
<text transform="translate(572.37,325.23) scale(0.300,0.280)" font-size="10" font-weight="bold" fill="#000" text-anchor="middle" >0.14</text>
<text transform="translate(583.70,325.23) scale(0.300,0.280)" font-size="10" font-weight="bold" fill="#000" text-anchor="middle" >0.43</text>
<text transform="translate(595.02,325.23) scale(0.300,0.280)" font-size="10" font-weight="bold" fill="#000" text-anchor="middle" >-0.02</text>
<text transform="translate(606.34,325.23) scale(0.300,0.280)" font-size="10" font-weight="bold" fill="#000" text-anchor="middle" >-0.18</text>
<text transform="translate(617.67,325.23) scale(0.300,0.280)" font-size="10" font-weight="bold" fill="#000" text-anchor="middle" >-0.01</text>
<text transform="translate(628.99,325.23) scale(0.300,0.280)" font-size="10" font-weight="bold" fill="#000" text-anchor="middle" >-0.41</text>
<text transform="translate(640.31,325.23) scale(0.300,0.280)" font-size="10" font-weight="bold" fill="#000" text-anchor="middle" >-0.32</text>
<text transform="translate(651.64,325.23) scale(0.300,0.280)" font-size="10" font-weight="bold" fill="#000" text-anchor="middle" >-0.09</text>
<text transform="translate(470.46,336.72) scale(0.300,0.280)" font-size="10" font-weight="bold" fill="#000" text-anchor="middle" >0.46</text>
<text transform="translate(481.79,336.72) scale(0.300,0.280)" font-size="10" font-weight="bold" fill="#000" text-anchor="middle" >0.2</text>
<text transform="translate(493.11,336.72) scale(0.300,0.280)" font-size="10" font-weight="bold" fill="#000" text-anchor="middle" >0.35</text>
<text transform="translate(504.43,336.72) scale(0.300,0.280)" font-size="10" font-weight="bold" fill="#000" text-anchor="middle" >0.48</text>
<text transform="translate(515.76,336.72) scale(0.300,0.280)" font-size="10" font-weight="bold" fill="#000" text-anchor="middle" >1</text>
<text transform="translate(527.08,336.72) scale(0.300,0.280)" font-size="10" font-weight="bold" fill="#000" text-anchor="middle" >0.04</text>
<text transform="translate(538.40,336.72) scale(0.300,0.280)" font-size="10" font-weight="bold" fill="#000" text-anchor="middle" >-0.12</text>
<text transform="translate(549.73,336.72) scale(0.300,0.280)" font-size="10" font-weight="bold" fill="#000" text-anchor="middle" >-0.25</text>
<text transform="translate(561.05,336.72) scale(0.300,0.280)" font-size="10" font-weight="bold" fill="#000" text-anchor="middle" >-0.26</text>
<text transform="translate(572.37,336.72) scale(0.300,0.280)" font-size="10" font-weight="bold" fill="#000" text-anchor="middle" >-0.07</text>
<text transform="translate(583.70,336.72) scale(0.300,0.280)" font-size="10" font-weight="bold" fill="#000" text-anchor="middle" >0.08</text>
<text transform="translate(595.02,336.72) scale(0.300,0.280)" font-size="10" font-weight="bold" fill="#000" text-anchor="middle" >-0.12</text>
<text transform="translate(606.34,336.72) scale(0.300,0.280)" font-size="10" font-weight="bold" fill="#000" text-anchor="middle" >-0.15</text>
<text transform="translate(617.67,336.72) scale(0.300,0.280)" font-size="10" font-weight="bold" fill="#000" text-anchor="middle" >-0.08</text>
<text transform="translate(628.99,336.72) scale(0.300,0.280)" font-size="10" font-weight="bold" fill="#000" text-anchor="middle" >-0.25</text>
<text transform="translate(640.31,336.72) scale(0.300,0.280)" font-size="10" font-weight="bold" fill="#000" text-anchor="middle" >-0.35</text>
<text transform="translate(651.64,336.72) scale(0.300,0.280)" font-size="10" font-weight="bold" fill="#000" text-anchor="middle" >-0.05</text>
<text transform="translate(470.46,348.22) scale(0.300,0.280)" font-size="10" font-weight="bold" fill="#000" text-anchor="middle" >-0.45</text>
<text transform="translate(481.79,348.22) scale(0.300,0.280)" font-size="10" font-weight="bold" fill="#000" text-anchor="middle" >-0.6</text>
<text transform="translate(493.11,348.22) scale(0.300,0.280)" font-size="10" font-weight="bold" fill="#000" text-anchor="middle" >-0.14</text>
<text transform="translate(504.43,348.22) scale(0.300,0.280)" font-size="10" font-weight="bold" fill="#000" text-anchor="middle" >0.06</text>
<text transform="translate(515.76,348.22) scale(0.300,0.280)" font-size="10" font-weight="bold" fill="#000" text-anchor="middle" >0.04</text>
<text transform="translate(527.08,348.22) scale(0.300,0.280)" font-size="10" font-weight="bold" fill="#000" text-anchor="middle" >1</text>
<text transform="translate(538.40,348.22) scale(0.300,0.280)" font-size="10" font-weight="bold" fill="#000" text-anchor="middle" >0.37</text>
<text transform="translate(549.73,348.22) scale(0.300,0.280)" font-size="10" font-weight="bold" fill="#000" text-anchor="middle" >0.26</text>
<text transform="translate(561.05,348.22) scale(0.300,0.280)" font-size="10" font-weight="bold" fill="#000" text-anchor="middle" >0.57</text>
<text transform="translate(572.37,348.22) scale(0.300,0.280)" font-size="10" font-weight="bold" fill="#000" text-anchor="middle" >0.07</text>
<text transform="translate(583.70,348.22) scale(0.300,0.280)" font-size="10" font-weight="bold" fill="#000" text-anchor="middle" >0.24</text>
<text transform="translate(595.02,348.22) scale(0.300,0.280)" font-size="10" font-weight="bold" fill="#000" text-anchor="middle" >-0.15</text>
<text transform="translate(606.34,348.22) scale(0.300,0.280)" font-size="10" font-weight="bold" fill="#000" text-anchor="middle" >-0.14</text>
<text transform="translate(617.67,348.22) scale(0.300,0.280)" font-size="10" font-weight="bold" fill="#000" text-anchor="middle" >0.04</text>
<text transform="translate(628.99,348.22) scale(0.300,0.280)" font-size="10" font-weight="bold" fill="#000" text-anchor="middle" >0.02</text>
<text transform="translate(640.31,348.22) scale(0.300,0.280)" font-size="10" font-weight="bold" fill="#000" text-anchor="middle" >0.03</text>
<text transform="translate(651.64,348.22) scale(0.300,0.280)" font-size="10" font-weight="bold" fill="#000" text-anchor="middle" >-0.07</text>
<text transform="translate(470.46,359.71) scale(0.300,0.280)" font-size="10" font-weight="bold" fill="#000" text-anchor="middle" >-0.35</text>
<text transform="translate(481.79,359.71) scale(0.300,0.280)" font-size="10" font-weight="bold" fill="#000" text-anchor="middle" >-0.82</text>
<text transform="translate(493.11,359.71) scale(0.300,0.280)" font-size="10" font-weight="bold" fill="#000" text-anchor="middle" >0.18</text>
<text transform="translate(504.43,359.71) scale(0.300,0.280)" font-size="10" font-weight="bold" fill="#000" text-anchor="middle" >-0.07</text>
<text transform="translate(515.76,359.71) scale(0.300,0.280)" font-size="10" font-weight="bold" fill="#000" text-anchor="middle" >-0.12</text>
<text transform="translate(527.08,359.71) scale(0.300,0.280)" font-size="10" font-weight="bold" fill="#000" text-anchor="middle" >0.37</text>
<text transform="translate(538.40,359.71) scale(0.300,0.280)" font-size="10" font-weight="bold" fill="#000" text-anchor="middle" >1</text>
<text transform="translate(549.73,359.71) scale(0.300,0.280)" font-size="10" font-weight="bold" fill="#000" text-anchor="middle" >0.48</text>
<text transform="translate(561.05,359.71) scale(0.300,0.280)" font-size="10" font-weight="bold" fill="#000" text-anchor="middle" >0.49</text>
<text transform="translate(572.37,359.71) scale(0.300,0.280)" font-size="10" font-weight="bold" fill="#000" text-anchor="middle" >0.44</text>
<text transform="translate(583.70,359.71) scale(0.300,0.280)" font-size="10" font-weight="bold" fill="#000" text-anchor="middle" >0.08</text>
<text transform="translate(595.02,359.71) scale(0.300,0.280)" font-size="10" font-weight="bold" fill="#000" text-anchor="middle" >-0.55</text>
<text transform="translate(606.34,359.71) scale(0.300,0.280)" font-size="10" font-weight="bold" fill="#000" text-anchor="middle" >-0.12</text>
<text transform="translate(617.67,359.71) scale(0.300,0.280)" font-size="10" font-weight="bold" fill="#000" text-anchor="middle" >-0.33</text>
<text transform="translate(628.99,359.71) scale(0.300,0.280)" font-size="10" font-weight="bold" fill="#000" text-anchor="middle" >0.37</text>
<text transform="translate(640.31,359.71) scale(0.300,0.280)" font-size="10" font-weight="bold" fill="#000" text-anchor="middle" >0.01</text>
<text transform="translate(651.64,359.71) scale(0.300,0.280)" font-size="10" font-weight="bold" fill="#000" text-anchor="middle" >-0.08</text>
<text transform="translate(470.46,371.21) scale(0.300,0.280)" font-size="10" font-weight="bold" fill="#000" text-anchor="middle" >-0.45</text>
<text transform="translate(481.79,371.21) scale(0.300,0.280)" font-size="10" font-weight="bold" fill="#000" text-anchor="middle" >-0.72</text>
<text transform="translate(493.11,371.21) scale(0.300,0.280)" font-size="10" font-weight="bold" fill="#000" text-anchor="middle" >0.05</text>
<text transform="translate(504.43,371.21) scale(0.300,0.280)" font-size="10" font-weight="bold" fill="#000" text-anchor="middle" >0.06</text>
<text transform="translate(515.76,371.21) scale(0.300,0.280)" font-size="10" font-weight="bold" fill="#000" text-anchor="middle" >-0.25</text>
<text transform="translate(527.08,371.21) scale(0.300,0.280)" font-size="10" font-weight="bold" fill="#000" text-anchor="middle" >0.26</text>
<text transform="translate(538.40,371.21) scale(0.300,0.280)" font-size="10" font-weight="bold" fill="#000" text-anchor="middle" >0.48</text>
<text transform="translate(549.73,371.21) scale(0.300,0.280)" font-size="10" font-weight="bold" fill="#000" text-anchor="middle" >1</text>
<text transform="translate(561.05,371.21) scale(0.300,0.280)" font-size="10" font-weight="bold" fill="#000" text-anchor="middle" >0.77</text>
<text transform="translate(572.37,371.21) scale(0.300,0.280)" font-size="10" font-weight="bold" fill="#000" text-anchor="middle" >-0.01</text>
<text transform="translate(583.70,371.21) scale(0.300,0.280)" font-size="10" font-weight="bold" fill="#000" text-anchor="middle" >0.06</text>
<text transform="translate(595.02,371.21) scale(0.300,0.280)" font-size="10" font-weight="bold" fill="#000" text-anchor="middle" >-0.34</text>
<text transform="translate(606.34,371.21) scale(0.300,0.280)" font-size="10" font-weight="bold" fill="#000" text-anchor="middle" >-0.46</text>
<text transform="translate(617.67,371.21) scale(0.300,0.280)" font-size="10" font-weight="bold" fill="#000" text-anchor="middle" >0.03</text>
<text transform="translate(628.99,371.21) scale(0.300,0.280)" font-size="10" font-weight="bold" fill="#000" text-anchor="middle" >0.46</text>
<text transform="translate(640.31,371.21) scale(0.300,0.280)" font-size="10" font-weight="bold" fill="#000" text-anchor="middle" >0.1</text>
<text transform="translate(651.64,371.21) scale(0.300,0.280)" font-size="10" font-weight="bold" fill="#000" text-anchor="middle" >-0.01</text>
<text transform="translate(470.46,382.70) scale(0.300,0.280)" font-size="10" font-weight="bold" fill="#000" text-anchor="middle" >-0.55</text>
<text transform="translate(481.79,382.70) scale(0.300,0.280)" font-size="10" font-weight="bold" fill="#000" text-anchor="middle" >-0.75</text>
<text transform="translate(493.11,382.70) scale(0.300,0.280)" font-size="10" font-weight="bold" fill="#000" text-anchor="middle" >0.17</text>
<text transform="translate(504.43,382.70) scale(0.300,0.280)" font-size="10" font-weight="bold" fill="#000" text-anchor="middle" >0.11</text>
<text transform="translate(515.76,382.70) scale(0.300,0.280)" font-size="10" font-weight="bold" fill="#000" text-anchor="middle" >-0.26</text>
<text transform="translate(527.08,382.70) scale(0.300,0.280)" font-size="10" font-weight="bold" fill="#000" text-anchor="middle" >0.57</text>
<text transform="translate(538.40,382.70) scale(0.300,0.280)" font-size="10" font-weight="bold" fill="#000" text-anchor="middle" >0.49</text>
<text transform="translate(549.73,382.70) scale(0.300,0.280)" font-size="10" font-weight="bold" fill="#000" text-anchor="middle" >0.77</text>
<text transform="translate(561.05,382.70) scale(0.300,0.280)" font-size="10" font-weight="bold" fill="#000" text-anchor="middle" >1</text>
<text transform="translate(572.37,382.70) scale(0.300,0.280)" font-size="10" font-weight="bold" fill="#000" text-anchor="middle" >0.04</text>
<text transform="translate(583.70,382.70) scale(0.300,0.280)" font-size="10" font-weight="bold" fill="#000" text-anchor="middle" >0.32</text>
<text transform="translate(595.02,382.70) scale(0.300,0.280)" font-size="10" font-weight="bold" fill="#000" text-anchor="middle" >-0.32</text>
<text transform="translate(606.34,382.70) scale(0.300,0.280)" font-size="10" font-weight="bold" fill="#000" text-anchor="middle" >-0.25</text>
<text transform="translate(617.67,382.70) scale(0.300,0.280)" font-size="10" font-weight="bold" fill="#000" text-anchor="middle" >0.13</text>
<text transform="translate(628.99,382.70) scale(0.300,0.280)" font-size="10" font-weight="bold" fill="#000" text-anchor="middle" >0.26</text>
<text transform="translate(640.31,382.70) scale(0.300,0.280)" font-size="10" font-weight="bold" fill="#000" text-anchor="middle" >-0.05</text>
<text transform="translate(651.64,382.70) scale(0.300,0.280)" font-size="10" font-weight="bold" fill="#000" text-anchor="middle" >0.14</text>
<text transform="translate(470.46,394.19) scale(0.300,0.280)" font-size="10" font-weight="bold" fill="#000" text-anchor="middle" >-0.16</text>
<text transform="translate(481.79,394.19) scale(0.300,0.280)" font-size="10" font-weight="bold" fill="#000" text-anchor="middle" >-0.36</text>
<text transform="translate(493.11,394.19) scale(0.300,0.280)" font-size="10" font-weight="bold" fill="#000" text-anchor="middle" >0.02</text>
<text transform="translate(504.43,394.19) scale(0.300,0.280)" font-size="10" font-weight="bold" fill="#000" text-anchor="middle" >0.14</text>
<text transform="translate(515.76,394.19) scale(0.300,0.280)" font-size="10" font-weight="bold" fill="#000" text-anchor="middle" >-0.07</text>
<text transform="translate(527.08,394.19) scale(0.300,0.280)" font-size="10" font-weight="bold" fill="#000" text-anchor="middle" >0.07</text>
<text transform="translate(538.40,394.19) scale(0.300,0.280)" font-size="10" font-weight="bold" fill="#000" text-anchor="middle" >0.44</text>
<text transform="translate(549.73,394.19) scale(0.300,0.280)" font-size="10" font-weight="bold" fill="#000" text-anchor="middle" >-0.01</text>
<text transform="translate(561.05,394.19) scale(0.300,0.280)" font-size="10" font-weight="bold" fill="#000" text-anchor="middle" >0.04</text>
<text transform="translate(572.37,394.19) scale(0.300,0.280)" font-size="10" font-weight="bold" fill="#000" text-anchor="middle" >1</text>
<text transform="translate(583.70,394.19) scale(0.300,0.280)" font-size="10" font-weight="bold" fill="#000" text-anchor="middle" >0.15</text>
<text transform="translate(595.02,394.19) scale(0.300,0.280)" font-size="10" font-weight="bold" fill="#000" text-anchor="middle" >-0.08</text>
<text transform="translate(606.34,394.19) scale(0.300,0.280)" font-size="10" font-weight="bold" fill="#000" text-anchor="middle" >-0.21</text>
<text transform="translate(617.67,394.19) scale(0.300,0.280)" font-size="10" font-weight="bold" fill="#000" text-anchor="middle" >-0.33</text>
<text transform="translate(628.99,394.19) scale(0.300,0.280)" font-size="10" font-weight="bold" fill="#000" text-anchor="middle" >-0.4</text>
<text transform="translate(640.31,394.19) scale(0.300,0.280)" font-size="10" font-weight="bold" fill="#000" text-anchor="middle" >0.06</text>
<text transform="translate(651.64,394.19) scale(0.300,0.280)" font-size="10" font-weight="bold" fill="#000" text-anchor="middle" >-0.18</text>
<text transform="translate(470.46,405.69) scale(0.300,0.280)" font-size="10" font-weight="bold" fill="#000" text-anchor="middle" >-0.17</text>
<text transform="translate(481.79,405.69) scale(0.300,0.280)" font-size="10" font-weight="bold" fill="#000" text-anchor="middle" >-0.16</text>
<text transform="translate(493.11,405.69) scale(0.300,0.280)" font-size="10" font-weight="bold" fill="#000" text-anchor="middle" >0.22</text>
<text transform="translate(504.43,405.69) scale(0.300,0.280)" font-size="10" font-weight="bold" fill="#000" text-anchor="middle" >0.43</text>
<text transform="translate(515.76,405.69) scale(0.300,0.280)" font-size="10" font-weight="bold" fill="#000" text-anchor="middle" >0.08</text>
<text transform="translate(527.08,405.69) scale(0.300,0.280)" font-size="10" font-weight="bold" fill="#000" text-anchor="middle" >0.24</text>
<text transform="translate(538.40,405.69) scale(0.300,0.280)" font-size="10" font-weight="bold" fill="#000" text-anchor="middle" >0.08</text>
<text transform="translate(549.73,405.69) scale(0.300,0.280)" font-size="10" font-weight="bold" fill="#000" text-anchor="middle" >0.06</text>
<text transform="translate(561.05,405.69) scale(0.300,0.280)" font-size="10" font-weight="bold" fill="#000" text-anchor="middle" >0.32</text>
<text transform="translate(572.37,405.69) scale(0.300,0.280)" font-size="10" font-weight="bold" fill="#000" text-anchor="middle" >0.15</text>
<text transform="translate(583.70,405.69) scale(0.300,0.280)" font-size="10" font-weight="bold" fill="#000" text-anchor="middle" >1</text>
<text transform="translate(595.02,405.69) scale(0.300,0.280)" font-size="10" font-weight="bold" fill="#000" text-anchor="middle" >0.22</text>
<text transform="translate(606.34,405.69) scale(0.300,0.280)" font-size="10" font-weight="bold" fill="#000" text-anchor="middle" >-0.01</text>
<text transform="translate(617.67,405.69) scale(0.300,0.280)" font-size="10" font-weight="bold" fill="#000" text-anchor="middle" >0.07</text>
<text transform="translate(628.99,405.69) scale(0.300,0.280)" font-size="10" font-weight="bold" fill="#000" text-anchor="middle" >-0.22</text>
<text transform="translate(640.31,405.69) scale(0.300,0.280)" font-size="10" font-weight="bold" fill="#000" text-anchor="middle" >-0.48</text>
<text transform="translate(651.64,405.69) scale(0.300,0.280)" font-size="10" font-weight="bold" fill="#000" text-anchor="middle" >-0.28</text>
<text transform="translate(470.46,417.18) scale(0.300,0.280)" font-size="10" font-weight="bold" fill="#000" text-anchor="middle" >-0.02</text>
<text transform="translate(481.79,417.18) scale(0.300,0.280)" font-size="10" font-weight="bold" fill="#000" text-anchor="middle" >0.35</text>
<text transform="translate(493.11,417.18) scale(0.300,0.280)" font-size="10" font-weight="bold" fill="#000" text-anchor="middle" >-0.37</text>
<text transform="translate(504.43,417.18) scale(0.300,0.280)" font-size="10" font-weight="bold" fill="#000" text-anchor="middle" >-0.02</text>
<text transform="translate(515.76,417.18) scale(0.300,0.280)" font-size="10" font-weight="bold" fill="#000" text-anchor="middle" >-0.12</text>
<text transform="translate(527.08,417.18) scale(0.300,0.280)" font-size="10" font-weight="bold" fill="#000" text-anchor="middle" >-0.15</text>
<text transform="translate(538.40,417.18) scale(0.300,0.280)" font-size="10" font-weight="bold" fill="#000" text-anchor="middle" >-0.55</text>
<text transform="translate(549.73,417.18) scale(0.300,0.280)" font-size="10" font-weight="bold" fill="#000" text-anchor="middle" >-0.34</text>
<text transform="translate(561.05,417.18) scale(0.300,0.280)" font-size="10" font-weight="bold" fill="#000" text-anchor="middle" >-0.32</text>
<text transform="translate(572.37,417.18) scale(0.300,0.280)" font-size="10" font-weight="bold" fill="#000" text-anchor="middle" >-0.08</text>
<text transform="translate(583.70,417.18) scale(0.300,0.280)" font-size="10" font-weight="bold" fill="#000" text-anchor="middle" >0.22</text>
<text transform="translate(595.02,417.18) scale(0.300,0.280)" font-size="10" font-weight="bold" fill="#000" text-anchor="middle" >1</text>
<text transform="translate(606.34,417.18) scale(0.300,0.280)" font-size="10" font-weight="bold" fill="#000" text-anchor="middle" >0.36</text>
<text transform="translate(617.67,417.18) scale(0.300,0.280)" font-size="10" font-weight="bold" fill="#000" text-anchor="middle" >0.31</text>
<text transform="translate(628.99,417.18) scale(0.300,0.280)" font-size="10" font-weight="bold" fill="#000" text-anchor="middle" >-0.3</text>
<text transform="translate(640.31,417.18) scale(0.300,0.280)" font-size="10" font-weight="bold" fill="#000" text-anchor="middle" >0.15</text>
<text transform="translate(651.64,417.18) scale(0.300,0.280)" font-size="10" font-weight="bold" fill="#000" text-anchor="middle" >-0.13</text>
<text transform="translate(470.46,428.68) scale(0.300,0.280)" font-size="10" font-weight="bold" fill="#000" text-anchor="middle" >-0.03</text>
<text transform="translate(481.79,428.68) scale(0.300,0.280)" font-size="10" font-weight="bold" fill="#000" text-anchor="middle" >0.22</text>
<text transform="translate(493.11,428.68) scale(0.300,0.280)" font-size="10" font-weight="bold" fill="#000" text-anchor="middle" >-0.08</text>
<text transform="translate(504.43,428.68) scale(0.300,0.280)" font-size="10" font-weight="bold" fill="#000" text-anchor="middle" >-0.18</text>
<text transform="translate(515.76,428.68) scale(0.300,0.280)" font-size="10" font-weight="bold" fill="#000" text-anchor="middle" >-0.15</text>
<text transform="translate(527.08,428.68) scale(0.300,0.280)" font-size="10" font-weight="bold" fill="#000" text-anchor="middle" >-0.14</text>
<text transform="translate(538.40,428.68) scale(0.300,0.280)" font-size="10" font-weight="bold" fill="#000" text-anchor="middle" >-0.12</text>
<text transform="translate(549.73,428.68) scale(0.300,0.280)" font-size="10" font-weight="bold" fill="#000" text-anchor="middle" >-0.46</text>
<text transform="translate(561.05,428.68) scale(0.300,0.280)" font-size="10" font-weight="bold" fill="#000" text-anchor="middle" >-0.25</text>
<text transform="translate(572.37,428.68) scale(0.300,0.280)" font-size="10" font-weight="bold" fill="#000" text-anchor="middle" >-0.21</text>
<text transform="translate(583.70,428.68) scale(0.300,0.280)" font-size="10" font-weight="bold" fill="#000" text-anchor="middle" >-0.01</text>
<text transform="translate(595.02,428.68) scale(0.300,0.280)" font-size="10" font-weight="bold" fill="#000" text-anchor="middle" >0.36</text>
<text transform="translate(606.34,428.68) scale(0.300,0.280)" font-size="10" font-weight="bold" fill="#000" text-anchor="middle" >1</text>
<text transform="translate(617.67,428.68) scale(0.300,0.280)" font-size="10" font-weight="bold" fill="#000" text-anchor="middle" >0.51</text>
<text transform="translate(628.99,428.68) scale(0.300,0.280)" font-size="10" font-weight="bold" fill="#000" text-anchor="middle" >-0.2</text>
<text transform="translate(640.31,428.68) scale(0.300,0.280)" font-size="10" font-weight="bold" fill="#000" text-anchor="middle" >0.02</text>
<text transform="translate(651.64,428.68) scale(0.300,0.280)" font-size="10" font-weight="bold" fill="#000" text-anchor="middle" >-0.16</text>
<text transform="translate(470.46,440.17) scale(0.300,0.280)" font-size="10" font-weight="bold" fill="#000" text-anchor="middle" >-0.16</text>
<text transform="translate(481.79,440.17) scale(0.300,0.280)" font-size="10" font-weight="bold" fill="#000" text-anchor="middle" >0.09</text>
<text transform="translate(493.11,440.17) scale(0.300,0.280)" font-size="10" font-weight="bold" fill="#000" text-anchor="middle" >-0.05</text>
<text transform="translate(504.43,440.17) scale(0.300,0.280)" font-size="10" font-weight="bold" fill="#000" text-anchor="middle" >-0.01</text>
<text transform="translate(515.76,440.17) scale(0.300,0.280)" font-size="10" font-weight="bold" fill="#000" text-anchor="middle" >-0.08</text>
<text transform="translate(527.08,440.17) scale(0.300,0.280)" font-size="10" font-weight="bold" fill="#000" text-anchor="middle" >0.04</text>
<text transform="translate(538.40,440.17) scale(0.300,0.280)" font-size="10" font-weight="bold" fill="#000" text-anchor="middle" >-0.33</text>
<text transform="translate(549.73,440.17) scale(0.300,0.280)" font-size="10" font-weight="bold" fill="#000" text-anchor="middle" >0.03</text>
<text transform="translate(561.05,440.17) scale(0.300,0.280)" font-size="10" font-weight="bold" fill="#000" text-anchor="middle" >0.13</text>
<text transform="translate(572.37,440.17) scale(0.300,0.280)" font-size="10" font-weight="bold" fill="#000" text-anchor="middle" >-0.33</text>
<text transform="translate(583.70,440.17) scale(0.300,0.280)" font-size="10" font-weight="bold" fill="#000" text-anchor="middle" >0.07</text>
<text transform="translate(595.02,440.17) scale(0.300,0.280)" font-size="10" font-weight="bold" fill="#000" text-anchor="middle" >0.31</text>
<text transform="translate(606.34,440.17) scale(0.300,0.280)" font-size="10" font-weight="bold" fill="#000" text-anchor="middle" >0.51</text>
<text transform="translate(617.67,440.17) scale(0.300,0.280)" font-size="10" font-weight="bold" fill="#000" text-anchor="middle" >1</text>
<text transform="translate(628.99,440.17) scale(0.300,0.280)" font-size="10" font-weight="bold" fill="#000" text-anchor="middle" >-0.22</text>
<text transform="translate(640.31,440.17) scale(0.300,0.280)" font-size="10" font-weight="bold" fill="#000" text-anchor="middle" >0.13</text>
<text transform="translate(651.64,440.17) scale(0.300,0.280)" font-size="10" font-weight="bold" fill="#000" text-anchor="middle" >-0.08</text>
<text transform="translate(470.46,451.66) scale(0.300,0.280)" font-size="10" font-weight="bold" fill="#000" text-anchor="middle" >-0.14</text>
<text transform="translate(481.79,451.66) scale(0.300,0.280)" font-size="10" font-weight="bold" fill="#000" text-anchor="middle" >-0.33</text>
<text transform="translate(493.11,451.66) scale(0.300,0.280)" font-size="10" font-weight="bold" fill="#000" text-anchor="middle" >-0.15</text>
<text transform="translate(504.43,451.66) scale(0.300,0.280)" font-size="10" font-weight="bold" fill="#000" text-anchor="middle" >-0.41</text>
<text transform="translate(515.76,451.66) scale(0.300,0.280)" font-size="10" font-weight="bold" fill="#000" text-anchor="middle" >-0.25</text>
<text transform="translate(527.08,451.66) scale(0.300,0.280)" font-size="10" font-weight="bold" fill="#000" text-anchor="middle" >0.02</text>
<text transform="translate(538.40,451.66) scale(0.300,0.280)" font-size="10" font-weight="bold" fill="#000" text-anchor="middle" >0.37</text>
<text transform="translate(549.73,451.66) scale(0.300,0.280)" font-size="10" font-weight="bold" fill="#000" text-anchor="middle" >0.46</text>
<text transform="translate(561.05,451.66) scale(0.300,0.280)" font-size="10" font-weight="bold" fill="#000" text-anchor="middle" >0.26</text>
<text transform="translate(572.37,451.66) scale(0.300,0.280)" font-size="10" font-weight="bold" fill="#000" text-anchor="middle" >-0.4</text>
<text transform="translate(583.70,451.66) scale(0.300,0.280)" font-size="10" font-weight="bold" fill="#000" text-anchor="middle" >-0.22</text>
<text transform="translate(595.02,451.66) scale(0.300,0.280)" font-size="10" font-weight="bold" fill="#000" text-anchor="middle" >-0.3</text>
<text transform="translate(606.34,451.66) scale(0.300,0.280)" font-size="10" font-weight="bold" fill="#000" text-anchor="middle" >-0.2</text>
<text transform="translate(617.67,451.66) scale(0.300,0.280)" font-size="10" font-weight="bold" fill="#000" text-anchor="middle" >-0.22</text>
<text transform="translate(628.99,451.66) scale(0.300,0.280)" font-size="10" font-weight="bold" fill="#000" text-anchor="middle" >1</text>
<text transform="translate(640.31,451.66) scale(0.300,0.280)" font-size="10" font-weight="bold" fill="#000" text-anchor="middle" >0.09</text>
<text transform="translate(651.64,451.66) scale(0.300,0.280)" font-size="10" font-weight="bold" fill="#000" text-anchor="middle" >0.25</text>
<text transform="translate(470.46,463.16) scale(0.300,0.280)" font-size="10" font-weight="bold" fill="#000" text-anchor="middle" >-0.42</text>
<text transform="translate(481.79,463.16) scale(0.300,0.280)" font-size="10" font-weight="bold" fill="#000" text-anchor="middle" >-0.16</text>
<text transform="translate(493.11,463.16) scale(0.300,0.280)" font-size="10" font-weight="bold" fill="#000" text-anchor="middle" >-0.59</text>
<text transform="translate(504.43,463.16) scale(0.300,0.280)" font-size="10" font-weight="bold" fill="#000" text-anchor="middle" >-0.32</text>
<text transform="translate(515.76,463.16) scale(0.300,0.280)" font-size="10" font-weight="bold" fill="#000" text-anchor="middle" >-0.35</text>
<text transform="translate(527.08,463.16) scale(0.300,0.280)" font-size="10" font-weight="bold" fill="#000" text-anchor="middle" >0.03</text>
<text transform="translate(538.40,463.16) scale(0.300,0.280)" font-size="10" font-weight="bold" fill="#000" text-anchor="middle" >0.01</text>
<text transform="translate(549.73,463.16) scale(0.300,0.280)" font-size="10" font-weight="bold" fill="#000" text-anchor="middle" >0.1</text>
<text transform="translate(561.05,463.16) scale(0.300,0.280)" font-size="10" font-weight="bold" fill="#000" text-anchor="middle" >-0.05</text>
<text transform="translate(572.37,463.16) scale(0.300,0.280)" font-size="10" font-weight="bold" fill="#000" text-anchor="middle" >0.06</text>
<text transform="translate(583.70,463.16) scale(0.300,0.280)" font-size="10" font-weight="bold" fill="#000" text-anchor="middle" >-0.48</text>
<text transform="translate(595.02,463.16) scale(0.300,0.280)" font-size="10" font-weight="bold" fill="#000" text-anchor="middle" >0.15</text>
<text transform="translate(606.34,463.16) scale(0.300,0.280)" font-size="10" font-weight="bold" fill="#000" text-anchor="middle" >0.02</text>
<text transform="translate(617.67,463.16) scale(0.300,0.280)" font-size="10" font-weight="bold" fill="#000" text-anchor="middle" >0.13</text>
<text transform="translate(628.99,463.16) scale(0.300,0.280)" font-size="10" font-weight="bold" fill="#000" text-anchor="middle" >0.09</text>
<text transform="translate(640.31,463.16) scale(0.300,0.280)" font-size="10" font-weight="bold" fill="#000" text-anchor="middle" >1</text>
<text transform="translate(651.64,463.16) scale(0.300,0.280)" font-size="10" font-weight="bold" fill="#000" text-anchor="middle" >0.34</text>
<text transform="translate(470.46,474.65) scale(0.300,0.280)" font-size="10" font-weight="bold" fill="#000" text-anchor="middle" >-0.18</text>
<text transform="translate(481.79,474.65) scale(0.300,0.280)" font-size="10" font-weight="bold" fill="#000" text-anchor="middle" >0.07</text>
<text transform="translate(493.11,474.65) scale(0.300,0.280)" font-size="10" font-weight="bold" fill="#000" text-anchor="middle" >-0.11</text>
<text transform="translate(504.43,474.65) scale(0.300,0.280)" font-size="10" font-weight="bold" fill="#000" text-anchor="middle" >-0.09</text>
<text transform="translate(515.76,474.65) scale(0.300,0.280)" font-size="10" font-weight="bold" fill="#000" text-anchor="middle" >-0.05</text>
<text transform="translate(527.08,474.65) scale(0.300,0.280)" font-size="10" font-weight="bold" fill="#000" text-anchor="middle" >-0.07</text>
<text transform="translate(538.40,474.65) scale(0.300,0.280)" font-size="10" font-weight="bold" fill="#000" text-anchor="middle" >-0.08</text>
<text transform="translate(549.73,474.65) scale(0.300,0.280)" font-size="10" font-weight="bold" fill="#000" text-anchor="middle" >-0.01</text>
<text transform="translate(561.05,474.65) scale(0.300,0.280)" font-size="10" font-weight="bold" fill="#000" text-anchor="middle" >0.14</text>
<text transform="translate(572.37,474.65) scale(0.300,0.280)" font-size="10" font-weight="bold" fill="#000" text-anchor="middle" >-0.18</text>
<text transform="translate(583.70,474.65) scale(0.300,0.280)" font-size="10" font-weight="bold" fill="#000" text-anchor="middle" >-0.28</text>
<text transform="translate(595.02,474.65) scale(0.300,0.280)" font-size="10" font-weight="bold" fill="#000" text-anchor="middle" >-0.13</text>
<text transform="translate(606.34,474.65) scale(0.300,0.280)" font-size="10" font-weight="bold" fill="#000" text-anchor="middle" >-0.16</text>
<text transform="translate(617.67,474.65) scale(0.300,0.280)" font-size="10" font-weight="bold" fill="#000" text-anchor="middle" >-0.08</text>
<text transform="translate(628.99,474.65) scale(0.300,0.280)" font-size="10" font-weight="bold" fill="#000" text-anchor="middle" >0.25</text>
<text transform="translate(640.31,474.65) scale(0.300,0.280)" font-size="10" font-weight="bold" fill="#000" text-anchor="middle" >0.34</text>
<text transform="translate(651.64,474.65) scale(0.300,0.280)" font-size="10" font-weight="bold" fill="#000" text-anchor="middle" >1</text>
<text transform="translate(462.60,292.35)" font-size="6.95" font-weight="bold" fill="#FF0000" text-anchor="end" >Macrophages M0</text>
<text transform="translate(462.60,303.84)" font-size="6.95" font-weight="bold" fill="#FF0000" text-anchor="end" >Neutrophils</text>
<text transform="translate(462.60,315.34)" font-size="6.5" font-weight="bold" fill="#000" text-anchor="end" >B cells naive</text>
<text transform="translate(462.60,326.83)" font-size="6.5" font-weight="bold" fill="#000" text-anchor="end" >Plasma cells</text>
<text transform="translate(462.60,338.32)" font-size="6.5" font-weight="bold" fill="#000" text-anchor="end" >Mast cells activated</text>
<text transform="translate(462.60,349.82)" font-size="6.7" font-weight="bold" fill="#00B050" text-anchor="end" >T cells gamma delta</text>
<text transform="translate(462.60,361.31)" font-size="6.5" font-weight="bold" fill="#000" text-anchor="end" >T cells regulatory (Tregs)</text>
<text transform="translate(462.60,372.81)" font-size="6.7" font-weight="bold" fill="#00B050" text-anchor="end" >T cells CD8+</text>
<text transform="translate(462.60,384.30)" font-size="6.7" font-weight="bold" fill="#00B050" text-anchor="end" >Mast cells resting</text>
<text transform="translate(462.60,395.79)" font-size="6.5" font-weight="bold" fill="#000" text-anchor="end" >Monocytes</text>
<text transform="translate(462.60,407.29)" font-size="6.5" font-weight="bold" fill="#000" text-anchor="end" >Dendritic cells activated</text>
<text transform="translate(462.60,418.78)" font-size="6.5" font-weight="bold" fill="#000" text-anchor="end" >T cells CD4 memory activated</text>
<text transform="translate(462.60,430.28)" font-size="6.5" font-weight="bold" fill="#000" text-anchor="end" >T cells CD4 naive</text>
<text transform="translate(462.60,441.77)" font-size="6.5" font-weight="bold" fill="#000" text-anchor="end" >Macrophages M2</text>
<text transform="translate(462.60,453.26)" font-size="6.5" font-weight="bold" fill="#000" text-anchor="end" >NK cells resting</text>
<text transform="translate(462.60,464.76)" font-size="6.5" font-weight="bold" fill="#000" text-anchor="end" >B cells memory</text>
<text transform="translate(462.60,476.25)" font-size="6.5" font-weight="bold" fill="#000" text-anchor="end" >T cells CD4 memory resting</text>
<text transform="translate(472.96,280.80) rotate(-90)" font-size="6.95" font-weight="bold" fill="#FF0000" text-anchor="start" >Macrophages M0</text>
<text transform="translate(484.29,280.80) rotate(-90)" font-size="6.95" font-weight="bold" fill="#FF0000" text-anchor="start" >Neutrophils</text>
<text transform="translate(495.61,280.80) rotate(-90)" font-size="6.1" font-weight="bold" fill="#000" text-anchor="start" >B cells naive</text>
<text transform="translate(506.93,280.80) rotate(-90)" font-size="6.1" font-weight="bold" fill="#000" text-anchor="start" >Plasma cells</text>
<text transform="translate(518.26,280.80) rotate(-90)" font-size="7.15" font-weight="bold" fill="#00B050" text-anchor="start" >Mast cells activated</text>
<text transform="translate(529.58,280.80) rotate(-90)" font-size="7.15" font-weight="bold" fill="#00B050" text-anchor="start" >T cells gamma delta</text>
<text transform="translate(540.90,280.80) rotate(-90)" font-size="6.1" font-weight="bold" fill="#000" text-anchor="start" >T cells regulatory (Tregs)</text>
<text transform="translate(552.23,280.80) rotate(-90)" font-size="7.15" font-weight="bold" fill="#00B050" text-anchor="start" >T cells CD8+</text>
<text transform="translate(563.55,280.80) rotate(-90)" font-size="6.1" font-weight="bold" fill="#000" text-anchor="start" >Mast cells resting</text>
<text transform="translate(574.87,280.80) rotate(-90)" font-size="6.1" font-weight="bold" fill="#000" text-anchor="start" >Monocytes</text>
<text transform="translate(586.20,280.80) rotate(-90)" font-size="6.1" font-weight="bold" fill="#000" text-anchor="start" >Dendritic cells activated</text>
<text transform="translate(597.52,280.80) rotate(-90)" font-size="6.1" font-weight="bold" fill="#000" text-anchor="start" >T cells CD4 memory activated</text>
<text transform="translate(608.84,280.80) rotate(-90)" font-size="6.1" font-weight="bold" fill="#000" text-anchor="start" >T cells CD4 naive</text>
<text transform="translate(620.17,280.80) rotate(-90)" font-size="6.1" font-weight="bold" fill="#000" text-anchor="start" >Macrophages M2</text>
<text transform="translate(631.49,280.80) rotate(-90)" font-size="6.1" font-weight="bold" fill="#000" text-anchor="start" >NK cells resting</text>
<text transform="translate(642.81,280.80) rotate(-90)" font-size="6.1" font-weight="bold" fill="#000" text-anchor="start" >B cells memory</text>
<text transform="translate(654.14,280.80) rotate(-90)" font-size="6.1" font-weight="bold" fill="#000" text-anchor="start" >T cells CD4 memory resting</text>
<defs><linearGradient id="ck" x1="0" x2="0" y1="0" y2="1"><stop offset="0" stop-color="#FF0000"/><stop offset="0.5" stop-color="#FFFFFF"/><stop offset="1" stop-color="#0000FF"/></linearGradient></defs>
<rect x="660.4" y="284.2" width="7.6" height="195.2" fill="url(#ck)"/>
<path d="M668 284.20H669.6" stroke="#777" stroke-width="0.5"/>
<text transform="translate(672.80,286.40)" font-size="6.7" font-weight="bold" fill="#000" text-anchor="start" >1.0</text>
<path d="M668 303.72H669.6" stroke="#777" stroke-width="0.5"/>
<text transform="translate(672.80,305.82)" font-size="6.7" font-weight="bold" fill="#000" text-anchor="start" >0.8</text>
<path d="M668 323.24H669.6" stroke="#777" stroke-width="0.5"/>
<text transform="translate(672.80,325.24)" font-size="6.7" font-weight="bold" fill="#000" text-anchor="start" >0.6</text>
<path d="M668 342.76H669.6" stroke="#777" stroke-width="0.5"/>
<text transform="translate(672.80,344.66)" font-size="6.7" font-weight="bold" fill="#000" text-anchor="start" >0.4</text>
<path d="M668 362.28H669.6" stroke="#777" stroke-width="0.5"/>
<text transform="translate(672.80,364.08)" font-size="6.7" font-weight="bold" fill="#000" text-anchor="start" >0.2</text>
<path d="M668 381.80H669.6" stroke="#777" stroke-width="0.5"/>
<text transform="translate(672.80,383.50)" font-size="6.7" font-weight="bold" fill="#000" text-anchor="start" >0</text>
<path d="M668 401.32H669.6" stroke="#777" stroke-width="0.5"/>
<text transform="translate(671.60,402.92)" font-size="6.7" font-weight="bold" fill="#000" text-anchor="start" >-0.2</text>
<path d="M668 420.84H669.6" stroke="#777" stroke-width="0.5"/>
<text transform="translate(671.60,422.34)" font-size="6.7" font-weight="bold" fill="#000" text-anchor="start" >-0.4</text>
<path d="M668 440.36H669.6" stroke="#777" stroke-width="0.5"/>
<text transform="translate(671.60,441.76)" font-size="6.7" font-weight="bold" fill="#000" text-anchor="start" >-0.6</text>
<path d="M668 459.88H669.6" stroke="#777" stroke-width="0.5"/>
<text transform="translate(671.60,461.18)" font-size="6.7" font-weight="bold" fill="#000" text-anchor="start" >-0.8</text>
<path d="M668 479.40H669.6" stroke="#777" stroke-width="0.5"/>
<text transform="translate(671.60,480.60)" font-size="6.7" font-weight="bold" fill="#000" text-anchor="start" >-1.0</text>
</g>
<g id="panelD">
<text transform="translate(5.20,499.50) scale(1.040,1.000)" font-size="11.6" font-weight="normal" fill="#000" text-anchor="start" stroke="#000" stroke-width="0.45">D</text>
<rect x="43.5" y="488.0" width="634.8" height="170.3" fill="none" stroke="#8c8c8c" stroke-width="0.9"/>
<path d="M39.2 651.70H43.5" stroke="#8c8c8c" stroke-width="0.7"/>
<text transform="translate(37.00,653.90) scale(1.030,0.670)" font-size="10" font-weight="bold" fill="#000" text-anchor="end" >0.0</text>
<path d="M39.2 621.78H43.5" stroke="#8c8c8c" stroke-width="0.7"/>
<text transform="translate(37.00,623.98) scale(1.030,0.670)" font-size="10" font-weight="bold" fill="#000" text-anchor="end" >0.1</text>
<path d="M39.2 591.86H43.5" stroke="#8c8c8c" stroke-width="0.7"/>
<text transform="translate(37.00,594.06) scale(1.030,0.670)" font-size="10" font-weight="bold" fill="#000" text-anchor="end" >0.2</text>
<path d="M39.2 561.94H43.5" stroke="#8c8c8c" stroke-width="0.7"/>
<text transform="translate(37.00,564.14) scale(1.030,0.670)" font-size="10" font-weight="bold" fill="#000" text-anchor="end" >0.3</text>
<path d="M39.2 532.02H43.5" stroke="#8c8c8c" stroke-width="0.7"/>
<text transform="translate(37.00,534.22) scale(1.030,0.670)" font-size="10" font-weight="bold" fill="#000" text-anchor="end" >0.4</text>
<path d="M39.2 502.10H43.5" stroke="#8c8c8c" stroke-width="0.7"/>
<text transform="translate(37.00,504.30) scale(1.030,0.670)" font-size="10" font-weight="bold" fill="#000" text-anchor="end" >0.5</text>
<text transform="translate(17.10,574.30) rotate(-90) scale(0.730,1.000)" font-size="12" font-weight="normal" fill="#000" text-anchor="middle" stroke="#000" stroke-width="0.3">Fraction</text>
<path d="M63.2 652.6L66.9 649.4L70.7 652.6" fill="none" stroke="#0000DD" stroke-width="1.1" stroke-linejoin="round"/>
<path d="M72.8 652.6L76.3 649.4L79.9 652.6" fill="none" stroke="#B00000" stroke-width="1.1" stroke-linejoin="round"/>
<rect x="75.2" y="647.9" width="2.2" height="1.8" fill="#A00000"/>
<path d="M68.80 648.30H76.70" stroke="#333" stroke-width="0.5"/>
<text transform="translate(59.90,643.50) scale(0.651,0.430)" font-size="10" font-weight="normal" fill="#222" text-anchor="start" stroke="#222" stroke-width="0.3">p=0.896</text>
<path d="M97.10 624.80C97.27 625.08 97.89 625.30 98.10 626.50C98.31 627.70 98.32 630.08 98.35 632.00C98.38 633.92 98.38 636.00 98.30 638.00C98.22 640.00 98.05 642.33 97.90 644.00C97.75 645.67 97.53 647.10 97.40 648.00C97.27 648.90 97.15 649.17 97.10 649.40L92.30 649.40C92.25 649.17 92.13 648.90 92.00 648.00C91.87 647.10 91.65 645.67 91.50 644.00C91.35 642.33 91.18 640.00 91.10 638.00C91.03 636.00 91.02 633.92 91.05 632.00C91.08 630.08 91.09 627.70 91.30 626.50C91.51 625.30 92.13 625.08 92.30 624.80Z" fill="#0000DD" stroke="#00006A" stroke-width="0.5" stroke-linejoin="round"/>
<path d="M94.70 626.00V648.00" stroke="#000" stroke-width="0.3"/>
<path d="M94.70 630.00V642.00" stroke="#000" stroke-width="0.6"/>
<ellipse cx="94.70" cy="635.40" rx="1.7" ry="0.95" fill="#fff"/>
<path d="M105.40 629.00C105.50 629.50 105.63 630.67 106.00 632.00C106.37 633.33 107.17 635.42 107.60 637.00C108.03 638.58 108.57 640.00 108.60 641.50C108.63 643.00 108.15 644.58 107.80 646.00C107.45 647.42 106.83 648.95 106.50 650.00C106.17 651.05 105.92 651.92 105.80 652.30L103.20 652.30C103.08 651.92 102.83 651.05 102.50 650.00C102.17 648.95 101.55 647.42 101.20 646.00C100.85 644.58 100.37 643.00 100.40 641.50C100.43 640.00 100.97 638.58 101.40 637.00C101.83 635.42 102.63 633.33 103.00 632.00C103.37 630.67 103.50 629.50 103.60 629.00Z" fill="#E00000" stroke="#700000" stroke-width="0.5" stroke-linejoin="round"/>
<path d="M104.50 631.00V651.00" stroke="#000" stroke-width="0.3"/>
<path d="M104.50 637.00V647.00" stroke="#000" stroke-width="0.6"/>
<ellipse cx="104.50" cy="641.50" rx="1.7" ry="0.95" fill="#fff"/>
<path d="M94.40 624.50H102.30" stroke="#333" stroke-width="0.5"/>
<text transform="translate(87.90,619.90) scale(0.656,0.430)" font-size="10" font-weight="normal" fill="#222" text-anchor="start" stroke="#222" stroke-width="0.3">p=0.259</text>
<path d="M123.25 637.30C123.29 638.25 123.38 641.38 123.50 643.00C123.62 644.62 123.70 645.83 124.00 647.00C124.30 648.17 124.82 649.08 125.30 650.00C125.78 650.92 126.63 652.08 126.90 652.50L118.90 652.50C119.17 652.08 120.02 650.92 120.50 650.00C120.98 649.08 121.50 648.17 121.80 647.00C122.10 645.83 122.18 644.62 122.30 643.00C122.43 641.38 122.51 638.25 122.55 637.30Z" fill="#0000DD" stroke="#00006A" stroke-width="0.5" stroke-linejoin="round"/>
<path d="M132.80 640.00C132.83 640.83 132.88 643.67 133.00 645.00C133.12 646.33 133.20 647.08 133.50 648.00C133.80 648.92 134.30 649.75 134.80 650.50C135.30 651.25 136.22 652.17 136.50 652.50L128.50 652.50C128.78 652.17 129.70 651.25 130.20 650.50C130.70 649.75 131.20 648.92 131.50 648.00C131.80 647.08 131.88 646.33 132.00 645.00C132.12 643.67 132.17 640.83 132.20 640.00Z" fill="#E00000" stroke="#700000" stroke-width="0.5" stroke-linejoin="round"/>
<path d="M130.2 652.6L132.5 650.6L134.8 652.6Z" fill="#fff"/>
<path d="M124.60 637.30H130.60" stroke="#333" stroke-width="0.5"/>
<text transform="translate(115.70,632.60) scale(0.653,0.430)" font-size="10" font-weight="normal" fill="#222" text-anchor="start" stroke="#222" stroke-width="0.3">p=0.685</text>
<path d="M151.50 579.20C151.53 581.83 151.57 590.53 151.70 595.00C151.83 599.47 151.97 602.50 152.30 606.00C152.63 609.50 153.25 613.00 153.70 616.00C154.15 619.00 154.72 621.83 155.00 624.00C155.28 626.17 155.38 627.27 155.40 629.00C155.42 630.73 155.15 633.50 155.10 634.40L146.90 634.40C146.85 633.50 146.58 630.73 146.60 629.00C146.62 627.27 146.72 626.17 147.00 624.00C147.28 621.83 147.85 619.00 148.30 616.00C148.75 613.00 149.37 609.50 149.70 606.00C150.03 602.50 150.17 599.47 150.30 595.00C150.43 590.53 150.47 581.83 150.50 579.20Z" fill="#0000DD" stroke="#00006A" stroke-width="0.5" stroke-linejoin="round"/>
<path d="M151.00 600.00V634.00" stroke="#000" stroke-width="0.3"/>
<path d="M151.00 620.00V632.00" stroke="#000" stroke-width="0.6"/>
<ellipse cx="151.00" cy="626.80" rx="1.7" ry="0.95" fill="#fff"/>
<path d="M160.50 616.20C160.53 618.50 160.55 626.53 160.70 630.00C160.85 633.47 160.98 635.00 161.40 637.00C161.82 639.00 162.74 640.50 163.20 642.00C163.66 643.50 164.07 644.67 164.15 646.00C164.23 647.33 163.89 649.05 163.70 650.00C163.51 650.95 163.12 651.42 163.00 651.70L157.40 651.70C157.28 651.42 156.89 650.95 156.70 650.00C156.51 649.05 156.17 647.33 156.25 646.00C156.33 644.67 156.74 643.50 157.20 642.00C157.66 640.50 158.58 639.00 159.00 637.00C159.42 635.00 159.55 633.47 159.70 630.00C159.85 626.53 159.87 618.50 159.90 616.20Z" fill="#E00000" stroke="#700000" stroke-width="0.5" stroke-linejoin="round"/>
<path d="M160.20 622.00V651.00" stroke="#000" stroke-width="0.3"/>
<path d="M160.20 641.00V650.00" stroke="#000" stroke-width="0.6"/>
<ellipse cx="160.20" cy="645.80" rx="1.7" ry="0.95" fill="#fff"/>
<path d="M151.00 579.20H158.50" stroke="#333" stroke-width="0.5"/>
<text transform="translate(132.90,576.80)" font-size="8.2" font-weight="bold" fill="#000" text-anchor="start" textLength="42.70" lengthAdjust="spacingAndGlyphs">p=0.001</text>
<path d="M180.30 600.70C180.38 601.58 180.57 603.78 180.80 606.00C181.03 608.22 181.43 611.33 181.70 614.00C181.98 616.67 182.29 619.67 182.45 622.00C182.61 624.33 182.76 625.67 182.65 628.00C182.54 630.33 182.09 633.67 181.80 636.00C181.51 638.33 181.15 640.25 180.90 642.00C180.65 643.75 180.40 645.75 180.30 646.50L177.50 646.50C177.40 645.75 177.15 643.75 176.90 642.00C176.65 640.25 176.29 638.33 176.00 636.00C175.71 633.67 175.26 630.33 175.15 628.00C175.04 625.67 175.19 624.33 175.35 622.00C175.51 619.67 175.82 616.67 176.10 614.00C176.38 611.33 176.77 608.22 177.00 606.00C177.23 603.78 177.42 601.58 177.50 600.70Z" fill="#0000DD" stroke="#00006A" stroke-width="0.5" stroke-linejoin="round"/>
<path d="M178.90 604.00V644.00" stroke="#000" stroke-width="0.3"/>
<path d="M178.90 616.00V636.00" stroke="#000" stroke-width="0.6"/>
<ellipse cx="178.90" cy="626.80" rx="1.7" ry="0.95" fill="#fff"/>
<path d="M188.85 603.10C188.91 604.25 188.97 607.85 189.20 610.00C189.42 612.15 189.78 614.17 190.20 616.00C190.62 617.83 191.36 619.50 191.70 621.00C192.04 622.50 192.23 623.75 192.25 625.00C192.27 626.25 191.99 627.62 191.80 628.50C191.61 629.38 191.22 630.00 191.10 630.30L185.90 630.30C185.78 630.00 185.39 629.38 185.20 628.50C185.01 627.62 184.73 626.25 184.75 625.00C184.77 623.75 184.96 622.50 185.30 621.00C185.64 619.50 186.38 617.83 186.80 616.00C187.22 614.17 187.58 612.15 187.80 610.00C188.03 607.85 188.09 604.25 188.15 603.10Z" fill="#E00000" stroke="#700000" stroke-width="0.5" stroke-linejoin="round"/>
<path d="M188.50 606.00V630.00" stroke="#000" stroke-width="0.3"/>
<path d="M188.50 619.00V628.00" stroke="#000" stroke-width="0.6"/>
<ellipse cx="188.50" cy="624.10" rx="1.7" ry="0.95" fill="#fff"/>
<path d="M178.90 600.50H186.10" stroke="#333" stroke-width="0.5"/>
<text transform="translate(171.90,596.30) scale(0.662,0.430)" font-size="10" font-weight="normal" fill="#222" text-anchor="start" stroke="#222" stroke-width="0.3">p=0.585</text>
<path d="M203.2 652L205 651.2M206.2 650.8H208M208.8 651.6H210.4M210.4 650.6H214.6" stroke="#444" stroke-width="0.5" fill="none"/>
<text transform="translate(199.90,645.40) scale(0.651,0.430)" font-size="10" font-weight="normal" fill="#222" text-anchor="start" stroke="#222" stroke-width="0.3">p=0.272</text>
<path d="M234.8 647.1V650.2M231.3 652.6L234.8 650L238.3 652.6" fill="none" stroke="#0000DD" stroke-width="1.0" stroke-linejoin="round"/>
<path d="M244.70 643.80C244.78 644.17 245.00 645.22 245.20 646.00C245.40 646.78 245.62 647.75 245.90 648.50C246.18 649.25 246.50 649.83 246.90 650.50C247.30 651.17 248.07 652.17 248.30 652.50L240.30 652.50C240.53 652.17 241.30 651.17 241.70 650.50C242.10 649.83 242.42 649.25 242.70 648.50C242.98 647.75 243.20 646.78 243.40 646.00C243.60 645.22 243.82 644.17 243.90 643.80Z" fill="#E00000" stroke="#700000" stroke-width="0.5" stroke-linejoin="round"/>
<path d="M242.6 652.7L244.3 650.4L246 652.7Z" fill="#fff"/>
<path d="M236.80 643.80H242.30" stroke="#333" stroke-width="0.5"/>
<text transform="translate(227.60,638.80) scale(0.648,0.430)" font-size="10" font-weight="normal" fill="#222" text-anchor="start" stroke="#222" stroke-width="0.3">p=0.191</text>
<path d="M263.40 618.50C263.57 619.42 263.98 622.08 264.40 624.00C264.82 625.92 265.48 628.12 265.90 630.00C266.32 631.88 266.87 633.63 266.90 635.30C266.93 636.97 266.48 638.22 266.10 640.00C265.72 641.78 265.05 644.12 264.60 646.00C264.15 647.88 263.60 650.42 263.40 651.30L262.40 651.30C262.20 650.42 261.65 647.88 261.20 646.00C260.75 644.12 260.08 641.78 259.70 640.00C259.32 638.22 258.87 636.97 258.90 635.30C258.93 633.63 259.48 631.88 259.90 630.00C260.32 628.12 260.98 625.92 261.40 624.00C261.82 622.08 262.23 619.42 262.40 618.50Z" fill="#0000DD" stroke="#00006A" stroke-width="0.5" stroke-linejoin="round"/>
<path d="M262.90 621.00V649.00" stroke="#000" stroke-width="0.3"/>
<path d="M262.90 630.00V641.00" stroke="#000" stroke-width="0.6"/>
<ellipse cx="262.90" cy="635.30" rx="1.7" ry="0.95" fill="#fff"/>
<path d="M274.00 628.10C274.07 628.75 274.20 630.52 274.40 632.00C274.60 633.48 274.88 635.25 275.20 637.00C275.52 638.75 276.18 641.00 276.35 642.50C276.52 644.00 276.34 644.78 276.20 646.00C276.06 647.22 275.62 649.17 275.50 649.80L269.50 649.80C269.38 649.17 268.94 647.22 268.80 646.00C268.66 644.78 268.48 644.00 268.65 642.50C268.82 641.00 269.48 638.75 269.80 637.00C270.12 635.25 270.40 633.48 270.60 632.00C270.80 630.52 270.93 628.75 271.00 628.10Z" fill="#E00000" stroke="#700000" stroke-width="0.5" stroke-linejoin="round"/>
<path d="M272.50 630.00V649.00" stroke="#000" stroke-width="0.3"/>
<path d="M272.50 636.00V647.00" stroke="#000" stroke-width="0.6"/>
<ellipse cx="272.50" cy="642.50" rx="1.7" ry="0.95" fill="#fff"/>
<path d="M262.90 618.30H270.60" stroke="#333" stroke-width="0.5"/>
<text transform="translate(255.70,613.60) scale(0.642,0.430)" font-size="10" font-weight="normal" fill="#222" text-anchor="start" stroke="#222" stroke-width="0.3">p=0.108</text>
<path d="M291.35 578.10C291.38 581.08 291.39 591.02 291.50 596.00C291.61 600.98 291.72 604.00 292.00 608.00C292.28 612.00 292.83 616.50 293.20 620.00C293.57 623.50 293.98 626.50 294.20 629.00C294.42 631.50 294.48 633.00 294.50 635.00C294.52 637.00 294.33 640.00 294.30 641.00L287.50 641.00C287.47 640.00 287.28 637.00 287.30 635.00C287.32 633.00 287.38 631.50 287.60 629.00C287.82 626.50 288.23 623.50 288.60 620.00C288.97 616.50 289.52 612.00 289.80 608.00C290.08 604.00 290.19 600.98 290.30 596.00C290.41 591.02 290.42 581.08 290.45 578.10Z" fill="#0000DD" stroke="#00006A" stroke-width="0.5" stroke-linejoin="round"/>
<path d="M290.90 600.00V641.00" stroke="#000" stroke-width="0.3"/>
<path d="M290.90 626.00V639.00" stroke="#000" stroke-width="0.6"/>
<ellipse cx="290.90" cy="634.00" rx="1.7" ry="0.95" fill="#fff"/>
<path d="M301.80 632.30C301.88 632.92 302.08 634.72 302.30 636.00C302.52 637.28 302.83 638.58 303.10 640.00C303.37 641.42 303.80 643.17 303.90 644.50C304.00 645.83 303.85 646.80 303.70 648.00C303.55 649.20 303.12 651.08 303.00 651.70L297.60 651.70C297.48 651.08 297.05 649.20 296.90 648.00C296.75 646.80 296.60 645.83 296.70 644.50C296.80 643.17 297.23 641.42 297.50 640.00C297.77 638.58 298.08 637.28 298.30 636.00C298.52 634.72 298.72 632.92 298.80 632.30Z" fill="#E00000" stroke="#700000" stroke-width="0.5" stroke-linejoin="round"/>
<path d="M300.30 634.00V651.00" stroke="#000" stroke-width="0.3"/>
<path d="M300.30 639.00V649.00" stroke="#000" stroke-width="0.6"/>
<ellipse cx="300.30" cy="644.50" rx="1.7" ry="0.95" fill="#fff"/>
<path d="M290.90 578.10H298.10" stroke="#333" stroke-width="0.5"/>
<text transform="translate(263.10,576.80)" font-size="8.2" font-weight="bold" fill="#000" text-anchor="start" textLength="44.20" lengthAdjust="spacingAndGlyphs">p=0.002</text>
<path d="M320.40 580.10C320.47 581.75 320.60 586.35 320.80 590.00C321.00 593.65 321.33 598.33 321.60 602.00C321.87 605.67 322.17 609.00 322.40 612.00C322.62 615.00 322.88 617.60 322.95 620.00C323.02 622.40 322.82 625.33 322.80 626.40L315.20 626.40C315.18 625.33 314.98 622.40 315.05 620.00C315.12 617.60 315.38 615.00 315.60 612.00C315.83 609.00 316.13 605.67 316.40 602.00C316.67 598.33 317.00 593.65 317.20 590.00C317.40 586.35 317.53 581.75 317.60 580.10Z" fill="#0000DD" stroke="#00006A" stroke-width="0.5" stroke-linejoin="round"/>
<path d="M319.00 584.00V626.00" stroke="#000" stroke-width="0.3"/>
<path d="M319.00 606.00V625.00" stroke="#000" stroke-width="0.6"/>
<ellipse cx="319.00" cy="620.20" rx="1.7" ry="0.95" fill="#fff"/>
<path d="M330.80 599.20C330.95 599.67 331.49 600.53 331.70 602.00C331.91 603.47 332.05 606.00 332.05 608.00C332.05 610.00 331.70 612.00 331.70 614.00C331.70 616.00 332.03 618.00 332.05 620.00C332.07 622.00 331.94 624.55 331.80 626.00C331.66 627.45 331.30 628.25 331.20 628.70L325.20 628.70C325.10 628.25 324.74 627.45 324.60 626.00C324.46 624.55 324.33 622.00 324.35 620.00C324.37 618.00 324.70 616.00 324.70 614.00C324.70 612.00 324.35 610.00 324.35 608.00C324.35 606.00 324.49 603.47 324.70 602.00C324.91 600.53 325.45 599.67 325.60 599.20Z" fill="#E00000" stroke="#700000" stroke-width="0.5" stroke-linejoin="round"/>
<path d="M328.20 601.00V628.00" stroke="#000" stroke-width="0.3"/>
<path d="M328.20 605.00V625.00" stroke="#000" stroke-width="0.6"/>
<ellipse cx="328.20" cy="614.50" rx="1.7" ry="0.95" fill="#fff"/>
<path d="M319.00 580.00H326.00" stroke="#333" stroke-width="0.5"/>
<text transform="translate(311.50,574.90) scale(0.651,0.430)" font-size="10" font-weight="normal" fill="#222" text-anchor="start" stroke="#222" stroke-width="0.3">p=0.585</text>
<path d="M348.40 553.00C348.47 555.00 348.62 560.50 348.80 565.00C348.98 569.50 349.27 575.17 349.50 580.00C349.73 584.83 350.04 590.33 350.20 594.00C350.36 597.67 350.45 599.33 350.45 602.00C350.45 604.67 350.29 607.98 350.20 610.00C350.11 612.02 349.95 613.42 349.90 614.10L343.50 614.10C343.45 613.42 343.29 612.02 343.20 610.00C343.11 607.98 342.95 604.67 342.95 602.00C342.95 599.33 343.04 597.67 343.20 594.00C343.36 590.33 343.67 584.83 343.90 580.00C344.13 575.17 344.42 569.50 344.60 565.00C344.78 560.50 344.93 555.00 345.00 553.00Z" fill="#0000DD" stroke="#00006A" stroke-width="0.5" stroke-linejoin="round"/>
<path d="M346.70 558.00V613.00" stroke="#000" stroke-width="0.3"/>
<path d="M346.70 585.00V608.00" stroke="#000" stroke-width="0.6"/>
<ellipse cx="346.70" cy="600.30" rx="1.7" ry="0.95" fill="#fff"/>
<path d="M357.10 564.90C357.25 566.08 357.62 569.32 358.00 572.00C358.38 574.68 359.03 578.13 359.40 581.00C359.78 583.87 360.27 586.37 360.25 589.20C360.23 592.03 359.69 594.87 359.30 598.00C358.91 601.13 358.33 604.62 357.90 608.00C357.47 611.38 356.90 616.58 356.70 618.30L355.90 618.30C355.70 616.58 355.13 611.38 354.70 608.00C354.27 604.62 353.69 601.13 353.30 598.00C352.91 594.87 352.37 592.03 352.35 589.20C352.33 586.37 352.82 583.87 353.20 581.00C353.57 578.13 354.22 574.68 354.60 572.00C354.98 569.32 355.35 566.08 355.50 564.90Z" fill="#E00000" stroke="#700000" stroke-width="0.5" stroke-linejoin="round"/>
<path d="M356.30 568.00V615.00" stroke="#000" stroke-width="0.3"/>
<path d="M356.30 580.00V600.00" stroke="#000" stroke-width="0.6"/>
<ellipse cx="356.30" cy="589.20" rx="1.7" ry="0.95" fill="#fff"/>
<path d="M346.70 553.00H354.40" stroke="#333" stroke-width="0.5"/>
<text transform="translate(339.30,547.90) scale(0.653,0.430)" font-size="10" font-weight="normal" fill="#222" text-anchor="start" stroke="#222" stroke-width="0.3">p=0.546</text>
<path d="M375.45 641.60C375.49 642.33 375.56 644.85 375.70 646.00C375.84 647.15 376.00 647.75 376.30 648.50C376.60 649.25 377.05 649.83 377.50 650.50C377.95 651.17 378.75 652.17 379.00 652.50L371.00 652.50C371.25 652.17 372.05 651.17 372.50 650.50C372.95 649.83 373.40 649.25 373.70 648.50C374.00 647.75 374.16 647.15 374.30 646.00C374.44 644.85 374.51 642.33 374.55 641.60Z" fill="#0000DD" stroke="#00006A" stroke-width="0.5" stroke-linejoin="round"/>
<path d="M373.2 652.8L375 650.2L376.8 652.8Z" fill="#fff"/>
<path d="M384.35 619.70C384.39 621.08 384.41 625.62 384.60 628.00C384.79 630.38 385.10 632.17 385.50 634.00C385.90 635.83 386.60 637.50 387.00 639.00C387.40 640.50 387.80 641.67 387.90 643.00C388.00 644.33 387.78 645.73 387.60 647.00C387.42 648.27 386.93 650.00 386.80 650.60L381.20 650.60C381.07 650.00 380.58 648.27 380.40 647.00C380.22 645.73 380.00 644.33 380.10 643.00C380.20 641.67 380.60 640.50 381.00 639.00C381.40 637.50 382.10 635.83 382.50 634.00C382.90 632.17 383.21 630.38 383.40 628.00C383.59 625.62 383.61 621.08 383.65 619.70Z" fill="#E00000" stroke="#700000" stroke-width="0.5" stroke-linejoin="round"/>
<path d="M384.00 624.00V650.00" stroke="#000" stroke-width="0.3"/>
<path d="M384.00 637.00V648.00" stroke="#000" stroke-width="0.6"/>
<ellipse cx="384.00" cy="642.90" rx="1.7" ry="0.95" fill="#fff"/>
<path d="M377.40 619.40H384.00" stroke="#333" stroke-width="0.5"/>
<text transform="translate(366.00,617.80)" font-size="8.2" font-weight="bold" fill="#000" text-anchor="start" textLength="43.10" lengthAdjust="spacingAndGlyphs">p=0.001</text>
<path d="M402.8 646V650M398.9 652.6L402.8 649.6L406.7 652.6" fill="none" stroke="#0000DD" stroke-width="1.0" stroke-linejoin="round"/>
<path d="M408.5 651.8H410.2M411.5 650.8H413M414 652H416" stroke="#444" stroke-width="0.5"/>
<path d="M402.80 646.00H409.90" stroke="#333" stroke-width="0.5"/>
<text transform="translate(395.30,641.60) scale(0.662,0.430)" font-size="10" font-weight="normal" fill="#222" text-anchor="start" stroke="#222" stroke-width="0.3">p=0.064</text>
<path d="M427.6 648.4H433.4V650.2Q433.4 651.6 430.5 651.6Q427.6 651.6 427.6 650.2Z" fill="#fff" stroke="#0000DD" stroke-width="1.2"/>
<ellipse cx="440.2" cy="650" rx="3.1" ry="1.5" fill="#fff" stroke="#D00000" stroke-width="1.1"/>
<text transform="translate(423.50,643.10) scale(0.640,0.430)" font-size="10" font-weight="normal" fill="#222" text-anchor="start" stroke="#222" stroke-width="0.3">p=0.977</text>
<path d="M455.3 640.4Q455.3 638.8 459 638.8Q462.7 638.8 462.7 640.4V643.5Q462.7 647.4 459 647.4Q455.3 647.4 455.3 643.5Z" fill="#0000DD" stroke="#00006A" stroke-width="0.5"/>
<ellipse cx="459" cy="642.3" rx="1.9" ry="1.6" fill="#fff"/>
<path d="M468.35 641.60C468.39 642.17 468.39 644.02 468.60 645.00C468.81 645.98 469.25 646.67 469.60 647.50C469.95 648.33 470.32 649.20 470.70 650.00C471.08 650.80 471.70 651.92 471.90 652.30L464.10 652.30C464.30 651.92 464.92 650.80 465.30 650.00C465.68 649.20 466.05 648.33 466.40 647.50C466.75 646.67 467.19 645.98 467.40 645.00C467.61 644.02 467.61 642.17 467.65 641.60Z" fill="#E00000" stroke="#700000" stroke-width="0.5" stroke-linejoin="round"/>
<path d="M466.5 652.5L468 650.2L469.5 652.5Z" fill="#fff"/>
<path d="M459.00 638.70H466.10" stroke="#333" stroke-width="0.5"/>
<text transform="translate(445.70,636.50)" font-size="8.2" font-weight="bold" fill="#000" text-anchor="start" textLength="43.50" lengthAdjust="spacingAndGlyphs">p&lt;0.001</text>
<path d="M496 647.4V650.2M492.6 652.4L496 650L499.4 652.4" fill="none" stroke="#7a1a1a" stroke-width="0.6"/>
<path d="M488.70 647.40H495.30" stroke="#333" stroke-width="0.5"/>
<text transform="translate(481.40,643.10) scale(0.648,0.430)" font-size="10" font-weight="normal" fill="#222" text-anchor="start" stroke="#222" stroke-width="0.3">p=0.14</text>
<path d="M517.10 550.20C517.12 552.67 517.12 560.03 517.20 565.00C517.28 569.97 517.38 575.50 517.60 580.00C517.82 584.50 518.29 588.67 518.50 592.00C518.71 595.33 518.85 597.00 518.85 600.00C518.85 603.00 518.62 606.48 518.50 610.00C518.38 613.52 518.17 619.25 518.10 621.10L511.70 621.10C511.63 619.25 511.42 613.52 511.30 610.00C511.17 606.48 510.95 603.00 510.95 600.00C510.95 597.00 511.09 595.33 511.30 592.00C511.51 588.67 511.98 584.50 512.20 580.00C512.42 575.50 512.52 569.97 512.60 565.00C512.68 560.03 512.68 552.67 512.70 550.20Z" fill="#0000DD" stroke="#00006A" stroke-width="0.5" stroke-linejoin="round"/>
<path d="M514.90 556.00V618.00" stroke="#000" stroke-width="0.3"/>
<path d="M514.90 580.00V608.00" stroke="#000" stroke-width="0.6"/>
<ellipse cx="514.90" cy="599.30" rx="1.7" ry="0.95" fill="#fff"/>
<path d="M526.40 500.40C526.50 502.33 526.77 507.90 527.00 512.00C527.23 516.10 527.62 521.33 527.80 525.00C527.97 528.67 528.10 530.17 528.05 534.00C528.00 537.83 527.69 542.83 527.50 548.00C527.31 553.17 527.12 558.57 526.90 565.00C526.68 571.43 526.32 583.00 526.20 586.60L521.80 586.60C521.68 583.00 521.32 571.43 521.10 565.00C520.88 558.57 520.69 553.17 520.50 548.00C520.31 542.83 520.00 537.83 519.95 534.00C519.90 530.17 520.03 528.67 520.20 525.00C520.38 521.33 520.77 516.10 521.00 512.00C521.23 507.90 521.50 502.33 521.60 500.40Z" fill="#E00000" stroke="#700000" stroke-width="0.5" stroke-linejoin="round"/>
<path d="M524.00 504.00V584.00" stroke="#000" stroke-width="0.3"/>
<path d="M524.00 522.00V560.00" stroke="#000" stroke-width="0.6"/>
<ellipse cx="524.00" cy="533.70" rx="1.7" ry="0.95" fill="#fff"/>
<path d="M516.40 500.40H524.40" stroke="#333" stroke-width="0.5"/>
<text transform="translate(504.30,498.80)" font-size="6.9" font-weight="bold" fill="#000" text-anchor="start" textLength="37.50" lengthAdjust="spacingAndGlyphs">p=0.001</text>
<path d="M532.5 649.4H555" stroke="#333" stroke-width="0.6"/>
<path d="M560.2 649.4H582.2" stroke="#333" stroke-width="0.6"/>
<path d="M589.4 649.4H611.6" stroke="#333" stroke-width="0.6"/>
<path d="M619.5 649.6H641.7" stroke="#333" stroke-width="0.6"/>
<path d="M652 650.4H673.7" stroke="#333" stroke-width="0.6"/>
<text transform="translate(72.20,700.90) rotate(-90)" font-size="9.2" font-weight="bold" fill="#000" text-anchor="start" textLength="39.20" lengthAdjust="spacingAndGlyphs" stroke="#000" stroke-width="0.35">B cells naive</text>
<text transform="translate(99.90,709.70) rotate(-90)" font-size="9.2" font-weight="bold" fill="#000" text-anchor="start" textLength="47.70" lengthAdjust="spacingAndGlyphs" stroke="#000" stroke-width="0.35">B cells memory</text>
<text transform="translate(128.30,700.00) rotate(-90)" font-size="9.2" font-weight="bold" fill="#000" text-anchor="start" textLength="38.90" lengthAdjust="spacingAndGlyphs" stroke="#000" stroke-width="0.35">Plasma cells</text>
<text transform="translate(156.90,698.80) rotate(-90)" font-size="9.2" font-weight="bold" fill="#00B050" text-anchor="start" textLength="42.00" lengthAdjust="spacingAndGlyphs" stroke="#00B050" stroke-width="0.35">T cells CD8+</text>
<text transform="translate(183.60,714.90) rotate(-90)" font-size="9.2" font-weight="bold" fill="#000" text-anchor="start" textLength="53.30" lengthAdjust="spacingAndGlyphs" stroke="#000" stroke-width="0.35">T cells CD4 naive</text>
<text transform="translate(213.30,747.50) rotate(-90)" font-size="9.2" font-weight="bold" fill="#000" text-anchor="start" textLength="85.90" lengthAdjust="spacingAndGlyphs" stroke="#000" stroke-width="0.35">T cells CD4 memory resting</text>
<text transform="translate(242.70,754.80) rotate(-90)" font-size="9.2" font-weight="bold" fill="#000" text-anchor="start" textLength="92.40" lengthAdjust="spacingAndGlyphs" stroke="#000" stroke-width="0.35">T cells CD4 memory activated</text>
<text transform="translate(269.80,739.60) rotate(-90)" font-size="9.2" font-weight="bold" fill="#000" text-anchor="start" textLength="78.00" lengthAdjust="spacingAndGlyphs" stroke="#000" stroke-width="0.35">T cells regulatory (Tregs)</text>
<text transform="translate(298.70,727.80) rotate(-90)" font-size="9.2" font-weight="bold" fill="#00B050" text-anchor="start" textLength="66.20" lengthAdjust="spacingAndGlyphs" stroke="#00B050" stroke-width="0.35">T cells gamma delta</text>
<text transform="translate(327.60,711.00) rotate(-90)" font-size="9.2" font-weight="bold" fill="#000" text-anchor="start" textLength="49.40" lengthAdjust="spacingAndGlyphs" stroke="#000" stroke-width="0.35">NK cells resting</text>
<text transform="translate(351.80,695.70) rotate(-90)" font-size="9.2" font-weight="bold" fill="#000" text-anchor="start" textLength="34.10" lengthAdjust="spacingAndGlyphs" stroke="#000" stroke-width="0.35">Monocytes</text>
<text transform="translate(383.30,718.10) rotate(-90)" font-size="9.2" font-weight="bold" fill="#FF0000" text-anchor="start" textLength="56.50" lengthAdjust="spacingAndGlyphs" stroke="#FF0000" stroke-width="0.35">Macrophages M0</text>
<text transform="translate(409.60,715.40) rotate(-90)" font-size="9.2" font-weight="bold" fill="#000" text-anchor="start" textLength="53.80" lengthAdjust="spacingAndGlyphs" stroke="#000" stroke-width="0.35">Macrophages M2</text>
<text transform="translate(436.60,737.00) rotate(-90)" font-size="9.2" font-weight="bold" fill="#000" text-anchor="start" textLength="74.60" lengthAdjust="spacingAndGlyphs" stroke="#000" stroke-width="0.35">Dendritic cells activated</text>
<text transform="translate(466.00,720.20) rotate(-90)" font-size="9.2" font-weight="bold" fill="#00B050" text-anchor="start" textLength="58.60" lengthAdjust="spacingAndGlyphs" stroke="#00B050" stroke-width="0.35">Mast cells resting</text>
<text transform="translate(496.80,722.80) rotate(-90)" font-size="9.2" font-weight="bold" fill="#000" text-anchor="start" textLength="61.20" lengthAdjust="spacingAndGlyphs" stroke="#000" stroke-width="0.35">Mast cells activated</text>
<text transform="translate(519.10,699.70) rotate(-90)" font-size="9.2" font-weight="bold" fill="#FF0000" text-anchor="start" textLength="38.90" lengthAdjust="spacingAndGlyphs" stroke="#FF0000" stroke-width="0.35">Neutrophils</text>
<text transform="translate(546.70,732.50) rotate(-90)" font-size="9.2" font-weight="bold" fill="#000" text-anchor="start" textLength="70.10" lengthAdjust="spacingAndGlyphs" stroke="#000" stroke-width="0.35">T cells follicular helper</text>
<text transform="translate(574.30,699.70) rotate(-90)" font-size="9.2" font-weight="bold" fill="#000" text-anchor="start" textLength="37.30" lengthAdjust="spacingAndGlyphs" stroke="#000" stroke-width="0.35">Eosinophils</text>
<text transform="translate(604.00,718.10) rotate(-90)" font-size="9.2" font-weight="bold" fill="#000" text-anchor="start" textLength="55.70" lengthAdjust="spacingAndGlyphs" stroke="#000" stroke-width="0.35">NK cells activated</text>
<text transform="translate(632.90,714.10) rotate(-90)" font-size="9.2" font-weight="bold" fill="#000" text-anchor="start" textLength="51.70" lengthAdjust="spacingAndGlyphs" stroke="#000" stroke-width="0.35">Macrophages M1</text>
<text transform="translate(665.70,729.10) rotate(-90)" font-size="9.2" font-weight="bold" fill="#000" text-anchor="start" textLength="66.70" lengthAdjust="spacingAndGlyphs" stroke="#000" stroke-width="0.35">Dendritic cells resting</text>
</g>
</svg></body></html>
